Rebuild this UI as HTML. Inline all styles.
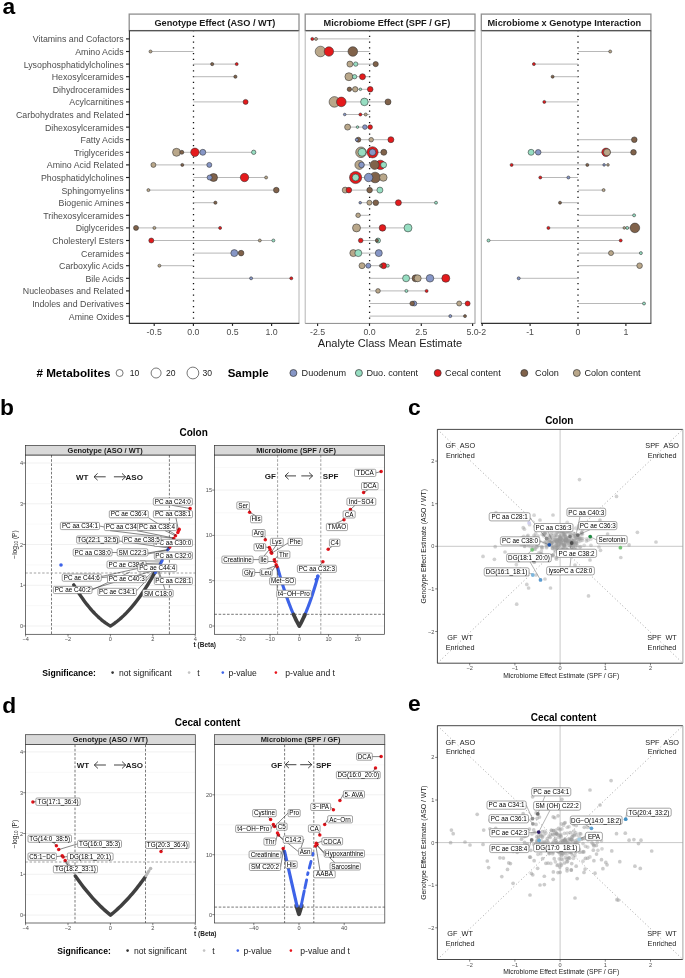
<!DOCTYPE html>
<html><head><meta charset="utf-8"><style>
html,body{margin:0;padding:0;background:#fff;width:685px;height:978px;overflow:hidden}
svg{display:block;filter:blur(0.3px)}
text{font-family:"Liberation Sans", sans-serif}
</style></head><body>
<svg width="685" height="978" viewBox="0 0 685 978" font-family="Liberation Sans, sans-serif">
<rect width="685" height="978" fill="#fff"/>
<text x="2.40" y="13.90" font-size="22.8" font-weight="bold" text-anchor="start" fill="#000">a</text>
<rect x="129.20" y="14.10" width="169.80" height="16.50" fill="#fff" stroke="#8f8f8f" stroke-width="1.3"/>
<line x1="129.20" y1="30.60" x2="299.00" y2="30.60" stroke="#555" stroke-width="1.1"/>
<text x="214.90" y="25.90" font-size="9.2" font-weight="bold" text-anchor="middle" fill="#1a1a1a">Genotype Effect (ASO / WT)</text>
<rect x="305.20" y="14.10" width="169.80" height="16.50" fill="#fff" stroke="#8f8f8f" stroke-width="1.3"/>
<line x1="305.20" y1="30.60" x2="475.00" y2="30.60" stroke="#555" stroke-width="1.1"/>
<text x="386.90" y="25.90" font-size="9.2" font-weight="bold" text-anchor="middle" fill="#1a1a1a">Microbiome Effect (SPF / GF)</text>
<rect x="481.30" y="14.10" width="169.60" height="16.50" fill="#fff" stroke="#8f8f8f" stroke-width="1.3"/>
<line x1="481.30" y1="30.60" x2="650.90" y2="30.60" stroke="#555" stroke-width="1.1"/>
<text x="564.30" y="25.90" font-size="9.2" font-weight="bold" text-anchor="middle" fill="#1a1a1a">Microbiome x Genotype Interaction</text>
<line x1="299.00" y1="30.60" x2="299.00" y2="323.40" stroke="#b4b4b4" stroke-width="1.0"/>
<line x1="305.20" y1="30.60" x2="305.20" y2="323.40" stroke="#b4b4b4" stroke-width="1.0"/>
<line x1="475.00" y1="30.60" x2="475.00" y2="323.40" stroke="#999" stroke-width="1.0"/>
<line x1="481.30" y1="30.60" x2="481.30" y2="323.40" stroke="#b0b0b0" stroke-width="1.0"/>
<line x1="650.90" y1="30.60" x2="650.90" y2="323.40" stroke="#555" stroke-width="1.1"/>
<line x1="129.40" y1="30.60" x2="129.40" y2="323.90" stroke="#333" stroke-width="1.1"/>
<line x1="129.40" y1="323.40" x2="299.30" y2="323.40" stroke="#333" stroke-width="1.1"/>
<line x1="305.20" y1="323.40" x2="475.30" y2="323.40" stroke="#8a8a8a" stroke-width="1.0"/>
<line x1="481.00" y1="323.40" x2="651.30" y2="323.40" stroke="#333" stroke-width="1.1"/>
<text x="123.60" y="42.40" font-size="8.8" text-anchor="end" fill="#4d4d4d">Vitamins and Cofactors</text>
<line x1="126.00" y1="38.90" x2="129.40" y2="38.90" stroke="#222" stroke-width="1.15"/>
<text x="123.60" y="55.00" font-size="8.8" text-anchor="end" fill="#4d4d4d">Amino Acids</text>
<line x1="126.00" y1="51.50" x2="129.40" y2="51.50" stroke="#222" stroke-width="1.15"/>
<text x="123.60" y="67.60" font-size="8.8" text-anchor="end" fill="#4d4d4d">Lysophosphatidylcholines</text>
<line x1="126.00" y1="64.10" x2="129.40" y2="64.10" stroke="#222" stroke-width="1.15"/>
<text x="123.60" y="80.20" font-size="8.8" text-anchor="end" fill="#4d4d4d">Hexosylceramides</text>
<line x1="126.00" y1="76.70" x2="129.40" y2="76.70" stroke="#222" stroke-width="1.15"/>
<text x="123.60" y="92.80" font-size="8.8" text-anchor="end" fill="#4d4d4d">Dihydroceramides</text>
<line x1="126.00" y1="89.30" x2="129.40" y2="89.30" stroke="#222" stroke-width="1.15"/>
<text x="123.60" y="105.40" font-size="8.8" text-anchor="end" fill="#4d4d4d">Acylcarnitines</text>
<line x1="126.00" y1="101.90" x2="129.40" y2="101.90" stroke="#222" stroke-width="1.15"/>
<text x="123.60" y="118.00" font-size="8.8" text-anchor="end" fill="#4d4d4d">Carbohydrates and Related</text>
<line x1="126.00" y1="114.50" x2="129.40" y2="114.50" stroke="#222" stroke-width="1.15"/>
<text x="123.60" y="130.60" font-size="8.8" text-anchor="end" fill="#4d4d4d">Dihexosylceramides</text>
<line x1="126.00" y1="127.10" x2="129.40" y2="127.10" stroke="#222" stroke-width="1.15"/>
<text x="123.60" y="143.20" font-size="8.8" text-anchor="end" fill="#4d4d4d">Fatty Acids</text>
<line x1="126.00" y1="139.70" x2="129.40" y2="139.70" stroke="#222" stroke-width="1.15"/>
<text x="123.60" y="155.80" font-size="8.8" text-anchor="end" fill="#4d4d4d">Triglycerides</text>
<line x1="126.00" y1="152.30" x2="129.40" y2="152.30" stroke="#222" stroke-width="1.15"/>
<text x="123.60" y="168.40" font-size="8.8" text-anchor="end" fill="#4d4d4d">Amino Acid Related</text>
<line x1="126.00" y1="164.90" x2="129.40" y2="164.90" stroke="#222" stroke-width="1.15"/>
<text x="123.60" y="181.00" font-size="8.8" text-anchor="end" fill="#4d4d4d">Phosphatidylcholines</text>
<line x1="126.00" y1="177.50" x2="129.40" y2="177.50" stroke="#222" stroke-width="1.15"/>
<text x="123.60" y="193.60" font-size="8.8" text-anchor="end" fill="#4d4d4d">Sphingomyelins</text>
<line x1="126.00" y1="190.10" x2="129.40" y2="190.10" stroke="#222" stroke-width="1.15"/>
<text x="123.60" y="206.20" font-size="8.8" text-anchor="end" fill="#4d4d4d">Biogenic Amines</text>
<line x1="126.00" y1="202.70" x2="129.40" y2="202.70" stroke="#222" stroke-width="1.15"/>
<text x="123.60" y="218.80" font-size="8.8" text-anchor="end" fill="#4d4d4d">Trihexosylceramides</text>
<line x1="126.00" y1="215.30" x2="129.40" y2="215.30" stroke="#222" stroke-width="1.15"/>
<text x="123.60" y="231.40" font-size="8.8" text-anchor="end" fill="#4d4d4d">Diglycerides</text>
<line x1="126.00" y1="227.90" x2="129.40" y2="227.90" stroke="#222" stroke-width="1.15"/>
<text x="123.60" y="244.00" font-size="8.8" text-anchor="end" fill="#4d4d4d">Cholesteryl Esters</text>
<line x1="126.00" y1="240.50" x2="129.40" y2="240.50" stroke="#222" stroke-width="1.15"/>
<text x="123.60" y="256.60" font-size="8.8" text-anchor="end" fill="#4d4d4d">Ceramides</text>
<line x1="126.00" y1="253.10" x2="129.40" y2="253.10" stroke="#222" stroke-width="1.15"/>
<text x="123.60" y="269.20" font-size="8.8" text-anchor="end" fill="#4d4d4d">Carboxylic Acids</text>
<line x1="126.00" y1="265.70" x2="129.40" y2="265.70" stroke="#222" stroke-width="1.15"/>
<text x="123.60" y="281.80" font-size="8.8" text-anchor="end" fill="#4d4d4d">Bile Acids</text>
<line x1="126.00" y1="278.30" x2="129.40" y2="278.30" stroke="#222" stroke-width="1.15"/>
<text x="123.60" y="294.40" font-size="8.8" text-anchor="end" fill="#4d4d4d">Nucleobases and Related</text>
<line x1="126.00" y1="290.90" x2="129.40" y2="290.90" stroke="#222" stroke-width="1.15"/>
<text x="123.60" y="307.00" font-size="8.8" text-anchor="end" fill="#4d4d4d">Indoles and Derivatives</text>
<line x1="126.00" y1="303.50" x2="129.40" y2="303.50" stroke="#222" stroke-width="1.15"/>
<text x="123.60" y="319.60" font-size="8.8" text-anchor="end" fill="#4d4d4d">Amine Oxides</text>
<line x1="126.00" y1="316.10" x2="129.40" y2="316.10" stroke="#222" stroke-width="1.15"/>
<line x1="193.50" y1="30.90" x2="193.50" y2="323.40" stroke="#111" stroke-width="1.3" stroke-dasharray="1.3 4.45" stroke-dashoffset="1.0"/>
<line x1="369.60" y1="30.90" x2="369.60" y2="323.40" stroke="#111" stroke-width="1.3" stroke-dasharray="1.3 4.45" stroke-dashoffset="1.0"/>
<line x1="578.00" y1="30.90" x2="578.00" y2="323.40" stroke="#111" stroke-width="1.3" stroke-dasharray="1.3 4.45" stroke-dashoffset="1.0"/>
<line x1="154.20" y1="323.40" x2="154.20" y2="325.90" stroke="#222" stroke-width="1.15"/>
<text x="154.20" y="335.40" font-size="8.8" text-anchor="middle" fill="#4d4d4d">-0.5</text>
<line x1="193.40" y1="323.40" x2="193.40" y2="325.90" stroke="#222" stroke-width="1.15"/>
<text x="193.40" y="335.40" font-size="8.8" text-anchor="middle" fill="#4d4d4d">0.0</text>
<line x1="232.50" y1="323.40" x2="232.50" y2="325.90" stroke="#222" stroke-width="1.15"/>
<text x="232.50" y="335.40" font-size="8.8" text-anchor="middle" fill="#4d4d4d">0.5</text>
<line x1="271.60" y1="323.40" x2="271.60" y2="325.90" stroke="#222" stroke-width="1.15"/>
<text x="271.60" y="335.40" font-size="8.8" text-anchor="middle" fill="#4d4d4d">1.0</text>
<line x1="317.60" y1="323.40" x2="317.60" y2="325.90" stroke="#222" stroke-width="1.15"/>
<text x="317.60" y="335.40" font-size="8.8" text-anchor="middle" fill="#4d4d4d">-2.5</text>
<line x1="369.50" y1="323.40" x2="369.50" y2="325.90" stroke="#222" stroke-width="1.15"/>
<text x="369.50" y="335.40" font-size="8.8" text-anchor="middle" fill="#4d4d4d">0.0</text>
<line x1="421.30" y1="323.40" x2="421.30" y2="325.90" stroke="#222" stroke-width="1.15"/>
<text x="421.30" y="335.40" font-size="8.8" text-anchor="middle" fill="#4d4d4d">2.5</text>
<line x1="472.60" y1="323.40" x2="472.60" y2="325.90" stroke="#222" stroke-width="1.15"/>
<text x="472.60" y="335.40" font-size="8.8" text-anchor="middle" fill="#4d4d4d">5.0</text>
<line x1="482.20" y1="323.40" x2="482.20" y2="325.90" stroke="#222" stroke-width="1.15"/>
<text x="482.20" y="335.40" font-size="8.8" text-anchor="middle" fill="#4d4d4d">-2</text>
<line x1="530.10" y1="323.40" x2="530.10" y2="325.90" stroke="#222" stroke-width="1.15"/>
<text x="530.10" y="335.40" font-size="8.8" text-anchor="middle" fill="#4d4d4d">-1</text>
<line x1="578.00" y1="323.40" x2="578.00" y2="325.90" stroke="#222" stroke-width="1.15"/>
<text x="578.00" y="335.40" font-size="8.8" text-anchor="middle" fill="#4d4d4d">0</text>
<line x1="625.90" y1="323.40" x2="625.90" y2="325.90" stroke="#222" stroke-width="1.15"/>
<text x="625.90" y="335.40" font-size="8.8" text-anchor="middle" fill="#4d4d4d">1</text>
<text x="390.00" y="346.90" font-size="11.05" text-anchor="middle" fill="#1a1a1a">Analyte Class Mean Estimate</text>
<line x1="150.50" y1="51.50" x2="193.50" y2="51.50" stroke="#ababab" stroke-width="0.85"/>
<line x1="193.50" y1="64.10" x2="236.70" y2="64.10" stroke="#ababab" stroke-width="0.85"/>
<line x1="193.50" y1="76.70" x2="235.40" y2="76.70" stroke="#ababab" stroke-width="0.85"/>
<line x1="193.50" y1="101.90" x2="245.60" y2="101.90" stroke="#ababab" stroke-width="0.85"/>
<line x1="176.50" y1="152.30" x2="253.70" y2="152.30" stroke="#ababab" stroke-width="0.85"/>
<line x1="153.40" y1="164.90" x2="209.30" y2="164.90" stroke="#ababab" stroke-width="0.85"/>
<line x1="193.50" y1="177.50" x2="266.10" y2="177.50" stroke="#ababab" stroke-width="0.85"/>
<line x1="148.40" y1="190.10" x2="276.30" y2="190.10" stroke="#ababab" stroke-width="0.85"/>
<line x1="193.50" y1="202.70" x2="215.40" y2="202.70" stroke="#ababab" stroke-width="0.85"/>
<line x1="136.00" y1="227.90" x2="220.10" y2="227.90" stroke="#ababab" stroke-width="0.85"/>
<line x1="151.30" y1="240.50" x2="273.40" y2="240.50" stroke="#ababab" stroke-width="0.85"/>
<line x1="193.50" y1="253.10" x2="241.10" y2="253.10" stroke="#ababab" stroke-width="0.85"/>
<line x1="159.40" y1="265.70" x2="193.50" y2="265.70" stroke="#ababab" stroke-width="0.85"/>
<line x1="193.50" y1="278.30" x2="291.30" y2="278.30" stroke="#ababab" stroke-width="0.85"/>
<circle cx="150.50" cy="51.50" r="1.50" fill="#b9a78a" stroke="#2e2e2e" stroke-width="0.55"/>
<circle cx="212.20" cy="64.10" r="1.60" fill="#80624a" stroke="#2e2e2e" stroke-width="0.55"/>
<circle cx="236.70" cy="64.10" r="1.50" fill="#e41a1c" stroke="#2e2e2e" stroke-width="0.55"/>
<circle cx="235.40" cy="76.70" r="1.60" fill="#80624a" stroke="#2e2e2e" stroke-width="0.55"/>
<circle cx="245.60" cy="101.90" r="2.50" fill="#e41a1c" stroke="#2e2e2e" stroke-width="0.55"/>
<circle cx="194.90" cy="152.30" r="4.20" fill="#e41a1c" stroke="#2e2e2e" stroke-width="0.55"/>
<circle cx="176.50" cy="152.30" r="4.00" fill="#b9a78a" stroke="#2e2e2e" stroke-width="0.55"/>
<circle cx="202.80" cy="152.30" r="3.00" fill="#8696c6" stroke="#2e2e2e" stroke-width="0.55"/>
<circle cx="253.70" cy="152.30" r="2.20" fill="#97dec2" stroke="#2e2e2e" stroke-width="0.55"/>
<circle cx="181.80" cy="152.30" r="2.00" fill="#80624a" stroke="#2e2e2e" stroke-width="0.55"/>
<circle cx="153.40" cy="164.90" r="2.50" fill="#b9a78a" stroke="#2e2e2e" stroke-width="0.55"/>
<circle cx="209.30" cy="164.90" r="2.50" fill="#8696c6" stroke="#2e2e2e" stroke-width="0.55"/>
<circle cx="182.30" cy="164.90" r="1.50" fill="#80624a" stroke="#2e2e2e" stroke-width="0.55"/>
<circle cx="244.50" cy="177.50" r="4.20" fill="#e41a1c" stroke="#2e2e2e" stroke-width="0.55"/>
<circle cx="213.50" cy="177.50" r="4.00" fill="#80624a" stroke="#2e2e2e" stroke-width="0.55"/>
<circle cx="209.60" cy="177.50" r="2.50" fill="#8696c6" stroke="#2e2e2e" stroke-width="0.55"/>
<circle cx="266.10" cy="177.50" r="1.50" fill="#b9a78a" stroke="#2e2e2e" stroke-width="0.55"/>
<circle cx="276.30" cy="190.10" r="2.80" fill="#80624a" stroke="#2e2e2e" stroke-width="0.55"/>
<circle cx="148.40" cy="190.10" r="1.50" fill="#b9a78a" stroke="#2e2e2e" stroke-width="0.55"/>
<circle cx="215.40" cy="202.70" r="1.60" fill="#80624a" stroke="#2e2e2e" stroke-width="0.55"/>
<circle cx="136.00" cy="227.90" r="2.50" fill="#80624a" stroke="#2e2e2e" stroke-width="0.55"/>
<circle cx="154.40" cy="227.90" r="1.50" fill="#b9a78a" stroke="#2e2e2e" stroke-width="0.55"/>
<circle cx="220.10" cy="227.90" r="1.50" fill="#e41a1c" stroke="#2e2e2e" stroke-width="0.55"/>
<circle cx="151.30" cy="240.50" r="2.50" fill="#e41a1c" stroke="#2e2e2e" stroke-width="0.55"/>
<circle cx="259.80" cy="240.50" r="1.50" fill="#b9a78a" stroke="#2e2e2e" stroke-width="0.55"/>
<circle cx="273.40" cy="240.50" r="1.50" fill="#97dec2" stroke="#2e2e2e" stroke-width="0.55"/>
<circle cx="234.30" cy="253.10" r="3.50" fill="#8696c6" stroke="#2e2e2e" stroke-width="0.55"/>
<circle cx="241.10" cy="253.10" r="2.80" fill="#80624a" stroke="#2e2e2e" stroke-width="0.55"/>
<circle cx="159.40" cy="265.70" r="1.50" fill="#b9a78a" stroke="#2e2e2e" stroke-width="0.55"/>
<circle cx="251.10" cy="278.30" r="1.50" fill="#8696c6" stroke="#2e2e2e" stroke-width="0.55"/>
<circle cx="291.30" cy="278.30" r="1.50" fill="#e41a1c" stroke="#2e2e2e" stroke-width="0.55"/>
<line x1="312.30" y1="38.90" x2="369.60" y2="38.90" stroke="#ababab" stroke-width="0.85"/>
<line x1="320.50" y1="51.50" x2="369.60" y2="51.50" stroke="#ababab" stroke-width="0.85"/>
<line x1="349.90" y1="64.10" x2="375.70" y2="64.10" stroke="#ababab" stroke-width="0.85"/>
<line x1="348.90" y1="76.70" x2="369.60" y2="76.70" stroke="#ababab" stroke-width="0.85"/>
<line x1="349.40" y1="89.30" x2="370.20" y2="89.30" stroke="#ababab" stroke-width="0.85"/>
<line x1="334.40" y1="101.90" x2="388.00" y2="101.90" stroke="#ababab" stroke-width="0.85"/>
<line x1="344.70" y1="114.50" x2="369.60" y2="114.50" stroke="#ababab" stroke-width="0.85"/>
<line x1="347.60" y1="127.10" x2="370.20" y2="127.10" stroke="#ababab" stroke-width="0.85"/>
<line x1="356.80" y1="139.70" x2="390.90" y2="139.70" stroke="#ababab" stroke-width="0.85"/>
<line x1="361.00" y1="152.30" x2="383.80" y2="152.30" stroke="#ababab" stroke-width="0.85"/>
<line x1="359.40" y1="164.90" x2="383.60" y2="164.90" stroke="#ababab" stroke-width="0.85"/>
<line x1="355.60" y1="177.50" x2="383.30" y2="177.50" stroke="#ababab" stroke-width="0.85"/>
<line x1="345.20" y1="190.10" x2="379.90" y2="190.10" stroke="#ababab" stroke-width="0.85"/>
<line x1="360.20" y1="202.70" x2="436.00" y2="202.70" stroke="#ababab" stroke-width="0.85"/>
<line x1="358.10" y1="215.30" x2="369.60" y2="215.30" stroke="#ababab" stroke-width="0.85"/>
<line x1="356.50" y1="227.90" x2="408.00" y2="227.90" stroke="#ababab" stroke-width="0.85"/>
<line x1="360.70" y1="240.50" x2="378.00" y2="240.50" stroke="#ababab" stroke-width="0.85"/>
<line x1="353.30" y1="253.10" x2="378.80" y2="253.10" stroke="#ababab" stroke-width="0.85"/>
<line x1="362.00" y1="265.70" x2="387.80" y2="265.70" stroke="#ababab" stroke-width="0.85"/>
<line x1="369.60" y1="278.30" x2="445.80" y2="278.30" stroke="#ababab" stroke-width="0.85"/>
<line x1="369.60" y1="290.90" x2="426.60" y2="290.90" stroke="#ababab" stroke-width="0.85"/>
<line x1="369.60" y1="303.50" x2="467.60" y2="303.50" stroke="#ababab" stroke-width="0.85"/>
<line x1="369.60" y1="316.10" x2="465.00" y2="316.10" stroke="#ababab" stroke-width="0.85"/>
<circle cx="312.30" cy="38.90" r="1.50" fill="#e41a1c" stroke="#2e2e2e" stroke-width="0.55"/>
<circle cx="316.00" cy="38.90" r="1.50" fill="#b9a78a" stroke="#2e2e2e" stroke-width="0.55"/>
<circle cx="320.50" cy="51.50" r="5.30" fill="#b9a78a" stroke="#2e2e2e" stroke-width="0.55"/>
<circle cx="352.80" cy="51.50" r="4.80" fill="#80624a" stroke="#2e2e2e" stroke-width="0.55"/>
<circle cx="328.90" cy="51.50" r="4.70" fill="#e41a1c" stroke="#2e2e2e" stroke-width="0.55"/>
<circle cx="349.90" cy="64.10" r="3.00" fill="#b9a78a" stroke="#2e2e2e" stroke-width="0.55"/>
<circle cx="375.70" cy="64.10" r="2.60" fill="#80624a" stroke="#2e2e2e" stroke-width="0.55"/>
<circle cx="355.70" cy="64.10" r="2.20" fill="#97dec2" stroke="#2e2e2e" stroke-width="0.55"/>
<circle cx="348.90" cy="76.70" r="4.00" fill="#b9a78a" stroke="#2e2e2e" stroke-width="0.55"/>
<circle cx="362.50" cy="76.70" r="3.00" fill="#e41a1c" stroke="#2e2e2e" stroke-width="0.55"/>
<circle cx="354.60" cy="76.70" r="2.20" fill="#97dec2" stroke="#2e2e2e" stroke-width="0.55"/>
<circle cx="370.20" cy="89.30" r="2.80" fill="#e41a1c" stroke="#2e2e2e" stroke-width="0.55"/>
<circle cx="355.20" cy="89.30" r="2.70" fill="#b9a78a" stroke="#2e2e2e" stroke-width="0.55"/>
<circle cx="349.40" cy="89.30" r="2.20" fill="#80624a" stroke="#2e2e2e" stroke-width="0.55"/>
<circle cx="360.40" cy="89.30" r="1.30" fill="#97dec2" stroke="#2e2e2e" stroke-width="0.55"/>
<circle cx="334.40" cy="101.90" r="5.30" fill="#b9a78a" stroke="#2e2e2e" stroke-width="0.55"/>
<circle cx="341.30" cy="101.90" r="4.80" fill="#e41a1c" stroke="#2e2e2e" stroke-width="0.55"/>
<circle cx="364.40" cy="101.90" r="3.80" fill="#97dec2" stroke="#2e2e2e" stroke-width="0.55"/>
<circle cx="388.00" cy="101.90" r="3.00" fill="#80624a" stroke="#2e2e2e" stroke-width="0.55"/>
<circle cx="360.40" cy="114.50" r="1.50" fill="#e41a1c" stroke="#2e2e2e" stroke-width="0.55"/>
<circle cx="365.70" cy="114.50" r="1.50" fill="#b9a78a" stroke="#2e2e2e" stroke-width="0.55"/>
<circle cx="344.70" cy="114.50" r="1.30" fill="#8696c6" stroke="#2e2e2e" stroke-width="0.55"/>
<circle cx="347.60" cy="127.10" r="3.00" fill="#b9a78a" stroke="#2e2e2e" stroke-width="0.55"/>
<circle cx="364.90" cy="127.10" r="2.30" fill="#8696c6" stroke="#2e2e2e" stroke-width="0.55"/>
<circle cx="370.20" cy="127.10" r="2.30" fill="#e41a1c" stroke="#2e2e2e" stroke-width="0.55"/>
<circle cx="357.50" cy="127.10" r="1.30" fill="#97dec2" stroke="#2e2e2e" stroke-width="0.55"/>
<circle cx="390.90" cy="139.70" r="3.00" fill="#e41a1c" stroke="#2e2e2e" stroke-width="0.55"/>
<circle cx="358.30" cy="139.70" r="2.50" fill="#80624a" stroke="#2e2e2e" stroke-width="0.55"/>
<circle cx="371.20" cy="139.70" r="2.30" fill="#b9a78a" stroke="#2e2e2e" stroke-width="0.55"/>
<circle cx="356.80" cy="139.70" r="1.50" fill="#8696c6" stroke="#2e2e2e" stroke-width="0.55"/>
<circle cx="372.50" cy="152.30" r="5.60" fill="#e41a1c" stroke="#2e2e2e" stroke-width="0.55"/>
<circle cx="361.00" cy="152.30" r="5.30" fill="#b9a78a" stroke="#2e2e2e" stroke-width="0.55"/>
<circle cx="362.00" cy="152.30" r="4.00" fill="#97dec2" stroke="#2e2e2e" stroke-width="0.55"/>
<circle cx="372.50" cy="152.30" r="3.30" fill="#8696c6" stroke="#2e2e2e" stroke-width="0.55"/>
<circle cx="383.80" cy="152.30" r="3.00" fill="#80624a" stroke="#2e2e2e" stroke-width="0.55"/>
<circle cx="380.40" cy="164.90" r="4.70" fill="#e41a1c" stroke="#2e2e2e" stroke-width="0.55"/>
<circle cx="359.40" cy="164.90" r="4.50" fill="#b9a78a" stroke="#2e2e2e" stroke-width="0.55"/>
<circle cx="374.60" cy="164.90" r="4.50" fill="#80624a" stroke="#2e2e2e" stroke-width="0.55"/>
<circle cx="383.60" cy="164.90" r="3.00" fill="#97dec2" stroke="#2e2e2e" stroke-width="0.55"/>
<circle cx="361.50" cy="164.90" r="2.80" fill="#8696c6" stroke="#2e2e2e" stroke-width="0.55"/>
<circle cx="355.60" cy="177.50" r="6.10" fill="#e41a1c" stroke="#2e2e2e" stroke-width="0.55"/>
<circle cx="375.10" cy="177.50" r="5.30" fill="#80624a" stroke="#2e2e2e" stroke-width="0.55"/>
<circle cx="368.60" cy="177.50" r="4.20" fill="#8696c6" stroke="#2e2e2e" stroke-width="0.55"/>
<circle cx="383.30" cy="177.50" r="3.80" fill="#b9a78a" stroke="#2e2e2e" stroke-width="0.55"/>
<circle cx="355.60" cy="177.50" r="3.40" fill="#97dec2" stroke="#2e2e2e" stroke-width="0.55"/>
<circle cx="345.20" cy="190.10" r="3.00" fill="#b9a78a" stroke="#2e2e2e" stroke-width="0.55"/>
<circle cx="379.90" cy="190.10" r="3.00" fill="#97dec2" stroke="#2e2e2e" stroke-width="0.55"/>
<circle cx="348.90" cy="190.10" r="2.80" fill="#e41a1c" stroke="#2e2e2e" stroke-width="0.55"/>
<circle cx="369.60" cy="190.10" r="2.80" fill="#80624a" stroke="#2e2e2e" stroke-width="0.55"/>
<circle cx="398.40" cy="202.70" r="3.00" fill="#e41a1c" stroke="#2e2e2e" stroke-width="0.55"/>
<circle cx="375.80" cy="202.70" r="2.80" fill="#80624a" stroke="#2e2e2e" stroke-width="0.55"/>
<circle cx="369.40" cy="202.70" r="2.50" fill="#b9a78a" stroke="#2e2e2e" stroke-width="0.55"/>
<circle cx="436.00" cy="202.70" r="1.50" fill="#97dec2" stroke="#2e2e2e" stroke-width="0.55"/>
<circle cx="360.20" cy="202.70" r="1.30" fill="#8696c6" stroke="#2e2e2e" stroke-width="0.55"/>
<circle cx="358.10" cy="215.30" r="2.30" fill="#b9a78a" stroke="#2e2e2e" stroke-width="0.55"/>
<circle cx="356.50" cy="227.90" r="4.00" fill="#b9a78a" stroke="#2e2e2e" stroke-width="0.55"/>
<circle cx="408.00" cy="227.90" r="4.00" fill="#97dec2" stroke="#2e2e2e" stroke-width="0.55"/>
<circle cx="382.50" cy="227.90" r="3.30" fill="#e41a1c" stroke="#2e2e2e" stroke-width="0.55"/>
<circle cx="378.00" cy="240.50" r="2.50" fill="#97dec2" stroke="#2e2e2e" stroke-width="0.55"/>
<circle cx="360.70" cy="240.50" r="2.30" fill="#e41a1c" stroke="#2e2e2e" stroke-width="0.55"/>
<circle cx="377.00" cy="240.50" r="1.50" fill="#80624a" stroke="#2e2e2e" stroke-width="0.55"/>
<circle cx="353.30" cy="253.10" r="3.50" fill="#b9a78a" stroke="#2e2e2e" stroke-width="0.55"/>
<circle cx="358.30" cy="253.10" r="3.50" fill="#97dec2" stroke="#2e2e2e" stroke-width="0.55"/>
<circle cx="378.80" cy="253.10" r="3.50" fill="#8696c6" stroke="#2e2e2e" stroke-width="0.55"/>
<circle cx="362.00" cy="265.70" r="3.00" fill="#b9a78a" stroke="#2e2e2e" stroke-width="0.55"/>
<circle cx="383.60" cy="265.70" r="3.00" fill="#e41a1c" stroke="#2e2e2e" stroke-width="0.55"/>
<circle cx="368.30" cy="265.70" r="2.50" fill="#8696c6" stroke="#2e2e2e" stroke-width="0.55"/>
<circle cx="380.90" cy="265.70" r="1.50" fill="#80624a" stroke="#2e2e2e" stroke-width="0.55"/>
<circle cx="387.80" cy="265.70" r="1.50" fill="#97dec2" stroke="#2e2e2e" stroke-width="0.55"/>
<circle cx="445.80" cy="278.30" r="4.00" fill="#e41a1c" stroke="#2e2e2e" stroke-width="0.55"/>
<circle cx="430.00" cy="278.30" r="3.80" fill="#8696c6" stroke="#2e2e2e" stroke-width="0.55"/>
<circle cx="406.10" cy="278.30" r="3.50" fill="#97dec2" stroke="#2e2e2e" stroke-width="0.55"/>
<circle cx="415.60" cy="278.30" r="3.50" fill="#80624a" stroke="#2e2e2e" stroke-width="0.55"/>
<circle cx="417.70" cy="278.30" r="3.50" fill="#b9a78a" stroke="#2e2e2e" stroke-width="0.55"/>
<circle cx="378.00" cy="290.90" r="2.30" fill="#b9a78a" stroke="#2e2e2e" stroke-width="0.55"/>
<circle cx="406.40" cy="290.90" r="1.50" fill="#97dec2" stroke="#2e2e2e" stroke-width="0.55"/>
<circle cx="426.60" cy="290.90" r="1.50" fill="#e41a1c" stroke="#2e2e2e" stroke-width="0.55"/>
<circle cx="414.30" cy="303.50" r="2.50" fill="#8696c6" stroke="#2e2e2e" stroke-width="0.55"/>
<circle cx="459.20" cy="303.50" r="2.50" fill="#b9a78a" stroke="#2e2e2e" stroke-width="0.55"/>
<circle cx="467.60" cy="303.50" r="2.50" fill="#e41a1c" stroke="#2e2e2e" stroke-width="0.55"/>
<circle cx="412.20" cy="303.50" r="2.30" fill="#80624a" stroke="#2e2e2e" stroke-width="0.55"/>
<circle cx="450.30" cy="316.10" r="1.50" fill="#8696c6" stroke="#2e2e2e" stroke-width="0.55"/>
<circle cx="465.00" cy="316.10" r="1.50" fill="#80624a" stroke="#2e2e2e" stroke-width="0.55"/>
<line x1="578.00" y1="51.50" x2="610.20" y2="51.50" stroke="#ababab" stroke-width="0.85"/>
<line x1="533.90" y1="64.10" x2="578.00" y2="64.10" stroke="#ababab" stroke-width="0.85"/>
<line x1="552.60" y1="76.70" x2="578.00" y2="76.70" stroke="#ababab" stroke-width="0.85"/>
<line x1="544.30" y1="101.90" x2="578.00" y2="101.90" stroke="#ababab" stroke-width="0.85"/>
<line x1="578.00" y1="139.70" x2="634.30" y2="139.70" stroke="#ababab" stroke-width="0.85"/>
<line x1="531.10" y1="152.30" x2="633.50" y2="152.30" stroke="#ababab" stroke-width="0.85"/>
<line x1="511.60" y1="164.90" x2="608.00" y2="164.90" stroke="#ababab" stroke-width="0.85"/>
<line x1="540.30" y1="177.50" x2="578.00" y2="177.50" stroke="#ababab" stroke-width="0.85"/>
<line x1="578.00" y1="190.10" x2="603.60" y2="190.10" stroke="#ababab" stroke-width="0.85"/>
<line x1="560.00" y1="202.70" x2="578.00" y2="202.70" stroke="#ababab" stroke-width="0.85"/>
<line x1="578.00" y1="215.30" x2="634.10" y2="215.30" stroke="#ababab" stroke-width="0.85"/>
<line x1="548.40" y1="227.90" x2="634.90" y2="227.90" stroke="#ababab" stroke-width="0.85"/>
<line x1="488.50" y1="240.50" x2="620.70" y2="240.50" stroke="#ababab" stroke-width="0.85"/>
<line x1="578.00" y1="253.10" x2="640.90" y2="253.10" stroke="#ababab" stroke-width="0.85"/>
<line x1="578.00" y1="265.70" x2="639.60" y2="265.70" stroke="#ababab" stroke-width="0.85"/>
<line x1="518.70" y1="278.30" x2="578.00" y2="278.30" stroke="#ababab" stroke-width="0.85"/>
<line x1="578.00" y1="303.50" x2="644.00" y2="303.50" stroke="#ababab" stroke-width="0.85"/>
<circle cx="610.20" cy="51.50" r="1.50" fill="#b9a78a" stroke="#2e2e2e" stroke-width="0.55"/>
<circle cx="533.90" cy="64.10" r="1.50" fill="#e41a1c" stroke="#2e2e2e" stroke-width="0.55"/>
<circle cx="552.60" cy="76.70" r="1.50" fill="#80624a" stroke="#2e2e2e" stroke-width="0.55"/>
<circle cx="544.30" cy="101.90" r="1.50" fill="#e41a1c" stroke="#2e2e2e" stroke-width="0.55"/>
<circle cx="634.30" cy="139.70" r="2.80" fill="#80624a" stroke="#2e2e2e" stroke-width="0.55"/>
<circle cx="606.00" cy="152.30" r="4.20" fill="#e41a1c" stroke="#2e2e2e" stroke-width="0.55"/>
<circle cx="607.00" cy="152.30" r="3.50" fill="#b9a78a" stroke="#2e2e2e" stroke-width="0.55"/>
<circle cx="531.10" cy="152.30" r="3.00" fill="#97dec2" stroke="#2e2e2e" stroke-width="0.55"/>
<circle cx="538.20" cy="152.30" r="2.80" fill="#8696c6" stroke="#2e2e2e" stroke-width="0.55"/>
<circle cx="633.50" cy="152.30" r="2.80" fill="#80624a" stroke="#2e2e2e" stroke-width="0.55"/>
<circle cx="511.60" cy="164.90" r="1.50" fill="#e41a1c" stroke="#2e2e2e" stroke-width="0.55"/>
<circle cx="587.30" cy="164.90" r="1.50" fill="#80624a" stroke="#2e2e2e" stroke-width="0.55"/>
<circle cx="604.10" cy="164.90" r="1.30" fill="#8696c6" stroke="#2e2e2e" stroke-width="0.55"/>
<circle cx="608.00" cy="164.90" r="1.30" fill="#b9a78a" stroke="#2e2e2e" stroke-width="0.55"/>
<circle cx="540.30" cy="177.50" r="1.50" fill="#e41a1c" stroke="#2e2e2e" stroke-width="0.55"/>
<circle cx="568.40" cy="177.50" r="1.50" fill="#8696c6" stroke="#2e2e2e" stroke-width="0.55"/>
<circle cx="603.60" cy="190.10" r="1.50" fill="#b9a78a" stroke="#2e2e2e" stroke-width="0.55"/>
<circle cx="560.00" cy="202.70" r="1.50" fill="#80624a" stroke="#2e2e2e" stroke-width="0.55"/>
<circle cx="634.10" cy="215.30" r="1.50" fill="#97dec2" stroke="#2e2e2e" stroke-width="0.55"/>
<circle cx="634.90" cy="227.90" r="4.80" fill="#80624a" stroke="#2e2e2e" stroke-width="0.55"/>
<circle cx="548.40" cy="227.90" r="1.50" fill="#e41a1c" stroke="#2e2e2e" stroke-width="0.55"/>
<circle cx="627.20" cy="227.90" r="1.50" fill="#97dec2" stroke="#2e2e2e" stroke-width="0.55"/>
<circle cx="624.30" cy="227.90" r="1.30" fill="#b9a78a" stroke="#2e2e2e" stroke-width="0.55"/>
<circle cx="488.50" cy="240.50" r="1.50" fill="#97dec2" stroke="#2e2e2e" stroke-width="0.55"/>
<circle cx="620.70" cy="240.50" r="1.50" fill="#e41a1c" stroke="#2e2e2e" stroke-width="0.55"/>
<circle cx="611.00" cy="253.10" r="2.50" fill="#b9a78a" stroke="#2e2e2e" stroke-width="0.55"/>
<circle cx="640.90" cy="253.10" r="1.50" fill="#97dec2" stroke="#2e2e2e" stroke-width="0.55"/>
<circle cx="639.60" cy="265.70" r="2.80" fill="#b9a78a" stroke="#2e2e2e" stroke-width="0.55"/>
<circle cx="518.70" cy="278.30" r="1.50" fill="#8696c6" stroke="#2e2e2e" stroke-width="0.55"/>
<circle cx="644.00" cy="303.50" r="1.50" fill="#97dec2" stroke="#2e2e2e" stroke-width="0.55"/>
<text x="36.40" y="377.10" font-size="11.7" font-weight="bold" text-anchor="start" fill="#000"># Metabolites</text>
<circle cx="119.60" cy="373.00" r="3.50" fill="#fff" stroke="#555" stroke-width="0.8"/>
<text x="129.80" y="376.10" font-size="8.6" text-anchor="start" fill="#1a1a1a">10</text>
<circle cx="156.10" cy="373.00" r="5.00" fill="#fff" stroke="#555" stroke-width="0.8"/>
<text x="166.10" y="376.10" font-size="8.6" text-anchor="start" fill="#1a1a1a">20</text>
<circle cx="192.90" cy="373.00" r="5.90" fill="#fff" stroke="#555" stroke-width="0.8"/>
<text x="202.50" y="376.10" font-size="8.6" text-anchor="start" fill="#1a1a1a">30</text>
<text x="227.70" y="377.10" font-size="11.5" font-weight="bold" text-anchor="start" fill="#000">Sample</text>
<circle cx="293.40" cy="373.00" r="3.50" fill="#8696c6" stroke="#333" stroke-width="0.7"/>
<text x="301.60" y="376.20" font-size="9.1" text-anchor="start" fill="#1a1a1a">Duodenum</text>
<circle cx="358.90" cy="373.00" r="3.50" fill="#97dec2" stroke="#333" stroke-width="0.7"/>
<text x="366.50" y="376.20" font-size="9.1" text-anchor="start" fill="#1a1a1a">Duo. content</text>
<circle cx="437.70" cy="373.00" r="3.50" fill="#e41a1c" stroke="#333" stroke-width="0.7"/>
<text x="445.10" y="376.20" font-size="9.1" text-anchor="start" fill="#1a1a1a">Cecal content</text>
<circle cx="524.30" cy="373.00" r="3.50" fill="#80624a" stroke="#333" stroke-width="0.7"/>
<text x="535.10" y="376.20" font-size="9.1" text-anchor="start" fill="#1a1a1a">Colon</text>
<circle cx="576.80" cy="373.00" r="3.50" fill="#b9a78a" stroke="#333" stroke-width="0.7"/>
<text x="584.40" y="376.20" font-size="9.1" text-anchor="start" fill="#1a1a1a">Colon content</text>
<text x="-0.10" y="415.30" font-size="22.8" font-weight="bold" text-anchor="start" fill="#000">b</text>
<text x="193.60" y="436.40" font-size="10" font-weight="bold" text-anchor="middle" fill="#000">Colon</text>
<rect x="25.40" y="455.00" width="169.90" height="179.30" fill="#fff" stroke="none" stroke-width="1"/>
<line x1="25.40" y1="626.00" x2="195.30" y2="626.00" stroke="#ebebeb" stroke-width="0.7"/>
<line x1="25.40" y1="585.25" x2="195.30" y2="585.25" stroke="#ebebeb" stroke-width="0.7"/>
<line x1="25.40" y1="544.50" x2="195.30" y2="544.50" stroke="#ebebeb" stroke-width="0.7"/>
<line x1="25.40" y1="503.75" x2="195.30" y2="503.75" stroke="#ebebeb" stroke-width="0.7"/>
<line x1="25.40" y1="463.00" x2="195.30" y2="463.00" stroke="#ebebeb" stroke-width="0.7"/>
<line x1="25.40" y1="605.62" x2="195.30" y2="605.62" stroke="#f3f3f3" stroke-width="0.5"/>
<line x1="25.40" y1="564.88" x2="195.30" y2="564.88" stroke="#f3f3f3" stroke-width="0.5"/>
<line x1="25.40" y1="524.12" x2="195.30" y2="524.12" stroke="#f3f3f3" stroke-width="0.5"/>
<line x1="25.40" y1="483.38" x2="195.30" y2="483.38" stroke="#f3f3f3" stroke-width="0.5"/>
<line x1="51.50" y1="455.00" x2="51.50" y2="634.30" stroke="#444" stroke-width="0.7" stroke-dasharray="2.6 1.6"/>
<line x1="169.40" y1="455.00" x2="169.40" y2="634.30" stroke="#444" stroke-width="0.7" stroke-dasharray="2.6 1.6"/>
<line x1="25.40" y1="573.00" x2="195.30" y2="573.00" stroke="#8a8a8a" stroke-width="0.8" stroke-dasharray="2.4 1.8"/>
<text x="76.00" y="479.70" font-size="8.0" font-weight="bold" text-anchor="start" fill="#1a1a1a">WT</text>
<path d="M105.70,476.80 H94.00 M97.60,473.40 L94.00,476.80 L97.60,480.20" fill="none" stroke="#222" stroke-width="0.85"/>
<path d="M113.90,476.80 H125.60 M122.00,473.40 L125.60,476.80 L122.00,480.20" fill="none" stroke="#222" stroke-width="0.85"/>
<text x="125.60" y="479.70" font-size="8.0" font-weight="bold" text-anchor="start" fill="#1a1a1a">ASO</text>
<path d="M73.70,584.90 L75.23,587.43 L76.76,589.89 L78.29,592.29 L79.82,594.60 L81.35,596.85 L82.88,599.03 L84.40,601.13 L85.93,603.17 L87.46,605.13 L88.99,607.02 L90.52,608.84 L92.05,610.59 L93.58,612.26 L95.11,613.87 L96.64,615.40 L98.17,616.87 L99.70,618.26 L101.23,619.58 L102.75,620.83 L104.28,622.00 L105.81,623.11 L107.34,624.14 L108.87,625.11 L110.40,626.00 L112.26,624.83 L114.12,623.58 L115.98,622.22 L117.83,620.78 L119.69,619.24 L121.55,617.61 L123.41,615.88 L125.27,614.07 L127.12,612.16 L128.98,610.15 L130.84,608.05 L132.70,605.86 L134.56,603.58 L136.42,601.20 L138.28,598.73 L140.13,596.17 L141.99,593.51 L143.85,590.76 L145.71,587.92 L147.57,584.98 L149.43,581.95 L151.28,578.83 L153.14,575.61 L155.00,572.30" fill="none" stroke="#404040" stroke-width="3.4" stroke-linecap="round" stroke-linejoin="round"/>
<path d="M155.30,572.60 L157.00,569.60" fill="none" stroke="#3d63e8" stroke-width="3.0" stroke-linecap="round" stroke-linejoin="round"/>
<path d="M160.00,564.50 L162.30,560.20" fill="none" stroke="#3d63e8" stroke-width="3.0" stroke-linecap="round" stroke-linejoin="round"/>
<path d="M167.60,550.00 L169.30,547.60" fill="none" stroke="#3d63e8" stroke-width="3.0" stroke-linecap="round" stroke-linejoin="round"/>
<circle cx="61.00" cy="565.00" r="1.80" fill="#3d63e8" stroke="none" stroke-width="0.5"/>
<circle cx="169.80" cy="547.00" r="1.75" fill="#e8131b" stroke="none" stroke-width="0.5"/>
<circle cx="173.70" cy="538.40" r="1.75" fill="#e8131b" stroke="none" stroke-width="0.5"/>
<circle cx="175.50" cy="535.80" r="1.75" fill="#e8131b" stroke="none" stroke-width="0.5"/>
<circle cx="177.80" cy="532.60" r="1.75" fill="#e8131b" stroke="none" stroke-width="0.5"/>
<circle cx="178.60" cy="530.40" r="1.75" fill="#e8131b" stroke="none" stroke-width="0.5"/>
<circle cx="179.20" cy="529.20" r="1.75" fill="#e8131b" stroke="none" stroke-width="0.5"/>
<circle cx="190.10" cy="508.50" r="1.75" fill="#e8131b" stroke="none" stroke-width="0.5"/>
<line x1="172.00" y1="505.30" x2="190.10" y2="508.50" stroke="#222" stroke-width="0.55"/>
<line x1="148.30" y1="517.60" x2="176.00" y2="535.00" stroke="#222" stroke-width="0.55"/>
<line x1="176.00" y1="518.00" x2="178.40" y2="530.00" stroke="#222" stroke-width="0.55"/>
<line x1="99.50" y1="526.00" x2="104.40" y2="527.00" stroke="#222" stroke-width="0.55"/>
<line x1="137.00" y1="530.70" x2="173.50" y2="538.00" stroke="#222" stroke-width="0.55"/>
<line x1="119.10" y1="541.00" x2="169.00" y2="548.00" stroke="#222" stroke-width="0.55"/>
<line x1="161.00" y1="543.00" x2="169.20" y2="548.00" stroke="#222" stroke-width="0.55"/>
<line x1="112.10" y1="552.50" x2="117.20" y2="552.50" stroke="#222" stroke-width="0.55"/>
<line x1="147.80" y1="553.00" x2="168.00" y2="549.50" stroke="#222" stroke-width="0.55"/>
<line x1="140.00" y1="561.00" x2="161.00" y2="561.00" stroke="#222" stroke-width="0.55"/>
<line x1="101.30" y1="577.60" x2="107.50" y2="577.00" stroke="#222" stroke-width="0.55"/>
<line x1="92.00" y1="590.00" x2="130.00" y2="572.00" stroke="#222" stroke-width="0.55"/>
<line x1="136.40" y1="591.00" x2="157.00" y2="569.00" stroke="#222" stroke-width="0.55"/>
<line x1="165.00" y1="589.70" x2="158.00" y2="568.00" stroke="#222" stroke-width="0.55"/>
<line x1="160.00" y1="577.30" x2="157.50" y2="570.00" stroke="#222" stroke-width="0.55"/>
<line x1="146.00" y1="578.00" x2="157.00" y2="568.00" stroke="#222" stroke-width="0.55"/>
<line x1="141.00" y1="568.00" x2="158.00" y2="566.00" stroke="#222" stroke-width="0.55"/>
<line x1="110.00" y1="530.60" x2="173.50" y2="538.40" stroke="#222" stroke-width="0.55"/>
<line x1="165.00" y1="530.60" x2="175.50" y2="535.80" stroke="#222" stroke-width="0.55"/>
<line x1="147.80" y1="554.00" x2="168.50" y2="549.80" stroke="#222" stroke-width="0.55"/>
<line x1="146.00" y1="563.50" x2="160.50" y2="563.00" stroke="#222" stroke-width="0.55"/>
<line x1="101.30" y1="576.50" x2="137.70" y2="568.50" stroke="#222" stroke-width="0.55"/>
<line x1="92.00" y1="589.00" x2="157.00" y2="569.50" stroke="#222" stroke-width="0.55"/>
<rect x="153.30" y="498.00" width="39.10" height="7.20" fill="#fff" stroke="#666" stroke-width="0.6" rx="1.2"/>
<text x="172.85" y="503.87" font-size="6.3" text-anchor="middle" fill="#000">PC aa C24:0</text>
<rect x="109.30" y="510.60" width="39.00" height="7.20" fill="#fff" stroke="#666" stroke-width="0.6" rx="1.2"/>
<text x="128.80" y="516.47" font-size="6.3" text-anchor="middle" fill="#000">PC ae C36:4</text>
<rect x="153.40" y="510.60" width="39.10" height="7.20" fill="#fff" stroke="#666" stroke-width="0.6" rx="1.2"/>
<text x="172.95" y="516.47" font-size="6.3" text-anchor="middle" fill="#000">PC aa C38:1</text>
<rect x="60.40" y="522.40" width="39.10" height="7.20" fill="#fff" stroke="#666" stroke-width="0.6" rx="1.2"/>
<text x="79.95" y="528.27" font-size="6.3" text-anchor="middle" fill="#000">PC aa C34:1</text>
<rect x="104.40" y="523.40" width="39.00" height="7.20" fill="#fff" stroke="#666" stroke-width="0.6" rx="1.2"/>
<text x="123.90" y="529.27" font-size="6.3" text-anchor="middle" fill="#000">PC aa C34:2</text>
<rect x="137.30" y="523.40" width="39.40" height="7.20" fill="#fff" stroke="#666" stroke-width="0.6" rx="1.2"/>
<text x="157.00" y="529.27" font-size="6.3" text-anchor="middle" fill="#000">PC aa C38:4</text>
<rect x="154.00" y="539.30" width="38.50" height="7.20" fill="#fff" stroke="#666" stroke-width="0.6" rx="1.2"/>
<text x="173.25" y="545.17" font-size="6.3" text-anchor="middle" fill="#000">PC aa C30:0</text>
<rect x="76.60" y="536.00" width="42.50" height="7.20" fill="#fff" stroke="#666" stroke-width="0.6" rx="1.2"/>
<text x="97.85" y="541.87" font-size="6.3" text-anchor="middle" fill="#000">TG(22:1_32:5)</text>
<rect x="122.40" y="536.00" width="38.60" height="7.20" fill="#fff" stroke="#666" stroke-width="0.6" rx="1.2"/>
<text x="141.70" y="541.87" font-size="6.3" text-anchor="middle" fill="#000">PC ae C38:5</text>
<rect x="73.20" y="548.80" width="38.90" height="7.20" fill="#fff" stroke="#666" stroke-width="0.6" rx="1.2"/>
<text x="92.65" y="554.67" font-size="6.3" text-anchor="middle" fill="#000">PC aa C38:0</text>
<rect x="117.20" y="548.80" width="30.60" height="7.20" fill="#fff" stroke="#666" stroke-width="0.6" rx="1.2"/>
<text x="132.50" y="554.67" font-size="6.3" text-anchor="middle" fill="#000">SM C22:3</text>
<rect x="154.30" y="552.00" width="38.20" height="7.20" fill="#fff" stroke="#666" stroke-width="0.6" rx="1.2"/>
<text x="173.40" y="557.87" font-size="6.3" text-anchor="middle" fill="#000">PC aa C32:0</text>
<rect x="107.00" y="561.00" width="39.00" height="7.20" fill="#fff" stroke="#666" stroke-width="0.6" rx="1.2"/>
<text x="126.50" y="566.87" font-size="6.3" text-anchor="middle" fill="#000">PC ae C38:6</text>
<rect x="137.70" y="564.40" width="39.00" height="7.20" fill="#fff" stroke="#666" stroke-width="0.6" rx="1.2"/>
<text x="157.20" y="570.27" font-size="6.3" text-anchor="middle" fill="#000">PC ae C44:4</text>
<rect x="62.20" y="574.00" width="39.10" height="7.20" fill="#fff" stroke="#666" stroke-width="0.6" rx="1.2"/>
<text x="81.75" y="579.87" font-size="6.3" text-anchor="middle" fill="#000">PC ae C44:6</text>
<rect x="107.50" y="575.50" width="38.50" height="7.20" fill="#fff" stroke="#666" stroke-width="0.6" rx="1.2"/>
<text x="126.75" y="581.37" font-size="6.3" text-anchor="middle" fill="#000">PC ae C40:3</text>
<rect x="154.30" y="577.30" width="38.20" height="7.20" fill="#fff" stroke="#666" stroke-width="0.6" rx="1.2"/>
<text x="173.40" y="583.17" font-size="6.3" text-anchor="middle" fill="#000">PC aa C28:1</text>
<rect x="53.40" y="586.40" width="38.60" height="7.20" fill="#fff" stroke="#666" stroke-width="0.6" rx="1.2"/>
<text x="72.70" y="592.27" font-size="6.3" text-anchor="middle" fill="#000">PC ae C40:2</text>
<rect x="97.90" y="588.30" width="38.50" height="7.20" fill="#fff" stroke="#666" stroke-width="0.6" rx="1.2"/>
<text x="117.15" y="594.17" font-size="6.3" text-anchor="middle" fill="#000">PC ae C34:1</text>
<rect x="142.60" y="589.70" width="30.60" height="7.20" fill="#fff" stroke="#666" stroke-width="0.6" rx="1.2"/>
<text x="157.90" y="595.57" font-size="6.3" text-anchor="middle" fill="#000">SM C18:0</text>
<rect x="25.40" y="455.00" width="169.90" height="179.30" fill="none" stroke="#333" stroke-width="0.7"/>
<rect x="25.40" y="445.40" width="169.90" height="9.60" fill="#d9d9d9" stroke="#333" stroke-width="0.7"/>
<text x="105.20" y="452.88" font-size="7.45" font-weight="bold" text-anchor="middle" fill="#1a1a1a">Genotype (ASO / WT)</text>
<line x1="23.20" y1="626.00" x2="25.40" y2="626.00" stroke="#333" stroke-width="0.6"/>
<text x="23.10" y="628.02" font-size="5.6" text-anchor="end" fill="#4d4d4d">0</text>
<line x1="23.20" y1="585.25" x2="25.40" y2="585.25" stroke="#333" stroke-width="0.6"/>
<text x="23.10" y="587.27" font-size="5.6" text-anchor="end" fill="#4d4d4d">1</text>
<line x1="23.20" y1="544.50" x2="25.40" y2="544.50" stroke="#333" stroke-width="0.6"/>
<text x="23.10" y="546.52" font-size="5.6" text-anchor="end" fill="#4d4d4d">2</text>
<line x1="23.20" y1="503.75" x2="25.40" y2="503.75" stroke="#333" stroke-width="0.6"/>
<text x="23.10" y="505.77" font-size="5.6" text-anchor="end" fill="#4d4d4d">3</text>
<line x1="23.20" y1="463.00" x2="25.40" y2="463.00" stroke="#333" stroke-width="0.6"/>
<text x="23.10" y="465.02" font-size="5.6" text-anchor="end" fill="#4d4d4d">4</text>
<line x1="25.60" y1="634.30" x2="25.60" y2="636.50" stroke="#333" stroke-width="0.6"/>
<text x="25.60" y="641.33" font-size="5.6" text-anchor="middle" fill="#4d4d4d">−4</text>
<line x1="68.00" y1="634.30" x2="68.00" y2="636.50" stroke="#333" stroke-width="0.6"/>
<text x="68.00" y="641.33" font-size="5.6" text-anchor="middle" fill="#4d4d4d">−2</text>
<line x1="110.40" y1="634.30" x2="110.40" y2="636.50" stroke="#333" stroke-width="0.6"/>
<text x="110.40" y="641.33" font-size="5.6" text-anchor="middle" fill="#4d4d4d">0</text>
<line x1="152.80" y1="634.30" x2="152.80" y2="636.50" stroke="#333" stroke-width="0.6"/>
<text x="152.80" y="641.33" font-size="5.6" text-anchor="middle" fill="#4d4d4d">2</text>
<line x1="195.20" y1="634.30" x2="195.20" y2="636.50" stroke="#333" stroke-width="0.6"/>
<text x="195.20" y="641.33" font-size="5.6" text-anchor="middle" fill="#4d4d4d">4</text>
<text transform="translate(16.60,544.50) rotate(-90)" font-size="6.6" text-anchor="middle" fill="#1a1a1a">−log<tspan font-size="4.6" dy="1.6">10</tspan><tspan dy="-1.6"> (P)</tspan></text>
<rect x="214.40" y="455.00" width="170.20" height="179.30" fill="#fff" stroke="none" stroke-width="1"/>
<line x1="214.40" y1="626.00" x2="384.60" y2="626.00" stroke="#ebebeb" stroke-width="0.7"/>
<line x1="214.40" y1="580.70" x2="384.60" y2="580.70" stroke="#ebebeb" stroke-width="0.7"/>
<line x1="214.40" y1="535.40" x2="384.60" y2="535.40" stroke="#ebebeb" stroke-width="0.7"/>
<line x1="214.40" y1="490.10" x2="384.60" y2="490.10" stroke="#ebebeb" stroke-width="0.7"/>
<line x1="214.40" y1="603.35" x2="384.60" y2="603.35" stroke="#f3f3f3" stroke-width="0.5"/>
<line x1="214.40" y1="558.05" x2="384.60" y2="558.05" stroke="#f3f3f3" stroke-width="0.5"/>
<line x1="214.40" y1="512.75" x2="384.60" y2="512.75" stroke="#f3f3f3" stroke-width="0.5"/>
<line x1="214.40" y1="467.45" x2="384.60" y2="467.45" stroke="#f3f3f3" stroke-width="0.5"/>
<line x1="277.60" y1="455.00" x2="277.60" y2="634.30" stroke="#8a8a8a" stroke-width="0.8" stroke-dasharray="2.6 1.6"/>
<line x1="320.80" y1="455.00" x2="320.80" y2="634.30" stroke="#8a8a8a" stroke-width="0.8" stroke-dasharray="2.6 1.6"/>
<line x1="214.40" y1="614.30" x2="384.60" y2="614.30" stroke="#555" stroke-width="0.8" stroke-dasharray="2.6 1.6"/>
<text x="264.80" y="478.90" font-size="8.0" font-weight="bold" text-anchor="start" fill="#1a1a1a">GF</text>
<path d="M296.00,475.90 H285.00 M288.60,472.50 L285.00,475.90 L288.60,479.30" fill="none" stroke="#222" stroke-width="0.85"/>
<path d="M301.30,475.90 H312.60 M309.00,472.50 L312.60,475.90 L309.00,479.30" fill="none" stroke="#222" stroke-width="0.85"/>
<text x="322.80" y="479.20" font-size="8.0" font-weight="bold" text-anchor="start" fill="#1a1a1a">SPF</text>
<path d="M293.51,614.40 L292.79,612.75 L292.07,611.05 L291.34,609.30 L290.62,607.51 L289.90,605.68 L289.17,603.80 L288.45,601.87 L287.73,599.90 L287.00,597.88 L286.28,595.81 L285.56,593.70 L284.83,591.55 L284.11,589.35 L283.39,587.10 L282.66,584.81 L281.94,582.48 L281.22,580.09 L280.49,577.67 L279.77,575.19 L279.05,572.67 L278.32,570.11 L277.60,567.50" fill="none" stroke="#3d63e8" stroke-width="3.1" stroke-linecap="round" stroke-linejoin="round"/>
<path d="M304.91,614.67 L305.53,613.22 L306.16,611.73 L306.78,610.20 L307.40,608.63 L308.03,607.02 L308.65,605.38 L309.27,603.69 L309.90,601.96 L310.52,600.20 L311.14,598.40 L311.77,596.56 L312.39,594.67 L313.01,592.76 L313.64,590.80 L314.26,588.80 L314.88,586.76 L315.51,584.69 L316.13,582.58 L316.75,580.42 L317.38,578.23 L318.00,576.00" fill="none" stroke="#3d63e8" stroke-width="3.1" stroke-linecap="round" stroke-linejoin="round"/>
<path d="M293.51,614.40 L294.24,616.01 L294.96,617.58 L295.68,619.09 L296.41,620.57 L297.13,621.99 L297.85,623.37 L298.58,624.71 L299.30,626.00 L299.92,624.90 L300.55,623.76 L301.17,622.58 L301.79,621.36 L302.42,620.10 L303.04,618.80 L303.66,617.46 L304.29,616.09 L304.91,614.67" fill="none" stroke="#404040" stroke-width="3.8" stroke-linecap="round" stroke-linejoin="round"/>
<circle cx="316.30" cy="579.50" r="1.80" fill="#3d63e8" stroke="none" stroke-width="0.5"/>
<circle cx="317.70" cy="576.40" r="1.80" fill="#3d63e8" stroke="none" stroke-width="0.5"/>
<circle cx="277.00" cy="566.80" r="1.75" fill="#e8131b" stroke="none" stroke-width="0.5"/>
<circle cx="276.20" cy="564.80" r="1.75" fill="#e8131b" stroke="none" stroke-width="0.5"/>
<circle cx="275.00" cy="561.50" r="1.75" fill="#e8131b" stroke="none" stroke-width="0.5"/>
<circle cx="274.30" cy="559.80" r="1.75" fill="#e8131b" stroke="none" stroke-width="0.5"/>
<circle cx="271.60" cy="553.20" r="1.75" fill="#e8131b" stroke="none" stroke-width="0.5"/>
<circle cx="271.20" cy="552.30" r="1.75" fill="#e8131b" stroke="none" stroke-width="0.5"/>
<circle cx="270.20" cy="549.50" r="1.75" fill="#e8131b" stroke="none" stroke-width="0.5"/>
<circle cx="269.30" cy="547.60" r="1.75" fill="#e8131b" stroke="none" stroke-width="0.5"/>
<circle cx="265.30" cy="539.80" r="1.75" fill="#e8131b" stroke="none" stroke-width="0.5"/>
<circle cx="249.60" cy="512.20" r="1.75" fill="#e8131b" stroke="none" stroke-width="0.5"/>
<circle cx="322.90" cy="561.70" r="1.75" fill="#e8131b" stroke="none" stroke-width="0.5"/>
<circle cx="328.20" cy="549.30" r="1.75" fill="#e8131b" stroke="none" stroke-width="0.5"/>
<circle cx="344.00" cy="519.70" r="1.75" fill="#e8131b" stroke="none" stroke-width="0.5"/>
<circle cx="350.40" cy="509.60" r="1.75" fill="#e8131b" stroke="none" stroke-width="0.5"/>
<circle cx="363.60" cy="492.60" r="1.75" fill="#e8131b" stroke="none" stroke-width="0.5"/>
<circle cx="381.10" cy="471.50" r="1.75" fill="#e8131b" stroke="none" stroke-width="0.5"/>
<line x1="249.40" y1="509.00" x2="249.60" y2="512.00" stroke="#222" stroke-width="0.55"/>
<line x1="256.00" y1="515.90" x2="250.00" y2="512.50" stroke="#222" stroke-width="0.55"/>
<line x1="265.10" y1="536.70" x2="265.30" y2="539.50" stroke="#222" stroke-width="0.55"/>
<line x1="276.00" y1="545.50" x2="271.20" y2="552.30" stroke="#222" stroke-width="0.55"/>
<line x1="288.10" y1="543.00" x2="271.60" y2="553.20" stroke="#222" stroke-width="0.55"/>
<line x1="265.70" y1="547.00" x2="269.30" y2="547.60" stroke="#222" stroke-width="0.55"/>
<line x1="277.60" y1="556.00" x2="274.30" y2="559.80" stroke="#222" stroke-width="0.55"/>
<line x1="253.10" y1="559.60" x2="259.20" y2="559.60" stroke="#222" stroke-width="0.55"/>
<line x1="267.80" y1="561.50" x2="275.00" y2="561.50" stroke="#222" stroke-width="0.55"/>
<line x1="254.70" y1="572.50" x2="260.10" y2="572.50" stroke="#222" stroke-width="0.55"/>
<line x1="272.20" y1="571.00" x2="276.20" y2="564.80" stroke="#222" stroke-width="0.55"/>
<line x1="267.00" y1="568.90" x2="276.50" y2="565.50" stroke="#222" stroke-width="0.55"/>
<line x1="277.40" y1="577.60" x2="277.10" y2="567.00" stroke="#222" stroke-width="0.55"/>
<line x1="277.20" y1="590.30" x2="277.20" y2="578.00" stroke="#222" stroke-width="0.55"/>
<line x1="264.00" y1="556.10" x2="269.00" y2="550.00" stroke="#222" stroke-width="0.55"/>
<line x1="322.90" y1="561.70" x2="320.00" y2="565.20" stroke="#222" stroke-width="0.55"/>
<line x1="328.20" y1="549.30" x2="332.00" y2="546.40" stroke="#222" stroke-width="0.55"/>
<line x1="344.00" y1="519.70" x2="336.00" y2="523.40" stroke="#222" stroke-width="0.55"/>
<line x1="350.40" y1="509.60" x2="355.00" y2="505.30" stroke="#222" stroke-width="0.55"/>
<line x1="363.60" y1="492.60" x2="368.00" y2="489.70" stroke="#222" stroke-width="0.55"/>
<line x1="375.80" y1="472.90" x2="381.10" y2="471.50" stroke="#222" stroke-width="0.55"/>
<rect x="236.80" y="501.90" width="12.60" height="7.20" fill="#fff" stroke="#666" stroke-width="0.6" rx="1.2"/>
<text x="243.10" y="507.77" font-size="6.3" text-anchor="middle" fill="#000">Ser</text>
<rect x="250.50" y="515.60" width="11.20" height="7.20" fill="#fff" stroke="#666" stroke-width="0.6" rx="1.2"/>
<text x="256.10" y="521.47" font-size="6.3" text-anchor="middle" fill="#000">His</text>
<rect x="252.40" y="529.50" width="12.70" height="7.20" fill="#fff" stroke="#666" stroke-width="0.6" rx="1.2"/>
<text x="258.75" y="535.37" font-size="6.3" text-anchor="middle" fill="#000">Arg</text>
<rect x="270.40" y="538.30" width="12.80" height="7.20" fill="#fff" stroke="#666" stroke-width="0.6" rx="1.2"/>
<text x="276.80" y="544.17" font-size="6.3" text-anchor="middle" fill="#000">Lys</text>
<rect x="288.10" y="538.30" width="14.00" height="7.20" fill="#fff" stroke="#666" stroke-width="0.6" rx="1.2"/>
<text x="295.10" y="544.17" font-size="6.3" text-anchor="middle" fill="#000">Phe</text>
<rect x="254.00" y="543.60" width="11.70" height="7.20" fill="#fff" stroke="#666" stroke-width="0.6" rx="1.2"/>
<text x="259.85" y="549.47" font-size="6.3" text-anchor="middle" fill="#000">Val</text>
<rect x="277.60" y="551.00" width="12.30" height="7.20" fill="#fff" stroke="#666" stroke-width="0.6" rx="1.2"/>
<text x="283.75" y="556.87" font-size="6.3" text-anchor="middle" fill="#000">Thr</text>
<rect x="221.90" y="556.10" width="31.20" height="7.20" fill="#fff" stroke="#666" stroke-width="0.6" rx="1.2"/>
<text x="237.50" y="561.97" font-size="6.3" text-anchor="middle" fill="#000">Creatinine</text>
<rect x="259.20" y="556.10" width="8.60" height="7.20" fill="#fff" stroke="#666" stroke-width="0.6" rx="1.2"/>
<text x="263.50" y="561.97" font-size="6.3" text-anchor="middle" fill="#000">Ile</text>
<rect x="242.60" y="568.90" width="12.10" height="7.20" fill="#fff" stroke="#666" stroke-width="0.6" rx="1.2"/>
<text x="248.65" y="574.77" font-size="6.3" text-anchor="middle" fill="#000">Gly</text>
<rect x="260.10" y="568.90" width="12.10" height="7.20" fill="#fff" stroke="#666" stroke-width="0.6" rx="1.2"/>
<text x="266.15" y="574.77" font-size="6.3" text-anchor="middle" fill="#000">Leu</text>
<rect x="269.60" y="577.60" width="25.90" height="7.20" fill="#fff" stroke="#666" stroke-width="0.6" rx="1.2"/>
<text x="282.55" y="583.47" font-size="6.3" text-anchor="middle" fill="#000">Met−SO</text>
<rect x="276.70" y="590.30" width="34.50" height="7.20" fill="#fff" stroke="#666" stroke-width="0.6" rx="1.2"/>
<text x="293.95" y="596.17" font-size="6.3" text-anchor="middle" fill="#000">t4−OH−Pro</text>
<rect x="297.40" y="565.20" width="39.00" height="7.20" fill="#fff" stroke="#666" stroke-width="0.6" rx="1.2"/>
<text x="316.90" y="571.07" font-size="6.3" text-anchor="middle" fill="#000">PC aa C32:3</text>
<rect x="329.40" y="539.20" width="10.50" height="7.20" fill="#fff" stroke="#666" stroke-width="0.6" rx="1.2"/>
<text x="334.65" y="545.07" font-size="6.3" text-anchor="middle" fill="#000">C4</text>
<rect x="326.40" y="523.40" width="21.10" height="7.20" fill="#fff" stroke="#666" stroke-width="0.6" rx="1.2"/>
<text x="336.95" y="529.27" font-size="6.3" text-anchor="middle" fill="#000">TMAO</text>
<rect x="343.10" y="510.80" width="12.10" height="7.20" fill="#fff" stroke="#666" stroke-width="0.6" rx="1.2"/>
<text x="349.15" y="516.67" font-size="6.3" text-anchor="middle" fill="#000">CA</text>
<rect x="346.90" y="498.10" width="28.90" height="7.20" fill="#fff" stroke="#666" stroke-width="0.6" rx="1.2"/>
<text x="361.35" y="503.97" font-size="6.3" text-anchor="middle" fill="#000">Ind−SO4</text>
<rect x="361.50" y="482.50" width="16.60" height="7.20" fill="#fff" stroke="#666" stroke-width="0.6" rx="1.2"/>
<text x="369.80" y="488.37" font-size="6.3" text-anchor="middle" fill="#000">DCA</text>
<rect x="354.50" y="469.30" width="21.30" height="7.20" fill="#fff" stroke="#666" stroke-width="0.6" rx="1.2"/>
<text x="365.15" y="475.17" font-size="6.3" text-anchor="middle" fill="#000">TDCA</text>
<rect x="214.40" y="455.00" width="170.20" height="179.30" fill="none" stroke="#333" stroke-width="0.7"/>
<rect x="214.40" y="445.40" width="170.20" height="9.60" fill="#d9d9d9" stroke="#333" stroke-width="0.7"/>
<text x="296.00" y="452.88" font-size="7.45" font-weight="bold" text-anchor="middle" fill="#1a1a1a">Microbiome (SPF / GF)</text>
<line x1="212.20" y1="626.00" x2="214.40" y2="626.00" stroke="#333" stroke-width="0.6"/>
<text x="212.10" y="628.02" font-size="5.6" text-anchor="end" fill="#4d4d4d">0</text>
<line x1="212.20" y1="580.70" x2="214.40" y2="580.70" stroke="#333" stroke-width="0.6"/>
<text x="212.10" y="582.72" font-size="5.6" text-anchor="end" fill="#4d4d4d">5</text>
<line x1="212.20" y1="535.40" x2="214.40" y2="535.40" stroke="#333" stroke-width="0.6"/>
<text x="212.10" y="537.42" font-size="5.6" text-anchor="end" fill="#4d4d4d">10</text>
<line x1="212.20" y1="490.10" x2="214.40" y2="490.10" stroke="#333" stroke-width="0.6"/>
<text x="212.10" y="492.12" font-size="5.6" text-anchor="end" fill="#4d4d4d">15</text>
<line x1="240.80" y1="634.30" x2="240.80" y2="636.50" stroke="#333" stroke-width="0.6"/>
<text x="240.80" y="641.33" font-size="5.6" text-anchor="middle" fill="#4d4d4d">−20</text>
<line x1="270.05" y1="634.30" x2="270.05" y2="636.50" stroke="#333" stroke-width="0.6"/>
<text x="270.05" y="641.33" font-size="5.6" text-anchor="middle" fill="#4d4d4d">−10</text>
<line x1="299.30" y1="634.30" x2="299.30" y2="636.50" stroke="#333" stroke-width="0.6"/>
<text x="299.30" y="641.33" font-size="5.6" text-anchor="middle" fill="#4d4d4d">0</text>
<line x1="328.55" y1="634.30" x2="328.55" y2="636.50" stroke="#333" stroke-width="0.6"/>
<text x="328.55" y="641.33" font-size="5.6" text-anchor="middle" fill="#4d4d4d">10</text>
<line x1="357.80" y1="634.30" x2="357.80" y2="636.50" stroke="#333" stroke-width="0.6"/>
<text x="357.80" y="641.33" font-size="5.6" text-anchor="middle" fill="#4d4d4d">20</text>
<text x="204.80" y="646.90" font-size="6.5" font-weight="bold" text-anchor="middle" fill="#1a1a1a">t (Beta)</text>
<text x="42.30" y="675.70" font-size="8.6" font-weight="bold" text-anchor="start" fill="#000">Significance:</text>
<circle cx="112.60" cy="672.60" r="1.30" fill="#333" stroke="none" stroke-width="0.5"/>
<text x="119.00" y="675.70" font-size="8.6" text-anchor="start" fill="#1a1a1a">not significant</text>
<circle cx="189.10" cy="672.60" r="1.30" fill="#c4c4c4" stroke="none" stroke-width="0.5"/>
<text x="197.30" y="675.70" font-size="8.6" text-anchor="start" fill="#1a1a1a">t</text>
<circle cx="222.80" cy="672.60" r="1.30" fill="#3d63e8" stroke="none" stroke-width="0.5"/>
<text x="228.60" y="675.70" font-size="8.6" text-anchor="start" fill="#1a1a1a">p-value</text>
<circle cx="275.90" cy="672.60" r="1.30" fill="#e8131b" stroke="none" stroke-width="0.5"/>
<text x="285.30" y="675.70" font-size="8.6" text-anchor="start" fill="#1a1a1a">p-value and t</text>
<text x="2.30" y="712.90" font-size="22.8" font-weight="bold" text-anchor="start" fill="#000">d</text>
<text x="207.50" y="726.30" font-size="10" font-weight="bold" text-anchor="middle" fill="#000">Cecal content</text>
<rect x="25.40" y="744.60" width="169.90" height="178.40" fill="#fff" stroke="none" stroke-width="1"/>
<line x1="25.40" y1="915.10" x2="195.30" y2="915.10" stroke="#ebebeb" stroke-width="0.7"/>
<line x1="25.40" y1="874.30" x2="195.30" y2="874.30" stroke="#ebebeb" stroke-width="0.7"/>
<line x1="25.40" y1="833.50" x2="195.30" y2="833.50" stroke="#ebebeb" stroke-width="0.7"/>
<line x1="25.40" y1="792.70" x2="195.30" y2="792.70" stroke="#ebebeb" stroke-width="0.7"/>
<line x1="25.40" y1="751.90" x2="195.30" y2="751.90" stroke="#ebebeb" stroke-width="0.7"/>
<line x1="25.40" y1="894.70" x2="195.30" y2="894.70" stroke="#f3f3f3" stroke-width="0.5"/>
<line x1="25.40" y1="853.90" x2="195.30" y2="853.90" stroke="#f3f3f3" stroke-width="0.5"/>
<line x1="25.40" y1="813.10" x2="195.30" y2="813.10" stroke="#f3f3f3" stroke-width="0.5"/>
<line x1="25.40" y1="772.30" x2="195.30" y2="772.30" stroke="#f3f3f3" stroke-width="0.5"/>
<line x1="75.00" y1="744.60" x2="75.00" y2="923.00" stroke="#444" stroke-width="0.7" stroke-dasharray="2.6 1.6"/>
<line x1="145.50" y1="744.60" x2="145.50" y2="923.00" stroke="#444" stroke-width="0.7" stroke-dasharray="2.6 1.6"/>
<line x1="25.40" y1="862.00" x2="195.30" y2="862.00" stroke="#8a8a8a" stroke-width="0.8" stroke-dasharray="2.4 1.8"/>
<text x="76.70" y="767.90" font-size="8.0" font-weight="bold" text-anchor="start" fill="#1a1a1a">WT</text>
<path d="M105.90,765.00 H94.30 M97.90,761.60 L94.30,765.00 L97.90,768.40" fill="none" stroke="#222" stroke-width="0.85"/>
<path d="M114.00,765.00 H125.70 M122.10,761.60 L125.70,765.00 L122.10,768.40" fill="none" stroke="#222" stroke-width="0.85"/>
<text x="125.70" y="767.90" font-size="8.0" font-weight="bold" text-anchor="start" fill="#1a1a1a">ASO</text>
<path d="M75.30,876.00 L76.77,878.07 L78.23,880.09 L79.70,882.08 L81.17,884.04 L82.63,885.95 L84.10,887.83 L85.57,889.67 L87.03,891.47 L88.50,893.23 L89.97,894.95 L91.43,896.64 L92.90,898.29 L94.37,899.90 L95.83,901.47 L97.30,903.00 L98.77,904.50 L100.23,905.96 L101.70,907.38 L103.17,908.76 L104.63,910.10 L106.10,911.41 L107.57,912.68 L109.03,913.91 L110.50,915.10 L111.95,913.94 L113.39,912.74 L114.84,911.50 L116.28,910.23 L117.73,908.92 L119.17,907.58 L120.62,906.19 L122.07,904.77 L123.51,903.31 L124.96,901.82 L126.40,900.29 L127.85,898.72 L129.30,897.11 L130.74,895.47 L132.19,893.79 L133.63,892.07 L135.08,890.32 L136.52,888.53 L137.97,886.70 L139.42,884.83 L140.86,882.93 L142.31,880.99 L143.75,879.01 L145.20,877.00" fill="none" stroke="#404040" stroke-width="3.5" stroke-linecap="round" stroke-linejoin="round"/>
<path d="M65.80,861.50 L74.50,872.50" fill="none" stroke="#b9b9b9" stroke-width="3.0" stroke-linecap="round" stroke-linejoin="round"/>
<path d="M146.00,875.80 L149.00,870.80" fill="none" stroke="#b9b9b9" stroke-width="3.0" stroke-linecap="round" stroke-linejoin="round"/>
<circle cx="150.60" cy="868.50" r="1.80" fill="#b9b9b9" stroke="none" stroke-width="0.5"/>
<circle cx="32.90" cy="801.90" r="1.75" fill="#e8131b" stroke="none" stroke-width="0.5"/>
<circle cx="56.40" cy="845.70" r="1.75" fill="#e8131b" stroke="none" stroke-width="0.5"/>
<circle cx="58.70" cy="849.60" r="1.75" fill="#e8131b" stroke="none" stroke-width="0.5"/>
<circle cx="62.20" cy="855.70" r="1.75" fill="#e8131b" stroke="none" stroke-width="0.5"/>
<circle cx="63.10" cy="857.10" r="1.75" fill="#e8131b" stroke="none" stroke-width="0.5"/>
<circle cx="65.20" cy="860.60" r="1.75" fill="#e8131b" stroke="none" stroke-width="0.5"/>
<circle cx="161.00" cy="851.50" r="1.75" fill="#e8131b" stroke="none" stroke-width="0.5"/>
<line x1="35.90" y1="801.70" x2="33.00" y2="801.90" stroke="#222" stroke-width="0.55"/>
<line x1="53.00" y1="842.30" x2="56.40" y2="845.70" stroke="#222" stroke-width="0.55"/>
<line x1="77.60" y1="843.90" x2="58.70" y2="849.60" stroke="#222" stroke-width="0.55"/>
<line x1="56.40" y1="856.60" x2="62.20" y2="856.00" stroke="#222" stroke-width="0.55"/>
<line x1="67.40" y1="856.60" x2="63.10" y2="857.10" stroke="#222" stroke-width="0.55"/>
<line x1="65.20" y1="860.60" x2="68.00" y2="865.60" stroke="#222" stroke-width="0.55"/>
<line x1="161.00" y1="851.50" x2="163.00" y2="848.50" stroke="#222" stroke-width="0.55"/>
<rect x="35.90" y="798.00" width="44.30" height="7.40" fill="#fff" stroke="#666" stroke-width="0.6" rx="1.2"/>
<text x="58.05" y="803.97" font-size="6.3" text-anchor="middle" fill="#000">TG(17:1_36:4)</text>
<rect x="28.00" y="835.10" width="43.50" height="7.20" fill="#fff" stroke="#666" stroke-width="0.6" rx="1.2"/>
<text x="49.75" y="840.97" font-size="6.3" text-anchor="middle" fill="#000">TG(14:0_38:5)</text>
<rect x="77.60" y="840.30" width="43.90" height="7.20" fill="#fff" stroke="#666" stroke-width="0.6" rx="1.2"/>
<text x="99.55" y="846.17" font-size="6.3" text-anchor="middle" fill="#000">TG(16:0_35:3)</text>
<rect x="28.00" y="853.00" width="28.40" height="7.20" fill="#fff" stroke="#666" stroke-width="0.6" rx="1.2"/>
<text x="42.20" y="858.87" font-size="6.3" text-anchor="middle" fill="#000">C5:1−DC</text>
<rect x="67.40" y="853.00" width="45.70" height="7.20" fill="#fff" stroke="#666" stroke-width="0.6" rx="1.2"/>
<text x="90.25" y="858.87" font-size="6.3" text-anchor="middle" fill="#000">DG(18:1_20:1)</text>
<rect x="53.40" y="865.60" width="44.10" height="7.20" fill="#fff" stroke="#666" stroke-width="0.6" rx="1.2"/>
<text x="75.45" y="871.47" font-size="6.3" text-anchor="middle" fill="#000">TG(18:2_33:1)</text>
<rect x="145.70" y="841.30" width="43.30" height="7.20" fill="#fff" stroke="#666" stroke-width="0.6" rx="1.2"/>
<text x="167.35" y="847.17" font-size="6.3" text-anchor="middle" fill="#000">TG(20:3_36:4)</text>
<rect x="25.40" y="744.60" width="169.90" height="178.40" fill="none" stroke="#333" stroke-width="0.7"/>
<rect x="25.40" y="734.70" width="169.90" height="9.90" fill="#d9d9d9" stroke="#333" stroke-width="0.7"/>
<text x="110.30" y="742.33" font-size="7.45" font-weight="bold" text-anchor="middle" fill="#1a1a1a">Genotype (ASO / WT)</text>
<line x1="23.20" y1="915.10" x2="25.40" y2="915.10" stroke="#333" stroke-width="0.6"/>
<text x="23.10" y="917.12" font-size="5.6" text-anchor="end" fill="#4d4d4d">0</text>
<line x1="23.20" y1="874.30" x2="25.40" y2="874.30" stroke="#333" stroke-width="0.6"/>
<text x="23.10" y="876.32" font-size="5.6" text-anchor="end" fill="#4d4d4d">1</text>
<line x1="23.20" y1="833.50" x2="25.40" y2="833.50" stroke="#333" stroke-width="0.6"/>
<text x="23.10" y="835.52" font-size="5.6" text-anchor="end" fill="#4d4d4d">2</text>
<line x1="23.20" y1="792.70" x2="25.40" y2="792.70" stroke="#333" stroke-width="0.6"/>
<text x="23.10" y="794.72" font-size="5.6" text-anchor="end" fill="#4d4d4d">3</text>
<line x1="23.20" y1="751.90" x2="25.40" y2="751.90" stroke="#333" stroke-width="0.6"/>
<text x="23.10" y="753.92" font-size="5.6" text-anchor="end" fill="#4d4d4d">4</text>
<line x1="25.60" y1="923.00" x2="25.60" y2="925.20" stroke="#333" stroke-width="0.6"/>
<text x="25.60" y="930.03" font-size="5.6" text-anchor="middle" fill="#4d4d4d">−4</text>
<line x1="68.00" y1="923.00" x2="68.00" y2="925.20" stroke="#333" stroke-width="0.6"/>
<text x="68.00" y="930.03" font-size="5.6" text-anchor="middle" fill="#4d4d4d">−2</text>
<line x1="110.40" y1="923.00" x2="110.40" y2="925.20" stroke="#333" stroke-width="0.6"/>
<text x="110.40" y="930.03" font-size="5.6" text-anchor="middle" fill="#4d4d4d">0</text>
<line x1="152.80" y1="923.00" x2="152.80" y2="925.20" stroke="#333" stroke-width="0.6"/>
<text x="152.80" y="930.03" font-size="5.6" text-anchor="middle" fill="#4d4d4d">2</text>
<line x1="195.20" y1="923.00" x2="195.20" y2="925.20" stroke="#333" stroke-width="0.6"/>
<text x="195.20" y="930.03" font-size="5.6" text-anchor="middle" fill="#4d4d4d">4</text>
<text transform="translate(16.60,834.00) rotate(-90)" font-size="6.6" text-anchor="middle" fill="#1a1a1a">−log<tspan font-size="4.6" dy="1.6">10</tspan><tspan dy="-1.6"> (P)</tspan></text>
<rect x="214.50" y="744.60" width="170.30" height="178.40" fill="#fff" stroke="none" stroke-width="1"/>
<line x1="214.50" y1="914.60" x2="384.80" y2="914.60" stroke="#ebebeb" stroke-width="0.7"/>
<line x1="214.50" y1="854.70" x2="384.80" y2="854.70" stroke="#ebebeb" stroke-width="0.7"/>
<line x1="214.50" y1="794.80" x2="384.80" y2="794.80" stroke="#ebebeb" stroke-width="0.7"/>
<line x1="214.50" y1="884.65" x2="384.80" y2="884.65" stroke="#f3f3f3" stroke-width="0.5"/>
<line x1="214.50" y1="824.75" x2="384.80" y2="824.75" stroke="#f3f3f3" stroke-width="0.5"/>
<line x1="214.50" y1="764.85" x2="384.80" y2="764.85" stroke="#f3f3f3" stroke-width="0.5"/>
<line x1="284.60" y1="744.60" x2="284.60" y2="923.00" stroke="#444" stroke-width="0.7" stroke-dasharray="2.6 1.6"/>
<line x1="313.80" y1="744.60" x2="313.80" y2="923.00" stroke="#444" stroke-width="0.7" stroke-dasharray="2.6 1.6"/>
<line x1="214.50" y1="907.10" x2="384.80" y2="907.10" stroke="#555" stroke-width="0.8" stroke-dasharray="2.6 1.6"/>
<text x="271.00" y="767.60" font-size="8.0" font-weight="bold" text-anchor="start" fill="#1a1a1a">GF</text>
<path d="M296.40,764.70 H285.30 M288.90,761.30 L285.30,764.70 L288.90,768.10" fill="none" stroke="#222" stroke-width="0.85"/>
<path d="M300.20,764.70 H311.80 M308.20,761.30 L311.80,764.70 L308.20,768.10" fill="none" stroke="#222" stroke-width="0.85"/>
<text x="315.90" y="767.60" font-size="8.0" font-weight="bold" text-anchor="start" fill="#1a1a1a">SPF</text>
<path d="M296.40,905.50 L299.00,914.00 L301.60,905.50" fill="none" stroke="#404040" stroke-width="4.2" stroke-linecap="round" stroke-linejoin="round"/>
<path d="M297.00,906.00 L284.60,851.50" fill="none" stroke="#3d63e8" stroke-width="3.2" stroke-linecap="round" stroke-linejoin="round"/>
<path d="M301.00,906.50 L304.20,891.00" fill="none" stroke="#3d63e8" stroke-width="2.9" stroke-linecap="round" stroke-linejoin="round"/>
<path d="M304.90,888.00 L306.60,880.00" fill="none" stroke="#3d63e8" stroke-width="2.9" stroke-linecap="round" stroke-linejoin="round"/>
<path d="M307.60,874.50 L308.00,872.80" fill="none" stroke="#3d63e8" stroke-width="2.9" stroke-linecap="round" stroke-linejoin="round"/>
<path d="M309.30,868.00 L311.00,861.50" fill="none" stroke="#3d63e8" stroke-width="2.9" stroke-linecap="round" stroke-linejoin="round"/>
<path d="M312.60,855.00 L313.10,853.40" fill="none" stroke="#3d63e8" stroke-width="2.9" stroke-linecap="round" stroke-linejoin="round"/>
<circle cx="270.60" cy="819.50" r="1.75" fill="#e8131b" stroke="none" stroke-width="0.5"/>
<circle cx="273.40" cy="824.50" r="1.75" fill="#e8131b" stroke="none" stroke-width="0.5"/>
<circle cx="274.50" cy="826.50" r="1.75" fill="#e8131b" stroke="none" stroke-width="0.5"/>
<circle cx="277.50" cy="833.00" r="1.75" fill="#e8131b" stroke="none" stroke-width="0.5"/>
<circle cx="278.50" cy="835.00" r="1.75" fill="#e8131b" stroke="none" stroke-width="0.5"/>
<circle cx="283.20" cy="848.60" r="1.75" fill="#e8131b" stroke="none" stroke-width="0.5"/>
<circle cx="315.50" cy="846.00" r="1.75" fill="#e8131b" stroke="none" stroke-width="0.5"/>
<circle cx="316.30" cy="843.20" r="1.75" fill="#e8131b" stroke="none" stroke-width="0.5"/>
<circle cx="317.00" cy="844.50" r="1.75" fill="#e8131b" stroke="none" stroke-width="0.5"/>
<circle cx="319.80" cy="835.10" r="1.75" fill="#e8131b" stroke="none" stroke-width="0.5"/>
<circle cx="324.70" cy="824.60" r="1.75" fill="#e8131b" stroke="none" stroke-width="0.5"/>
<circle cx="333.40" cy="809.70" r="1.75" fill="#e8131b" stroke="none" stroke-width="0.5"/>
<circle cx="339.90" cy="800.60" r="1.75" fill="#e8131b" stroke="none" stroke-width="0.5"/>
<circle cx="375.50" cy="768.00" r="1.75" fill="#e8131b" stroke="none" stroke-width="0.5"/>
<circle cx="381.10" cy="756.60" r="1.75" fill="#e8131b" stroke="none" stroke-width="0.5"/>
<line x1="268.00" y1="816.70" x2="270.60" y2="819.50" stroke="#222" stroke-width="0.55"/>
<line x1="271.00" y1="828.80" x2="273.40" y2="824.50" stroke="#222" stroke-width="0.55"/>
<line x1="288.10" y1="813.00" x2="274.50" y2="826.50" stroke="#222" stroke-width="0.55"/>
<line x1="276.60" y1="826.70" x2="274.50" y2="826.50" stroke="#222" stroke-width="0.55"/>
<line x1="275.70" y1="841.60" x2="277.50" y2="834.00" stroke="#222" stroke-width="0.55"/>
<line x1="283.20" y1="840.00" x2="278.50" y2="835.00" stroke="#222" stroke-width="0.55"/>
<line x1="298.60" y1="851.80" x2="279.00" y2="836.00" stroke="#222" stroke-width="0.55"/>
<line x1="280.90" y1="854.60" x2="283.20" y2="848.60" stroke="#222" stroke-width="0.55"/>
<line x1="280.60" y1="866.90" x2="283.50" y2="850.00" stroke="#222" stroke-width="0.55"/>
<line x1="285.30" y1="864.60" x2="284.00" y2="850.00" stroke="#222" stroke-width="0.55"/>
<line x1="356.60" y1="756.60" x2="381.10" y2="756.60" stroke="#222" stroke-width="0.55"/>
<line x1="375.50" y1="768.00" x2="373.00" y2="771.40" stroke="#222" stroke-width="0.55"/>
<line x1="343.40" y1="794.40" x2="339.90" y2="800.60" stroke="#222" stroke-width="0.55"/>
<line x1="330.60" y1="807.00" x2="333.40" y2="809.70" stroke="#222" stroke-width="0.55"/>
<line x1="327.70" y1="819.30" x2="324.70" y2="824.60" stroke="#222" stroke-width="0.55"/>
<line x1="319.00" y1="832.20" x2="319.80" y2="835.10" stroke="#222" stroke-width="0.55"/>
<line x1="321.90" y1="841.30" x2="316.30" y2="843.20" stroke="#222" stroke-width="0.55"/>
<line x1="324.20" y1="853.60" x2="317.00" y2="845.00" stroke="#222" stroke-width="0.55"/>
<line x1="335.00" y1="862.80" x2="317.00" y2="845.50" stroke="#222" stroke-width="0.55"/>
<line x1="320.00" y1="870.60" x2="316.00" y2="846.50" stroke="#222" stroke-width="0.55"/>
<line x1="304.00" y1="839.00" x2="301.00" y2="847.90" stroke="#222" stroke-width="0.55"/>
<rect x="252.60" y="809.50" width="23.60" height="7.20" fill="#fff" stroke="#666" stroke-width="0.6" rx="1.2"/>
<text x="264.40" y="815.37" font-size="6.3" text-anchor="middle" fill="#000">Cystine</text>
<rect x="288.10" y="809.50" width="12.10" height="7.20" fill="#fff" stroke="#666" stroke-width="0.6" rx="1.2"/>
<text x="294.15" y="815.37" font-size="6.3" text-anchor="middle" fill="#000">Pro</text>
<rect x="235.60" y="825.20" width="35.40" height="7.20" fill="#fff" stroke="#666" stroke-width="0.6" rx="1.2"/>
<text x="253.30" y="831.07" font-size="6.3" text-anchor="middle" fill="#000">t4−OH−Pro</text>
<rect x="276.60" y="823.10" width="10.50" height="7.20" fill="#fff" stroke="#666" stroke-width="0.6" rx="1.2"/>
<text x="281.85" y="828.97" font-size="6.3" text-anchor="middle" fill="#000">C5</text>
<rect x="263.90" y="838.00" width="11.80" height="7.20" fill="#fff" stroke="#666" stroke-width="0.6" rx="1.2"/>
<text x="269.80" y="843.87" font-size="6.3" text-anchor="middle" fill="#000">Thr</text>
<rect x="283.20" y="836.00" width="19.80" height="7.20" fill="#fff" stroke="#666" stroke-width="0.6" rx="1.2"/>
<text x="293.10" y="841.87" font-size="6.3" text-anchor="middle" fill="#000">C14:2</text>
<rect x="298.60" y="848.20" width="13.00" height="7.20" fill="#fff" stroke="#666" stroke-width="0.6" rx="1.2"/>
<text x="305.10" y="854.07" font-size="6.3" text-anchor="middle" fill="#000">Asn</text>
<rect x="249.10" y="851.00" width="31.80" height="7.20" fill="#fff" stroke="#666" stroke-width="0.6" rx="1.2"/>
<text x="265.00" y="856.87" font-size="6.3" text-anchor="middle" fill="#000">Creatinine</text>
<rect x="249.40" y="863.30" width="31.20" height="7.20" fill="#fff" stroke="#666" stroke-width="0.6" rx="1.2"/>
<text x="265.00" y="869.17" font-size="6.3" text-anchor="middle" fill="#000">SM C20:2</text>
<rect x="285.30" y="861.00" width="11.90" height="7.20" fill="#fff" stroke="#666" stroke-width="0.6" rx="1.2"/>
<text x="291.25" y="866.87" font-size="6.3" text-anchor="middle" fill="#000">His</text>
<rect x="356.60" y="753.00" width="15.70" height="7.20" fill="#fff" stroke="#666" stroke-width="0.6" rx="1.2"/>
<text x="364.45" y="758.87" font-size="6.3" text-anchor="middle" fill="#000">DCA</text>
<rect x="336.40" y="771.40" width="43.80" height="7.20" fill="#fff" stroke="#666" stroke-width="0.6" rx="1.2"/>
<text x="358.30" y="777.27" font-size="6.3" text-anchor="middle" fill="#000">DG(16:0_20:0)</text>
<rect x="343.40" y="790.80" width="21.10" height="7.20" fill="#fff" stroke="#666" stroke-width="0.6" rx="1.2"/>
<text x="353.95" y="796.67" font-size="6.3" text-anchor="middle" fill="#000">5- AVA</text>
<rect x="310.70" y="803.30" width="19.90" height="7.20" fill="#fff" stroke="#666" stroke-width="0.6" rx="1.2"/>
<text x="320.65" y="809.17" font-size="6.3" text-anchor="middle" fill="#000">3−IPA</text>
<rect x="327.70" y="815.70" width="24.80" height="7.20" fill="#fff" stroke="#666" stroke-width="0.6" rx="1.2"/>
<text x="340.10" y="821.57" font-size="6.3" text-anchor="middle" fill="#000">Ac−Orn</text>
<rect x="308.40" y="825.00" width="11.70" height="7.20" fill="#fff" stroke="#666" stroke-width="0.6" rx="1.2"/>
<text x="314.25" y="830.87" font-size="6.3" text-anchor="middle" fill="#000">CA</text>
<rect x="321.90" y="837.70" width="20.70" height="7.20" fill="#fff" stroke="#666" stroke-width="0.6" rx="1.2"/>
<text x="332.25" y="843.57" font-size="6.3" text-anchor="middle" fill="#000">CDCA</text>
<rect x="324.20" y="850.00" width="40.30" height="7.20" fill="#fff" stroke="#666" stroke-width="0.6" rx="1.2"/>
<text x="344.35" y="855.87" font-size="6.3" text-anchor="middle" fill="#000">Hypoxanthine</text>
<rect x="330.00" y="862.80" width="30.40" height="7.20" fill="#fff" stroke="#666" stroke-width="0.6" rx="1.2"/>
<text x="345.20" y="868.67" font-size="6.3" text-anchor="middle" fill="#000">Sarcosine</text>
<rect x="313.70" y="870.60" width="21.50" height="7.20" fill="#fff" stroke="#666" stroke-width="0.6" rx="1.2"/>
<text x="324.45" y="876.47" font-size="6.3" text-anchor="middle" fill="#000">AABA</text>
<rect x="214.50" y="744.60" width="170.30" height="178.40" fill="none" stroke="#333" stroke-width="0.7"/>
<rect x="214.50" y="734.70" width="170.30" height="9.90" fill="#d9d9d9" stroke="#333" stroke-width="0.7"/>
<text x="300.50" y="742.33" font-size="7.45" font-weight="bold" text-anchor="middle" fill="#1a1a1a">Microbiome (SPF / GF)</text>
<line x1="212.30" y1="914.60" x2="214.50" y2="914.60" stroke="#333" stroke-width="0.6"/>
<text x="212.20" y="916.62" font-size="5.6" text-anchor="end" fill="#4d4d4d">0</text>
<line x1="212.30" y1="854.70" x2="214.50" y2="854.70" stroke="#333" stroke-width="0.6"/>
<text x="212.20" y="856.72" font-size="5.6" text-anchor="end" fill="#4d4d4d">10</text>
<line x1="212.30" y1="794.80" x2="214.50" y2="794.80" stroke="#333" stroke-width="0.6"/>
<text x="212.20" y="796.82" font-size="5.6" text-anchor="end" fill="#4d4d4d">20</text>
<line x1="253.80" y1="923.00" x2="253.80" y2="925.20" stroke="#333" stroke-width="0.6"/>
<text x="253.80" y="930.03" font-size="5.6" text-anchor="middle" fill="#4d4d4d">−40</text>
<line x1="299.00" y1="923.00" x2="299.00" y2="925.20" stroke="#333" stroke-width="0.6"/>
<text x="299.00" y="930.03" font-size="5.6" text-anchor="middle" fill="#4d4d4d">0</text>
<line x1="344.20" y1="923.00" x2="344.20" y2="925.20" stroke="#333" stroke-width="0.6"/>
<text x="344.20" y="930.03" font-size="5.6" text-anchor="middle" fill="#4d4d4d">40</text>
<text x="205.30" y="936.00" font-size="6.5" font-weight="bold" text-anchor="middle" fill="#1a1a1a">t (Beta)</text>
<text x="57.30" y="953.70" font-size="8.6" font-weight="bold" text-anchor="start" fill="#000">Significance:</text>
<circle cx="127.60" cy="950.60" r="1.30" fill="#333" stroke="none" stroke-width="0.5"/>
<text x="134.00" y="953.70" font-size="8.6" text-anchor="start" fill="#1a1a1a">not significant</text>
<circle cx="204.10" cy="950.60" r="1.30" fill="#c4c4c4" stroke="none" stroke-width="0.5"/>
<text x="212.30" y="953.70" font-size="8.6" text-anchor="start" fill="#1a1a1a">t</text>
<circle cx="237.80" cy="950.60" r="1.30" fill="#3d63e8" stroke="none" stroke-width="0.5"/>
<text x="243.60" y="953.70" font-size="8.6" text-anchor="start" fill="#1a1a1a">p-value</text>
<circle cx="290.90" cy="950.60" r="1.30" fill="#e8131b" stroke="none" stroke-width="0.5"/>
<text x="300.30" y="953.70" font-size="8.6" text-anchor="start" fill="#1a1a1a">p-value and t</text>
<text x="408.00" y="415.30" font-size="22.8" font-weight="bold" text-anchor="start" fill="#000">c</text>
<text x="559.30" y="424.20" font-size="10" font-weight="bold" text-anchor="middle" fill="#000">Colon</text>
<rect x="437.40" y="429.40" width="245.50" height="233.80" fill="#fff" stroke="none" stroke-width="1"/>
<path d="M437.4,429.4 L682.9,663.2 M437.4,663.2 L682.9,429.4" stroke="#9a9a9a" stroke-width="0.9" stroke-dasharray="1 2.5" fill="none"/>
<line x1="560.10" y1="429.40" x2="560.10" y2="663.20" stroke="#c9c9c9" stroke-width="1.0"/>
<line x1="437.40" y1="546.30" x2="682.90" y2="546.30" stroke="#c9c9c9" stroke-width="1.0"/>
<text x="460.30" y="448.23" font-size="7.3" text-anchor="middle" fill="#1a1a1a">GF  ASO</text>
<text x="460.30" y="458.13" font-size="7.3" text-anchor="middle" fill="#1a1a1a">Enriched</text>
<text x="662.20" y="448.23" font-size="7.3" text-anchor="middle" fill="#1a1a1a">SPF  ASO</text>
<text x="662.20" y="458.13" font-size="7.3" text-anchor="middle" fill="#1a1a1a">Enriched</text>
<text x="460.10" y="640.13" font-size="7.3" text-anchor="middle" fill="#1a1a1a">GF  WT</text>
<text x="460.10" y="650.03" font-size="7.3" text-anchor="middle" fill="#1a1a1a">Enriched</text>
<text x="662.00" y="640.13" font-size="7.3" text-anchor="middle" fill="#1a1a1a">SPF  WT</text>
<text x="662.00" y="650.03" font-size="7.3" text-anchor="middle" fill="#1a1a1a">Enriched</text>
<circle cx="566.01" cy="540.43" r="1.85" fill="#999" stroke="none" stroke-width="0.5" fill-opacity="0.36"/>
<circle cx="569.29" cy="545.20" r="1.85" fill="#999" stroke="none" stroke-width="0.5" fill-opacity="0.36"/>
<circle cx="562.98" cy="531.29" r="1.85" fill="#999" stroke="none" stroke-width="0.5" fill-opacity="0.36"/>
<circle cx="556.20" cy="528.68" r="1.85" fill="#999" stroke="none" stroke-width="0.5" fill-opacity="0.36"/>
<circle cx="561.00" cy="541.95" r="1.85" fill="#999" stroke="none" stroke-width="0.5" fill-opacity="0.36"/>
<circle cx="555.09" cy="540.75" r="1.85" fill="#999" stroke="none" stroke-width="0.5" fill-opacity="0.36"/>
<circle cx="566.66" cy="539.12" r="1.85" fill="#999" stroke="none" stroke-width="0.5" fill-opacity="0.36"/>
<circle cx="580.74" cy="540.72" r="1.85" fill="#999" stroke="none" stroke-width="0.5" fill-opacity="0.36"/>
<circle cx="560.59" cy="535.68" r="1.85" fill="#999" stroke="none" stroke-width="0.5" fill-opacity="0.36"/>
<circle cx="559.17" cy="532.02" r="1.85" fill="#999" stroke="none" stroke-width="0.5" fill-opacity="0.36"/>
<circle cx="571.39" cy="539.57" r="1.85" fill="#999" stroke="none" stroke-width="0.5" fill-opacity="0.36"/>
<circle cx="569.93" cy="535.06" r="1.85" fill="#999" stroke="none" stroke-width="0.5" fill-opacity="0.36"/>
<circle cx="567.16" cy="531.30" r="1.85" fill="#999" stroke="none" stroke-width="0.5" fill-opacity="0.36"/>
<circle cx="555.76" cy="543.33" r="1.85" fill="#999" stroke="none" stroke-width="0.5" fill-opacity="0.36"/>
<circle cx="565.68" cy="540.16" r="1.85" fill="#999" stroke="none" stroke-width="0.5" fill-opacity="0.36"/>
<circle cx="573.65" cy="542.78" r="1.85" fill="#999" stroke="none" stroke-width="0.5" fill-opacity="0.36"/>
<circle cx="551.21" cy="534.96" r="1.85" fill="#999" stroke="none" stroke-width="0.5" fill-opacity="0.36"/>
<circle cx="560.97" cy="536.81" r="1.85" fill="#999" stroke="none" stroke-width="0.5" fill-opacity="0.36"/>
<circle cx="545.09" cy="534.91" r="1.85" fill="#999" stroke="none" stroke-width="0.5" fill-opacity="0.36"/>
<circle cx="551.82" cy="535.53" r="1.85" fill="#999" stroke="none" stroke-width="0.5" fill-opacity="0.36"/>
<circle cx="545.74" cy="541.59" r="1.85" fill="#999" stroke="none" stroke-width="0.5" fill-opacity="0.36"/>
<circle cx="563.41" cy="536.12" r="1.85" fill="#999" stroke="none" stroke-width="0.5" fill-opacity="0.36"/>
<circle cx="552.06" cy="542.49" r="1.85" fill="#999" stroke="none" stroke-width="0.5" fill-opacity="0.36"/>
<circle cx="568.98" cy="542.40" r="1.85" fill="#999" stroke="none" stroke-width="0.5" fill-opacity="0.36"/>
<circle cx="567.72" cy="551.84" r="1.85" fill="#999" stroke="none" stroke-width="0.5" fill-opacity="0.36"/>
<circle cx="563.94" cy="532.70" r="1.85" fill="#999" stroke="none" stroke-width="0.5" fill-opacity="0.36"/>
<circle cx="538.32" cy="545.47" r="1.85" fill="#999" stroke="none" stroke-width="0.5" fill-opacity="0.36"/>
<circle cx="560.07" cy="540.00" r="1.85" fill="#999" stroke="none" stroke-width="0.5" fill-opacity="0.36"/>
<circle cx="565.47" cy="540.42" r="1.85" fill="#999" stroke="none" stroke-width="0.5" fill-opacity="0.36"/>
<circle cx="567.25" cy="532.38" r="1.85" fill="#999" stroke="none" stroke-width="0.5" fill-opacity="0.36"/>
<circle cx="549.17" cy="537.92" r="1.85" fill="#999" stroke="none" stroke-width="0.5" fill-opacity="0.36"/>
<circle cx="560.74" cy="544.66" r="1.85" fill="#999" stroke="none" stroke-width="0.5" fill-opacity="0.36"/>
<circle cx="555.24" cy="540.04" r="1.85" fill="#999" stroke="none" stroke-width="0.5" fill-opacity="0.36"/>
<circle cx="557.10" cy="540.95" r="1.85" fill="#999" stroke="none" stroke-width="0.5" fill-opacity="0.36"/>
<circle cx="577.67" cy="538.87" r="1.85" fill="#999" stroke="none" stroke-width="0.5" fill-opacity="0.36"/>
<circle cx="557.12" cy="546.97" r="1.85" fill="#999" stroke="none" stroke-width="0.5" fill-opacity="0.36"/>
<circle cx="565.64" cy="540.38" r="1.85" fill="#999" stroke="none" stroke-width="0.5" fill-opacity="0.36"/>
<circle cx="575.73" cy="528.18" r="1.85" fill="#999" stroke="none" stroke-width="0.5" fill-opacity="0.36"/>
<circle cx="559.58" cy="536.62" r="1.85" fill="#999" stroke="none" stroke-width="0.5" fill-opacity="0.36"/>
<circle cx="564.77" cy="529.47" r="1.85" fill="#999" stroke="none" stroke-width="0.5" fill-opacity="0.36"/>
<circle cx="567.22" cy="522.29" r="1.85" fill="#999" stroke="none" stroke-width="0.5" fill-opacity="0.36"/>
<circle cx="566.70" cy="537.53" r="1.85" fill="#999" stroke="none" stroke-width="0.5" fill-opacity="0.36"/>
<circle cx="552.52" cy="547.97" r="1.85" fill="#999" stroke="none" stroke-width="0.5" fill-opacity="0.36"/>
<circle cx="566.84" cy="540.76" r="1.85" fill="#999" stroke="none" stroke-width="0.5" fill-opacity="0.36"/>
<circle cx="580.95" cy="533.93" r="1.85" fill="#999" stroke="none" stroke-width="0.5" fill-opacity="0.36"/>
<circle cx="548.98" cy="535.23" r="1.85" fill="#999" stroke="none" stroke-width="0.5" fill-opacity="0.36"/>
<circle cx="575.45" cy="546.83" r="1.85" fill="#999" stroke="none" stroke-width="0.5" fill-opacity="0.36"/>
<circle cx="567.31" cy="541.38" r="1.85" fill="#999" stroke="none" stroke-width="0.5" fill-opacity="0.36"/>
<circle cx="558.94" cy="540.77" r="1.85" fill="#999" stroke="none" stroke-width="0.5" fill-opacity="0.36"/>
<circle cx="588.00" cy="540.20" r="1.85" fill="#999" stroke="none" stroke-width="0.5" fill-opacity="0.36"/>
<circle cx="574.38" cy="540.72" r="1.85" fill="#999" stroke="none" stroke-width="0.5" fill-opacity="0.36"/>
<circle cx="552.81" cy="545.01" r="1.85" fill="#999" stroke="none" stroke-width="0.5" fill-opacity="0.36"/>
<circle cx="566.82" cy="543.59" r="1.85" fill="#999" stroke="none" stroke-width="0.5" fill-opacity="0.36"/>
<circle cx="572.34" cy="541.71" r="1.85" fill="#999" stroke="none" stroke-width="0.5" fill-opacity="0.36"/>
<circle cx="563.92" cy="534.66" r="1.85" fill="#999" stroke="none" stroke-width="0.5" fill-opacity="0.36"/>
<circle cx="573.51" cy="543.36" r="1.85" fill="#999" stroke="none" stroke-width="0.5" fill-opacity="0.36"/>
<circle cx="565.27" cy="536.67" r="1.85" fill="#999" stroke="none" stroke-width="0.5" fill-opacity="0.36"/>
<circle cx="573.34" cy="546.63" r="1.85" fill="#999" stroke="none" stroke-width="0.5" fill-opacity="0.36"/>
<circle cx="581.82" cy="533.38" r="1.85" fill="#999" stroke="none" stroke-width="0.5" fill-opacity="0.36"/>
<circle cx="558.57" cy="539.73" r="1.85" fill="#999" stroke="none" stroke-width="0.5" fill-opacity="0.36"/>
<circle cx="568.23" cy="540.46" r="1.85" fill="#999" stroke="none" stroke-width="0.5" fill-opacity="0.36"/>
<circle cx="560.90" cy="533.08" r="1.85" fill="#999" stroke="none" stroke-width="0.5" fill-opacity="0.36"/>
<circle cx="567.40" cy="550.14" r="1.85" fill="#999" stroke="none" stroke-width="0.5" fill-opacity="0.36"/>
<circle cx="552.94" cy="548.68" r="1.85" fill="#999" stroke="none" stroke-width="0.5" fill-opacity="0.36"/>
<circle cx="559.63" cy="537.90" r="1.85" fill="#999" stroke="none" stroke-width="0.5" fill-opacity="0.36"/>
<circle cx="563.84" cy="544.82" r="1.85" fill="#999" stroke="none" stroke-width="0.5" fill-opacity="0.36"/>
<circle cx="575.89" cy="542.62" r="1.85" fill="#999" stroke="none" stroke-width="0.5" fill-opacity="0.36"/>
<circle cx="578.60" cy="525.86" r="1.85" fill="#999" stroke="none" stroke-width="0.5" fill-opacity="0.36"/>
<circle cx="551.44" cy="541.90" r="1.85" fill="#999" stroke="none" stroke-width="0.5" fill-opacity="0.36"/>
<circle cx="557.26" cy="540.16" r="1.85" fill="#999" stroke="none" stroke-width="0.5" fill-opacity="0.36"/>
<circle cx="573.12" cy="540.97" r="1.85" fill="#999" stroke="none" stroke-width="0.5" fill-opacity="0.36"/>
<circle cx="544.08" cy="534.47" r="1.85" fill="#999" stroke="none" stroke-width="0.5" fill-opacity="0.36"/>
<circle cx="560.91" cy="538.99" r="1.85" fill="#999" stroke="none" stroke-width="0.5" fill-opacity="0.36"/>
<circle cx="564.93" cy="539.50" r="1.85" fill="#999" stroke="none" stroke-width="0.5" fill-opacity="0.36"/>
<circle cx="579.83" cy="547.15" r="1.85" fill="#999" stroke="none" stroke-width="0.5" fill-opacity="0.36"/>
<circle cx="573.58" cy="542.37" r="1.85" fill="#999" stroke="none" stroke-width="0.5" fill-opacity="0.36"/>
<circle cx="562.40" cy="540.47" r="1.85" fill="#999" stroke="none" stroke-width="0.5" fill-opacity="0.36"/>
<circle cx="561.95" cy="549.06" r="1.85" fill="#999" stroke="none" stroke-width="0.5" fill-opacity="0.36"/>
<circle cx="563.25" cy="537.39" r="1.85" fill="#999" stroke="none" stroke-width="0.5" fill-opacity="0.36"/>
<circle cx="582.76" cy="538.32" r="1.85" fill="#999" stroke="none" stroke-width="0.5" fill-opacity="0.36"/>
<circle cx="561.29" cy="530.33" r="1.85" fill="#999" stroke="none" stroke-width="0.5" fill-opacity="0.36"/>
<circle cx="562.66" cy="549.29" r="1.85" fill="#999" stroke="none" stroke-width="0.5" fill-opacity="0.36"/>
<circle cx="569.88" cy="545.90" r="1.85" fill="#999" stroke="none" stroke-width="0.5" fill-opacity="0.36"/>
<circle cx="564.67" cy="545.63" r="1.85" fill="#999" stroke="none" stroke-width="0.5" fill-opacity="0.36"/>
<circle cx="563.83" cy="544.25" r="1.85" fill="#999" stroke="none" stroke-width="0.5" fill-opacity="0.36"/>
<circle cx="553.75" cy="541.12" r="1.85" fill="#999" stroke="none" stroke-width="0.5" fill-opacity="0.36"/>
<circle cx="565.87" cy="541.71" r="1.85" fill="#999" stroke="none" stroke-width="0.5" fill-opacity="0.36"/>
<circle cx="561.12" cy="539.09" r="1.85" fill="#999" stroke="none" stroke-width="0.5" fill-opacity="0.36"/>
<circle cx="578.83" cy="539.36" r="1.85" fill="#999" stroke="none" stroke-width="0.5" fill-opacity="0.36"/>
<circle cx="573.18" cy="540.80" r="1.85" fill="#999" stroke="none" stroke-width="0.5" fill-opacity="0.36"/>
<circle cx="565.73" cy="548.97" r="1.85" fill="#999" stroke="none" stroke-width="0.5" fill-opacity="0.36"/>
<circle cx="573.35" cy="543.61" r="1.85" fill="#999" stroke="none" stroke-width="0.5" fill-opacity="0.36"/>
<circle cx="562.26" cy="540.17" r="1.85" fill="#999" stroke="none" stroke-width="0.5" fill-opacity="0.36"/>
<circle cx="577.57" cy="537.26" r="1.85" fill="#999" stroke="none" stroke-width="0.5" fill-opacity="0.36"/>
<circle cx="565.94" cy="536.94" r="1.85" fill="#999" stroke="none" stroke-width="0.5" fill-opacity="0.36"/>
<circle cx="572.42" cy="549.48" r="1.85" fill="#999" stroke="none" stroke-width="0.5" fill-opacity="0.36"/>
<circle cx="551.80" cy="543.34" r="1.85" fill="#999" stroke="none" stroke-width="0.5" fill-opacity="0.36"/>
<circle cx="569.81" cy="540.88" r="1.85" fill="#999" stroke="none" stroke-width="0.5" fill-opacity="0.36"/>
<circle cx="547.43" cy="538.56" r="1.85" fill="#999" stroke="none" stroke-width="0.5" fill-opacity="0.36"/>
<circle cx="543.61" cy="534.29" r="1.85" fill="#999" stroke="none" stroke-width="0.5" fill-opacity="0.36"/>
<circle cx="562.65" cy="540.13" r="1.85" fill="#999" stroke="none" stroke-width="0.5" fill-opacity="0.36"/>
<circle cx="556.10" cy="545.39" r="1.85" fill="#999" stroke="none" stroke-width="0.5" fill-opacity="0.36"/>
<circle cx="567.80" cy="538.30" r="1.85" fill="#999" stroke="none" stroke-width="0.5" fill-opacity="0.36"/>
<circle cx="590.69" cy="539.23" r="1.85" fill="#999" stroke="none" stroke-width="0.5" fill-opacity="0.36"/>
<circle cx="556.85" cy="539.26" r="1.85" fill="#999" stroke="none" stroke-width="0.5" fill-opacity="0.36"/>
<circle cx="559.14" cy="541.11" r="1.85" fill="#999" stroke="none" stroke-width="0.5" fill-opacity="0.36"/>
<circle cx="568.26" cy="531.58" r="1.85" fill="#999" stroke="none" stroke-width="0.5" fill-opacity="0.36"/>
<circle cx="571.42" cy="539.18" r="1.85" fill="#999" stroke="none" stroke-width="0.5" fill-opacity="0.36"/>
<circle cx="564.06" cy="535.72" r="1.85" fill="#999" stroke="none" stroke-width="0.5" fill-opacity="0.36"/>
<circle cx="563.73" cy="545.45" r="1.85" fill="#999" stroke="none" stroke-width="0.5" fill-opacity="0.36"/>
<circle cx="573.73" cy="536.18" r="1.85" fill="#999" stroke="none" stroke-width="0.5" fill-opacity="0.36"/>
<circle cx="571.72" cy="543.73" r="1.85" fill="#999" stroke="none" stroke-width="0.5" fill-opacity="0.36"/>
<circle cx="554.63" cy="549.04" r="1.85" fill="#999" stroke="none" stroke-width="0.5" fill-opacity="0.36"/>
<circle cx="565.13" cy="538.74" r="1.85" fill="#999" stroke="none" stroke-width="0.5" fill-opacity="0.36"/>
<circle cx="566.39" cy="537.13" r="1.85" fill="#999" stroke="none" stroke-width="0.5" fill-opacity="0.36"/>
<circle cx="554.40" cy="541.57" r="1.85" fill="#999" stroke="none" stroke-width="0.5" fill-opacity="0.36"/>
<circle cx="568.86" cy="540.49" r="1.85" fill="#999" stroke="none" stroke-width="0.5" fill-opacity="0.36"/>
<circle cx="556.56" cy="534.94" r="1.85" fill="#999" stroke="none" stroke-width="0.5" fill-opacity="0.36"/>
<circle cx="576.69" cy="543.08" r="1.85" fill="#999" stroke="none" stroke-width="0.5" fill-opacity="0.36"/>
<circle cx="568.12" cy="551.79" r="1.85" fill="#999" stroke="none" stroke-width="0.5" fill-opacity="0.36"/>
<circle cx="566.98" cy="539.05" r="1.85" fill="#999" stroke="none" stroke-width="0.5" fill-opacity="0.36"/>
<circle cx="559.50" cy="539.36" r="1.85" fill="#999" stroke="none" stroke-width="0.5" fill-opacity="0.36"/>
<circle cx="564.70" cy="534.65" r="1.85" fill="#999" stroke="none" stroke-width="0.5" fill-opacity="0.36"/>
<circle cx="544.02" cy="542.29" r="1.85" fill="#999" stroke="none" stroke-width="0.5" fill-opacity="0.36"/>
<circle cx="553.55" cy="533.52" r="1.85" fill="#999" stroke="none" stroke-width="0.5" fill-opacity="0.36"/>
<circle cx="569.99" cy="534.30" r="1.85" fill="#999" stroke="none" stroke-width="0.5" fill-opacity="0.36"/>
<circle cx="542.59" cy="547.67" r="1.85" fill="#999" stroke="none" stroke-width="0.5" fill-opacity="0.36"/>
<circle cx="575.31" cy="535.43" r="1.85" fill="#999" stroke="none" stroke-width="0.5" fill-opacity="0.36"/>
<circle cx="546.79" cy="546.56" r="1.85" fill="#999" stroke="none" stroke-width="0.5" fill-opacity="0.36"/>
<circle cx="574.32" cy="549.04" r="1.85" fill="#999" stroke="none" stroke-width="0.5" fill-opacity="0.36"/>
<circle cx="556.70" cy="541.95" r="1.85" fill="#999" stroke="none" stroke-width="0.5" fill-opacity="0.36"/>
<circle cx="574.57" cy="543.60" r="1.85" fill="#999" stroke="none" stroke-width="0.5" fill-opacity="0.36"/>
<circle cx="567.44" cy="551.43" r="1.85" fill="#999" stroke="none" stroke-width="0.5" fill-opacity="0.36"/>
<circle cx="549.09" cy="539.40" r="1.85" fill="#999" stroke="none" stroke-width="0.5" fill-opacity="0.36"/>
<circle cx="579.74" cy="537.18" r="1.85" fill="#999" stroke="none" stroke-width="0.5" fill-opacity="0.36"/>
<circle cx="581.86" cy="532.92" r="1.85" fill="#999" stroke="none" stroke-width="0.5" fill-opacity="0.36"/>
<circle cx="565.28" cy="540.73" r="1.85" fill="#999" stroke="none" stroke-width="0.5" fill-opacity="0.36"/>
<circle cx="562.99" cy="548.78" r="1.85" fill="#999" stroke="none" stroke-width="0.5" fill-opacity="0.36"/>
<circle cx="564.24" cy="545.87" r="1.85" fill="#999" stroke="none" stroke-width="0.5" fill-opacity="0.36"/>
<circle cx="555.27" cy="535.22" r="1.85" fill="#999" stroke="none" stroke-width="0.5" fill-opacity="0.36"/>
<circle cx="578.08" cy="535.71" r="1.85" fill="#999" stroke="none" stroke-width="0.5" fill-opacity="0.36"/>
<circle cx="560.03" cy="537.68" r="1.85" fill="#999" stroke="none" stroke-width="0.5" fill-opacity="0.36"/>
<circle cx="565.44" cy="542.14" r="1.85" fill="#999" stroke="none" stroke-width="0.5" fill-opacity="0.36"/>
<circle cx="557.27" cy="539.35" r="1.85" fill="#999" stroke="none" stroke-width="0.5" fill-opacity="0.36"/>
<circle cx="559.11" cy="541.70" r="1.85" fill="#999" stroke="none" stroke-width="0.5" fill-opacity="0.36"/>
<circle cx="551.95" cy="542.16" r="1.85" fill="#999" stroke="none" stroke-width="0.5" fill-opacity="0.36"/>
<circle cx="579.83" cy="538.83" r="1.85" fill="#999" stroke="none" stroke-width="0.5" fill-opacity="0.36"/>
<circle cx="564.31" cy="540.28" r="1.85" fill="#999" stroke="none" stroke-width="0.5" fill-opacity="0.36"/>
<circle cx="576.63" cy="541.66" r="1.85" fill="#999" stroke="none" stroke-width="0.5" fill-opacity="0.36"/>
<circle cx="566.15" cy="540.03" r="1.85" fill="#999" stroke="none" stroke-width="0.5" fill-opacity="0.36"/>
<circle cx="558.36" cy="543.32" r="1.85" fill="#999" stroke="none" stroke-width="0.5" fill-opacity="0.36"/>
<circle cx="562.41" cy="550.98" r="1.85" fill="#999" stroke="none" stroke-width="0.5" fill-opacity="0.36"/>
<circle cx="559.84" cy="543.82" r="1.85" fill="#999" stroke="none" stroke-width="0.5" fill-opacity="0.36"/>
<circle cx="566.09" cy="540.81" r="1.85" fill="#999" stroke="none" stroke-width="0.5" fill-opacity="0.36"/>
<circle cx="561.87" cy="531.06" r="1.85" fill="#999" stroke="none" stroke-width="0.5" fill-opacity="0.36"/>
<circle cx="562.70" cy="542.67" r="1.85" fill="#999" stroke="none" stroke-width="0.5" fill-opacity="0.36"/>
<circle cx="550.84" cy="529.60" r="1.85" fill="#999" stroke="none" stroke-width="0.5" fill-opacity="0.36"/>
<circle cx="557.12" cy="532.61" r="1.85" fill="#999" stroke="none" stroke-width="0.5" fill-opacity="0.36"/>
<circle cx="584.19" cy="545.29" r="1.85" fill="#999" stroke="none" stroke-width="0.5" fill-opacity="0.36"/>
<circle cx="558.62" cy="544.45" r="1.85" fill="#999" stroke="none" stroke-width="0.5" fill-opacity="0.36"/>
<circle cx="554.40" cy="539.66" r="1.85" fill="#999" stroke="none" stroke-width="0.5" fill-opacity="0.36"/>
<circle cx="569.71" cy="530.92" r="1.85" fill="#999" stroke="none" stroke-width="0.5" fill-opacity="0.36"/>
<circle cx="581.48" cy="538.42" r="1.85" fill="#999" stroke="none" stroke-width="0.5" fill-opacity="0.36"/>
<circle cx="550.01" cy="536.70" r="1.85" fill="#999" stroke="none" stroke-width="0.5" fill-opacity="0.36"/>
<circle cx="563.71" cy="544.07" r="1.85" fill="#999" stroke="none" stroke-width="0.5" fill-opacity="0.36"/>
<circle cx="559.05" cy="553.14" r="1.85" fill="#999" stroke="none" stroke-width="0.5" fill-opacity="0.36"/>
<circle cx="546.63" cy="541.71" r="1.85" fill="#999" stroke="none" stroke-width="0.5" fill-opacity="0.36"/>
<circle cx="574.08" cy="536.14" r="1.85" fill="#999" stroke="none" stroke-width="0.5" fill-opacity="0.36"/>
<circle cx="565.74" cy="533.94" r="1.85" fill="#999" stroke="none" stroke-width="0.5" fill-opacity="0.36"/>
<circle cx="566.79" cy="540.19" r="1.85" fill="#999" stroke="none" stroke-width="0.5" fill-opacity="0.36"/>
<circle cx="557.72" cy="539.51" r="1.85" fill="#999" stroke="none" stroke-width="0.5" fill-opacity="0.36"/>
<circle cx="571.00" cy="534.05" r="1.85" fill="#999" stroke="none" stroke-width="0.5" fill-opacity="0.36"/>
<circle cx="560.07" cy="541.15" r="1.85" fill="#999" stroke="none" stroke-width="0.5" fill-opacity="0.36"/>
<circle cx="564.43" cy="534.05" r="1.85" fill="#999" stroke="none" stroke-width="0.5" fill-opacity="0.36"/>
<circle cx="553.81" cy="546.73" r="1.85" fill="#999" stroke="none" stroke-width="0.5" fill-opacity="0.36"/>
<circle cx="552.62" cy="546.45" r="1.85" fill="#999" stroke="none" stroke-width="0.5" fill-opacity="0.36"/>
<circle cx="580.69" cy="546.57" r="1.85" fill="#999" stroke="none" stroke-width="0.5" fill-opacity="0.36"/>
<circle cx="560.42" cy="537.85" r="1.85" fill="#999" stroke="none" stroke-width="0.5" fill-opacity="0.36"/>
<circle cx="569.21" cy="543.38" r="1.85" fill="#999" stroke="none" stroke-width="0.5" fill-opacity="0.36"/>
<circle cx="565.63" cy="539.76" r="1.85" fill="#999" stroke="none" stroke-width="0.5" fill-opacity="0.36"/>
<circle cx="561.15" cy="538.32" r="1.85" fill="#999" stroke="none" stroke-width="0.5" fill-opacity="0.36"/>
<circle cx="560.41" cy="538.60" r="1.85" fill="#999" stroke="none" stroke-width="0.5" fill-opacity="0.36"/>
<circle cx="572.93" cy="533.22" r="1.85" fill="#999" stroke="none" stroke-width="0.5" fill-opacity="0.36"/>
<circle cx="562.68" cy="532.41" r="1.85" fill="#999" stroke="none" stroke-width="0.5" fill-opacity="0.36"/>
<circle cx="564.33" cy="544.95" r="1.85" fill="#999" stroke="none" stroke-width="0.5" fill-opacity="0.36"/>
<circle cx="566.24" cy="539.43" r="1.85" fill="#999" stroke="none" stroke-width="0.5" fill-opacity="0.36"/>
<circle cx="578.94" cy="541.71" r="1.85" fill="#999" stroke="none" stroke-width="0.5" fill-opacity="0.36"/>
<circle cx="573.49" cy="546.11" r="1.85" fill="#999" stroke="none" stroke-width="0.5" fill-opacity="0.36"/>
<circle cx="570.21" cy="530.79" r="1.85" fill="#999" stroke="none" stroke-width="0.5" fill-opacity="0.36"/>
<circle cx="559.80" cy="536.11" r="1.85" fill="#999" stroke="none" stroke-width="0.5" fill-opacity="0.36"/>
<circle cx="550.80" cy="541.48" r="1.85" fill="#999" stroke="none" stroke-width="0.5" fill-opacity="0.36"/>
<circle cx="576.44" cy="542.70" r="1.85" fill="#999" stroke="none" stroke-width="0.5" fill-opacity="0.36"/>
<circle cx="576.63" cy="538.39" r="1.85" fill="#999" stroke="none" stroke-width="0.5" fill-opacity="0.36"/>
<circle cx="564.45" cy="546.26" r="1.85" fill="#999" stroke="none" stroke-width="0.5" fill-opacity="0.36"/>
<circle cx="571.96" cy="541.68" r="1.85" fill="#999" stroke="none" stroke-width="0.5" fill-opacity="0.36"/>
<circle cx="574.60" cy="533.71" r="1.85" fill="#999" stroke="none" stroke-width="0.5" fill-opacity="0.36"/>
<circle cx="575.14" cy="535.29" r="1.85" fill="#999" stroke="none" stroke-width="0.5" fill-opacity="0.36"/>
<circle cx="576.14" cy="545.01" r="1.85" fill="#999" stroke="none" stroke-width="0.5" fill-opacity="0.36"/>
<circle cx="560.99" cy="543.10" r="1.85" fill="#999" stroke="none" stroke-width="0.5" fill-opacity="0.36"/>
<circle cx="582.66" cy="529.87" r="1.85" fill="#999" stroke="none" stroke-width="0.5" fill-opacity="0.36"/>
<circle cx="552.29" cy="548.05" r="1.85" fill="#999" stroke="none" stroke-width="0.5" fill-opacity="0.36"/>
<circle cx="575.48" cy="543.85" r="1.85" fill="#999" stroke="none" stroke-width="0.5" fill-opacity="0.36"/>
<circle cx="571.43" cy="548.02" r="1.85" fill="#999" stroke="none" stroke-width="0.5" fill-opacity="0.36"/>
<circle cx="575.61" cy="538.35" r="1.85" fill="#999" stroke="none" stroke-width="0.5" fill-opacity="0.36"/>
<circle cx="586.67" cy="538.84" r="1.85" fill="#999" stroke="none" stroke-width="0.5" fill-opacity="0.36"/>
<circle cx="582.33" cy="534.19" r="1.85" fill="#999" stroke="none" stroke-width="0.5" fill-opacity="0.36"/>
<circle cx="553.40" cy="554.71" r="1.85" fill="#999" stroke="none" stroke-width="0.5" fill-opacity="0.36"/>
<circle cx="547.42" cy="539.52" r="1.85" fill="#999" stroke="none" stroke-width="0.5" fill-opacity="0.36"/>
<circle cx="574.99" cy="549.39" r="1.85" fill="#999" stroke="none" stroke-width="0.5" fill-opacity="0.36"/>
<circle cx="554.83" cy="536.88" r="1.85" fill="#999" stroke="none" stroke-width="0.5" fill-opacity="0.36"/>
<circle cx="561.60" cy="544.01" r="1.85" fill="#999" stroke="none" stroke-width="0.5" fill-opacity="0.4"/>
<circle cx="521.23" cy="544.66" r="1.85" fill="#999" stroke="none" stroke-width="0.5" fill-opacity="0.4"/>
<circle cx="549.58" cy="541.26" r="1.85" fill="#999" stroke="none" stroke-width="0.5" fill-opacity="0.4"/>
<circle cx="579.64" cy="538.33" r="1.85" fill="#999" stroke="none" stroke-width="0.5" fill-opacity="0.4"/>
<circle cx="530.46" cy="538.89" r="1.85" fill="#999" stroke="none" stroke-width="0.5" fill-opacity="0.4"/>
<circle cx="581.59" cy="532.26" r="1.85" fill="#999" stroke="none" stroke-width="0.5" fill-opacity="0.4"/>
<circle cx="565.42" cy="540.03" r="1.85" fill="#999" stroke="none" stroke-width="0.5" fill-opacity="0.4"/>
<circle cx="535.03" cy="536.92" r="1.85" fill="#999" stroke="none" stroke-width="0.5" fill-opacity="0.4"/>
<circle cx="546.96" cy="544.01" r="1.85" fill="#999" stroke="none" stroke-width="0.5" fill-opacity="0.4"/>
<circle cx="547.90" cy="529.75" r="1.85" fill="#999" stroke="none" stroke-width="0.5" fill-opacity="0.4"/>
<circle cx="556.91" cy="545.59" r="1.85" fill="#999" stroke="none" stroke-width="0.5" fill-opacity="0.4"/>
<circle cx="546.20" cy="544.58" r="1.85" fill="#999" stroke="none" stroke-width="0.5" fill-opacity="0.4"/>
<circle cx="539.80" cy="541.44" r="1.85" fill="#999" stroke="none" stroke-width="0.5" fill-opacity="0.4"/>
<circle cx="551.30" cy="538.17" r="1.85" fill="#999" stroke="none" stroke-width="0.5" fill-opacity="0.4"/>
<circle cx="535.41" cy="549.08" r="1.85" fill="#999" stroke="none" stroke-width="0.5" fill-opacity="0.4"/>
<circle cx="529.63" cy="524.69" r="1.85" fill="#999" stroke="none" stroke-width="0.5" fill-opacity="0.4"/>
<circle cx="556.94" cy="548.06" r="1.85" fill="#999" stroke="none" stroke-width="0.5" fill-opacity="0.4"/>
<circle cx="577.42" cy="545.67" r="1.85" fill="#999" stroke="none" stroke-width="0.5" fill-opacity="0.4"/>
<circle cx="524.35" cy="546.12" r="1.85" fill="#999" stroke="none" stroke-width="0.5" fill-opacity="0.4"/>
<circle cx="558.08" cy="547.22" r="1.85" fill="#999" stroke="none" stroke-width="0.5" fill-opacity="0.4"/>
<circle cx="543.70" cy="535.81" r="1.85" fill="#999" stroke="none" stroke-width="0.5" fill-opacity="0.4"/>
<circle cx="536.50" cy="540.15" r="1.85" fill="#999" stroke="none" stroke-width="0.5" fill-opacity="0.4"/>
<circle cx="576.78" cy="550.01" r="1.85" fill="#999" stroke="none" stroke-width="0.5" fill-opacity="0.4"/>
<circle cx="546.60" cy="547.74" r="1.85" fill="#999" stroke="none" stroke-width="0.5" fill-opacity="0.4"/>
<circle cx="590.96" cy="545.27" r="1.85" fill="#999" stroke="none" stroke-width="0.5" fill-opacity="0.4"/>
<circle cx="540.84" cy="526.34" r="1.85" fill="#999" stroke="none" stroke-width="0.5" fill-opacity="0.4"/>
<circle cx="566.50" cy="548.92" r="1.85" fill="#999" stroke="none" stroke-width="0.5" fill-opacity="0.4"/>
<circle cx="553.00" cy="555.86" r="1.85" fill="#999" stroke="none" stroke-width="0.5" fill-opacity="0.4"/>
<circle cx="541.41" cy="554.11" r="1.85" fill="#999" stroke="none" stroke-width="0.5" fill-opacity="0.4"/>
<circle cx="570.93" cy="545.57" r="1.85" fill="#999" stroke="none" stroke-width="0.5" fill-opacity="0.4"/>
<circle cx="554.59" cy="525.87" r="1.85" fill="#999" stroke="none" stroke-width="0.5" fill-opacity="0.4"/>
<circle cx="571.27" cy="553.37" r="1.85" fill="#999" stroke="none" stroke-width="0.5" fill-opacity="0.4"/>
<circle cx="556.96" cy="541.38" r="1.85" fill="#999" stroke="none" stroke-width="0.5" fill-opacity="0.4"/>
<circle cx="534.11" cy="515.14" r="1.85" fill="#999" stroke="none" stroke-width="0.5" fill-opacity="0.4"/>
<circle cx="555.75" cy="547.15" r="1.85" fill="#999" stroke="none" stroke-width="0.5" fill-opacity="0.4"/>
<circle cx="559.14" cy="526.59" r="1.85" fill="#999" stroke="none" stroke-width="0.5" fill-opacity="0.4"/>
<circle cx="579.09" cy="528.74" r="1.85" fill="#999" stroke="none" stroke-width="0.5" fill-opacity="0.4"/>
<circle cx="538.06" cy="536.02" r="1.85" fill="#999" stroke="none" stroke-width="0.5" fill-opacity="0.4"/>
<circle cx="557.13" cy="557.00" r="1.85" fill="#999" stroke="none" stroke-width="0.5" fill-opacity="0.4"/>
<circle cx="520.12" cy="538.92" r="1.85" fill="#999" stroke="none" stroke-width="0.5" fill-opacity="0.4"/>
<circle cx="572.33" cy="545.98" r="1.85" fill="#999" stroke="none" stroke-width="0.5" fill-opacity="0.4"/>
<circle cx="534.21" cy="562.23" r="1.85" fill="#999" stroke="none" stroke-width="0.5" fill-opacity="0.4"/>
<circle cx="518.26" cy="560.53" r="1.85" fill="#999" stroke="none" stroke-width="0.5" fill-opacity="0.4"/>
<circle cx="556.70" cy="541.86" r="1.85" fill="#999" stroke="none" stroke-width="0.5" fill-opacity="0.4"/>
<circle cx="582.33" cy="540.34" r="1.85" fill="#999" stroke="none" stroke-width="0.5" fill-opacity="0.4"/>
<circle cx="524.46" cy="529.13" r="1.85" fill="#999" stroke="none" stroke-width="0.5" fill-opacity="0.4"/>
<circle cx="534.06" cy="535.36" r="1.85" fill="#999" stroke="none" stroke-width="0.5" fill-opacity="0.4"/>
<circle cx="541.65" cy="547.68" r="1.85" fill="#999" stroke="none" stroke-width="0.5" fill-opacity="0.4"/>
<circle cx="533.15" cy="547.35" r="1.85" fill="#999" stroke="none" stroke-width="0.5" fill-opacity="0.4"/>
<circle cx="566.35" cy="544.21" r="1.85" fill="#999" stroke="none" stroke-width="0.5" fill-opacity="0.4"/>
<circle cx="540.24" cy="553.94" r="1.85" fill="#999" stroke="none" stroke-width="0.5" fill-opacity="0.4"/>
<circle cx="542.13" cy="534.50" r="1.85" fill="#999" stroke="none" stroke-width="0.5" fill-opacity="0.4"/>
<circle cx="570.83" cy="542.38" r="1.85" fill="#999" stroke="none" stroke-width="0.5" fill-opacity="0.4"/>
<circle cx="541.38" cy="551.04" r="1.85" fill="#999" stroke="none" stroke-width="0.5" fill-opacity="0.4"/>
<circle cx="567.52" cy="549.43" r="1.85" fill="#999" stroke="none" stroke-width="0.5" fill-opacity="0.4"/>
<circle cx="536.63" cy="554.78" r="1.85" fill="#999" stroke="none" stroke-width="0.5" fill-opacity="0.4"/>
<circle cx="531.33" cy="547.37" r="1.85" fill="#999" stroke="none" stroke-width="0.5" fill-opacity="0.4"/>
<circle cx="517.62" cy="539.60" r="1.85" fill="#999" stroke="none" stroke-width="0.5" fill-opacity="0.4"/>
<circle cx="598.95" cy="546.98" r="1.85" fill="#999" stroke="none" stroke-width="0.5" fill-opacity="0.4"/>
<circle cx="550.95" cy="531.97" r="1.85" fill="#999" stroke="none" stroke-width="0.5" fill-opacity="0.4"/>
<circle cx="563.37" cy="524.97" r="1.85" fill="#999" stroke="none" stroke-width="0.5" fill-opacity="0.4"/>
<circle cx="557.32" cy="549.39" r="1.85" fill="#999" stroke="none" stroke-width="0.5" fill-opacity="0.4"/>
<circle cx="561.52" cy="542.39" r="1.85" fill="#999" stroke="none" stroke-width="0.5" fill-opacity="0.4"/>
<circle cx="559.09" cy="546.39" r="1.85" fill="#999" stroke="none" stroke-width="0.5" fill-opacity="0.4"/>
<circle cx="599.98" cy="524.33" r="1.85" fill="#999" stroke="none" stroke-width="0.5" fill-opacity="0.4"/>
<circle cx="535.14" cy="538.98" r="1.85" fill="#999" stroke="none" stroke-width="0.5" fill-opacity="0.4"/>
<circle cx="523.74" cy="536.40" r="1.85" fill="#999" stroke="none" stroke-width="0.5" fill-opacity="0.4"/>
<circle cx="535.74" cy="533.49" r="1.85" fill="#999" stroke="none" stroke-width="0.5" fill-opacity="0.4"/>
<circle cx="528.64" cy="518.19" r="1.85" fill="#999" stroke="none" stroke-width="0.5" fill-opacity="0.4"/>
<circle cx="574.43" cy="539.32" r="1.85" fill="#999" stroke="none" stroke-width="0.5" fill-opacity="0.4"/>
<circle cx="576.05" cy="552.87" r="1.85" fill="#999" stroke="none" stroke-width="0.5" fill-opacity="0.4"/>
<circle cx="536.85" cy="547.19" r="1.85" fill="#999" stroke="none" stroke-width="0.5" fill-opacity="0.4"/>
<circle cx="527.41" cy="536.39" r="1.85" fill="#999" stroke="none" stroke-width="0.5" fill-opacity="0.4"/>
<circle cx="550.19" cy="542.84" r="1.85" fill="#999" stroke="none" stroke-width="0.5" fill-opacity="0.4"/>
<circle cx="588.60" cy="551.32" r="1.85" fill="#999" stroke="none" stroke-width="0.5" fill-opacity="0.4"/>
<circle cx="495.97" cy="512.64" r="1.85" fill="#999" stroke="none" stroke-width="0.5" fill-opacity="0.4"/>
<circle cx="569.59" cy="541.63" r="1.85" fill="#999" stroke="none" stroke-width="0.5" fill-opacity="0.4"/>
<circle cx="534.33" cy="548.98" r="1.85" fill="#999" stroke="none" stroke-width="0.5" fill-opacity="0.4"/>
<circle cx="580.89" cy="550.50" r="1.85" fill="#999" stroke="none" stroke-width="0.5" fill-opacity="0.4"/>
<circle cx="534.29" cy="561.71" r="1.85" fill="#999" stroke="none" stroke-width="0.5" fill-opacity="0.4"/>
<circle cx="551.72" cy="555.49" r="1.85" fill="#999" stroke="none" stroke-width="0.5" fill-opacity="0.4"/>
<circle cx="524.86" cy="546.44" r="1.85" fill="#999" stroke="none" stroke-width="0.5" fill-opacity="0.4"/>
<circle cx="536.50" cy="546.32" r="1.85" fill="#999" stroke="none" stroke-width="0.5" fill-opacity="0.4"/>
<circle cx="588.49" cy="551.66" r="1.85" fill="#999" stroke="none" stroke-width="0.5" fill-opacity="0.4"/>
<circle cx="576.05" cy="537.07" r="1.85" fill="#999" stroke="none" stroke-width="0.5" fill-opacity="0.4"/>
<circle cx="549.16" cy="542.56" r="1.85" fill="#999" stroke="none" stroke-width="0.5" fill-opacity="0.4"/>
<circle cx="538.86" cy="552.97" r="1.85" fill="#999" stroke="none" stroke-width="0.5" fill-opacity="0.4"/>
<circle cx="516.34" cy="564.53" r="1.85" fill="#999" stroke="none" stroke-width="0.5" fill-opacity="0.4"/>
<circle cx="549.34" cy="541.25" r="1.85" fill="#999" stroke="none" stroke-width="0.5" fill-opacity="0.4"/>
<circle cx="557.32" cy="542.47" r="1.85" fill="#999" stroke="none" stroke-width="0.5" fill-opacity="0.4"/>
<circle cx="556.15" cy="545.18" r="1.85" fill="#999" stroke="none" stroke-width="0.5" fill-opacity="0.4"/>
<circle cx="555.94" cy="557.78" r="1.85" fill="#999" stroke="none" stroke-width="0.5" fill-opacity="0.4"/>
<circle cx="533.32" cy="542.67" r="1.85" fill="#999" stroke="none" stroke-width="0.5" fill-opacity="0.4"/>
<circle cx="556.54" cy="559.16" r="1.85" fill="#999" stroke="none" stroke-width="0.5" fill-opacity="0.4"/>
<circle cx="557.15" cy="532.37" r="1.85" fill="#999" stroke="none" stroke-width="0.5" fill-opacity="0.4"/>
<circle cx="586.39" cy="540.95" r="1.85" fill="#999" stroke="none" stroke-width="0.5" fill-opacity="0.4"/>
<circle cx="599.07" cy="540.82" r="1.85" fill="#999" stroke="none" stroke-width="0.5" fill-opacity="0.4"/>
<circle cx="554.99" cy="551.65" r="1.85" fill="#999" stroke="none" stroke-width="0.5" fill-opacity="0.4"/>
<circle cx="541.14" cy="554.50" r="1.85" fill="#999" stroke="none" stroke-width="0.5" fill-opacity="0.4"/>
<circle cx="556.57" cy="526.40" r="1.85" fill="#999" stroke="none" stroke-width="0.5" fill-opacity="0.4"/>
<circle cx="544.63" cy="532.93" r="1.85" fill="#999" stroke="none" stroke-width="0.5" fill-opacity="0.4"/>
<circle cx="541.67" cy="546.71" r="1.85" fill="#999" stroke="none" stroke-width="0.5" fill-opacity="0.4"/>
<circle cx="556.71" cy="535.75" r="1.85" fill="#999" stroke="none" stroke-width="0.5" fill-opacity="0.4"/>
<circle cx="535.05" cy="526.25" r="1.85" fill="#999" stroke="none" stroke-width="0.5" fill-opacity="0.4"/>
<circle cx="571.33" cy="554.42" r="1.85" fill="#999" stroke="none" stroke-width="0.5" fill-opacity="0.4"/>
<circle cx="555.71" cy="548.43" r="1.85" fill="#999" stroke="none" stroke-width="0.5" fill-opacity="0.4"/>
<circle cx="563.50" cy="548.42" r="1.85" fill="#999" stroke="none" stroke-width="0.5" fill-opacity="0.4"/>
<circle cx="553.98" cy="537.77" r="1.85" fill="#999" stroke="none" stroke-width="0.5" fill-opacity="0.4"/>
<circle cx="542.00" cy="554.32" r="1.85" fill="#999" stroke="none" stroke-width="0.5" fill-opacity="0.4"/>
<circle cx="537.14" cy="540.36" r="1.85" fill="#999" stroke="none" stroke-width="0.5" fill-opacity="0.4"/>
<circle cx="552.78" cy="555.06" r="1.85" fill="#999" stroke="none" stroke-width="0.5" fill-opacity="0.4"/>
<circle cx="545.93" cy="532.97" r="1.85" fill="#999" stroke="none" stroke-width="0.5" fill-opacity="0.4"/>
<circle cx="563.15" cy="533.60" r="1.85" fill="#999" stroke="none" stroke-width="0.5" fill-opacity="0.4"/>
<circle cx="557.90" cy="545.25" r="1.85" fill="#999" stroke="none" stroke-width="0.5" fill-opacity="0.4"/>
<circle cx="528.03" cy="535.27" r="1.85" fill="#999" stroke="none" stroke-width="0.5" fill-opacity="0.4"/>
<circle cx="559.48" cy="550.43" r="1.85" fill="#999" stroke="none" stroke-width="0.5" fill-opacity="0.4"/>
<circle cx="528.46" cy="545.86" r="1.85" fill="#999" stroke="none" stroke-width="0.5" fill-opacity="0.4"/>
<circle cx="544.44" cy="532.85" r="1.85" fill="#999" stroke="none" stroke-width="0.5" fill-opacity="0.4"/>
<circle cx="551.52" cy="543.80" r="1.85" fill="#999" stroke="none" stroke-width="0.5" fill-opacity="0.4"/>
<circle cx="512.34" cy="539.14" r="1.85" fill="#999" stroke="none" stroke-width="0.5" fill-opacity="0.4"/>
<circle cx="579.50" cy="479.60" r="1.85" fill="#999" stroke="none" stroke-width="0.5" fill-opacity="0.45"/>
<circle cx="616.50" cy="496.40" r="1.85" fill="#999" stroke="none" stroke-width="0.5" fill-opacity="0.45"/>
<circle cx="637.40" cy="532.30" r="1.85" fill="#999" stroke="none" stroke-width="0.5" fill-opacity="0.45"/>
<circle cx="656.00" cy="542.00" r="1.85" fill="#999" stroke="none" stroke-width="0.5" fill-opacity="0.45"/>
<circle cx="620.80" cy="557.50" r="1.85" fill="#999" stroke="none" stroke-width="0.5" fill-opacity="0.45"/>
<circle cx="588.50" cy="595.90" r="1.85" fill="#999" stroke="none" stroke-width="0.5" fill-opacity="0.45"/>
<circle cx="516.70" cy="604.20" r="1.85" fill="#999" stroke="none" stroke-width="0.5" fill-opacity="0.45"/>
<circle cx="550.50" cy="588.00" r="1.85" fill="#999" stroke="none" stroke-width="0.5" fill-opacity="0.45"/>
<circle cx="526.80" cy="584.40" r="1.85" fill="#999" stroke="none" stroke-width="0.5" fill-opacity="0.45"/>
<circle cx="528.60" cy="588.00" r="1.85" fill="#999" stroke="none" stroke-width="0.5" fill-opacity="0.45"/>
<circle cx="483.00" cy="556.40" r="1.85" fill="#999" stroke="none" stroke-width="0.5" fill-opacity="0.45"/>
<circle cx="494.40" cy="559.30" r="1.85" fill="#999" stroke="none" stroke-width="0.5" fill-opacity="0.45"/>
<circle cx="523.20" cy="527.70" r="1.85" fill="#999" stroke="none" stroke-width="0.5" fill-opacity="0.45"/>
<circle cx="495.20" cy="546.70" r="1.85" fill="#999" stroke="none" stroke-width="0.5" fill-opacity="0.45"/>
<circle cx="522.10" cy="537.70" r="1.85" fill="#999" stroke="none" stroke-width="0.5" fill-opacity="0.45"/>
<circle cx="607.60" cy="534.10" r="1.85" fill="#999" stroke="none" stroke-width="0.5" fill-opacity="0.45"/>
<circle cx="629.10" cy="544.90" r="1.85" fill="#999" stroke="none" stroke-width="0.5" fill-opacity="0.45"/>
<circle cx="600.50" cy="550.30" r="1.85" fill="#999" stroke="none" stroke-width="0.5" fill-opacity="0.45"/>
<circle cx="512.00" cy="540.00" r="1.85" fill="#999" stroke="none" stroke-width="0.5" fill-opacity="0.45"/>
<circle cx="505.00" cy="552.00" r="1.85" fill="#999" stroke="none" stroke-width="0.5" fill-opacity="0.45"/>
<circle cx="536.00" cy="575.00" r="1.85" fill="#999" stroke="none" stroke-width="0.5" fill-opacity="0.45"/>
<circle cx="545.00" cy="579.00" r="1.85" fill="#999" stroke="none" stroke-width="0.5" fill-opacity="0.45"/>
<circle cx="540.00" cy="520.00" r="1.85" fill="#999" stroke="none" stroke-width="0.5" fill-opacity="0.45"/>
<circle cx="553.00" cy="515.00" r="1.85" fill="#999" stroke="none" stroke-width="0.5" fill-opacity="0.45"/>
<circle cx="600.00" cy="520.00" r="1.85" fill="#999" stroke="none" stroke-width="0.5" fill-opacity="0.45"/>
<circle cx="590.00" cy="560.00" r="1.85" fill="#999" stroke="none" stroke-width="0.5" fill-opacity="0.45"/>
<circle cx="575.00" cy="565.00" r="1.85" fill="#999" stroke="none" stroke-width="0.5" fill-opacity="0.45"/>
<circle cx="604.00" cy="540.00" r="1.85" fill="#999" stroke="none" stroke-width="0.5" fill-opacity="0.45"/>
<line x1="530.10" y1="518.00" x2="546.00" y2="538.00" stroke="#555" stroke-width="0.45"/>
<line x1="548.00" y1="531.70" x2="552.00" y2="540.00" stroke="#555" stroke-width="0.45"/>
<line x1="580.00" y1="516.40" x2="576.00" y2="535.00" stroke="#555" stroke-width="0.45"/>
<line x1="590.00" y1="529.70" x2="578.00" y2="535.00" stroke="#555" stroke-width="0.45"/>
<line x1="539.70" y1="541.00" x2="549.00" y2="544.80" stroke="#555" stroke-width="0.45"/>
<line x1="596.70" y1="540.00" x2="590.20" y2="536.60" stroke="#555" stroke-width="0.45"/>
<line x1="570.00" y1="549.20" x2="571.70" y2="543.00" stroke="#555" stroke-width="0.45"/>
<line x1="520.00" y1="561.90" x2="532.00" y2="549.80" stroke="#555" stroke-width="0.45"/>
<line x1="520.00" y1="567.80" x2="532.80" y2="575.00" stroke="#555" stroke-width="0.45"/>
<line x1="530.00" y1="561.90" x2="540.50" y2="579.90" stroke="#555" stroke-width="0.45"/>
<line x1="570.00" y1="566.70" x2="572.00" y2="548.00" stroke="#555" stroke-width="0.45"/>
<circle cx="571.70" cy="543.00" r="1.90" fill="#4d4d4d" stroke="none" stroke-width="0.5"/>
<circle cx="570.00" cy="536.60" r="1.90" fill="#7a7a7a" stroke="none" stroke-width="0.5"/>
<circle cx="577.80" cy="535.10" r="1.90" fill="#6e6e6e" stroke="none" stroke-width="0.5"/>
<circle cx="546.60" cy="538.40" r="1.90" fill="#8c8c8c" stroke="none" stroke-width="0.5"/>
<circle cx="549.30" cy="544.80" r="1.90" fill="#2255aa" stroke="none" stroke-width="0.5"/>
<circle cx="532.20" cy="549.80" r="1.90" fill="#74c476" stroke="none" stroke-width="0.5"/>
<circle cx="590.20" cy="536.60" r="1.90" fill="#238b45" stroke="none" stroke-width="0.5"/>
<circle cx="529.10" cy="522.90" r="1.90" fill="#cfcfee" stroke="none" stroke-width="0.5"/>
<circle cx="620.40" cy="547.70" r="1.90" fill="#74c476" stroke="none" stroke-width="0.5"/>
<circle cx="532.80" cy="575.00" r="1.90" fill="#7db6dd" stroke="none" stroke-width="0.5"/>
<circle cx="540.50" cy="579.90" r="1.90" fill="#5a9bd0" stroke="none" stroke-width="0.5"/>
<rect x="489.20" y="512.70" width="40.90" height="8.20" fill="#fff" stroke="#6a6a6a" stroke-width="0.6" rx="1.8"/>
<text x="509.65" y="519.07" font-size="6.3" text-anchor="middle" fill="#000">PC aa C28:1</text>
<rect x="566.90" y="508.20" width="38.80" height="8.20" fill="#fff" stroke="#6a6a6a" stroke-width="0.6" rx="1.8"/>
<text x="586.30" y="514.57" font-size="6.3" text-anchor="middle" fill="#000">PC aa C40:3</text>
<rect x="534.20" y="523.50" width="38.80" height="8.20" fill="#fff" stroke="#6a6a6a" stroke-width="0.6" rx="1.8"/>
<text x="553.60" y="529.87" font-size="6.3" text-anchor="middle" fill="#000">PC aa C36:3</text>
<rect x="578.70" y="521.50" width="38.20" height="8.20" fill="#fff" stroke="#6a6a6a" stroke-width="0.6" rx="1.8"/>
<text x="597.80" y="527.87" font-size="6.3" text-anchor="middle" fill="#000">PC ae C36:3</text>
<rect x="500.40" y="536.80" width="39.30" height="8.20" fill="#fff" stroke="#6a6a6a" stroke-width="0.6" rx="1.8"/>
<text x="520.05" y="543.17" font-size="6.3" text-anchor="middle" fill="#000">PC ae C38:0</text>
<rect x="596.70" y="535.60" width="30.50" height="8.20" fill="#fff" stroke="#6a6a6a" stroke-width="0.6" rx="1.8"/>
<text x="611.95" y="541.97" font-size="6.3" text-anchor="middle" fill="#000">Serotonin</text>
<rect x="556.50" y="549.20" width="40.10" height="8.20" fill="#fff" stroke="#6a6a6a" stroke-width="0.6" rx="1.8"/>
<text x="576.55" y="555.57" font-size="6.3" text-anchor="middle" fill="#000">PC ae C38:2</text>
<rect x="506.60" y="553.70" width="44.70" height="8.20" fill="#fff" stroke="#6a6a6a" stroke-width="0.6" rx="1.8"/>
<text x="528.95" y="560.07" font-size="6.3" text-anchor="middle" fill="#000">DG(18:1_20:0)</text>
<rect x="484.20" y="567.80" width="44.90" height="8.20" fill="#fff" stroke="#6a6a6a" stroke-width="0.6" rx="1.8"/>
<text x="506.65" y="574.17" font-size="6.3" text-anchor="middle" fill="#000">DG(16:1_18:1)</text>
<rect x="546.60" y="566.70" width="47.80" height="8.20" fill="#fff" stroke="#6a6a6a" stroke-width="0.6" rx="1.8"/>
<text x="570.50" y="573.07" font-size="6.3" text-anchor="middle" fill="#000">lysoPC a C28:0</text>
<line x1="437.40" y1="429.40" x2="682.90" y2="429.40" stroke="#333" stroke-width="0.9"/>
<line x1="437.40" y1="429.40" x2="437.40" y2="663.20" stroke="#333" stroke-width="0.9"/>
<line x1="437.40" y1="663.20" x2="682.90" y2="663.20" stroke="#333" stroke-width="0.9"/>
<line x1="682.90" y1="429.40" x2="682.90" y2="663.20" stroke="#9a9a9a" stroke-width="0.9"/>
<line x1="435.20" y1="461.10" x2="437.40" y2="461.10" stroke="#333" stroke-width="0.6"/>
<text x="434.40" y="463.12" font-size="5.6" text-anchor="end" fill="#4d4d4d">2</text>
<line x1="435.20" y1="503.70" x2="437.40" y2="503.70" stroke="#333" stroke-width="0.6"/>
<text x="434.40" y="505.72" font-size="5.6" text-anchor="end" fill="#4d4d4d">1</text>
<line x1="435.20" y1="546.30" x2="437.40" y2="546.30" stroke="#333" stroke-width="0.6"/>
<text x="434.40" y="548.32" font-size="5.6" text-anchor="end" fill="#4d4d4d">0</text>
<line x1="435.20" y1="588.90" x2="437.40" y2="588.90" stroke="#333" stroke-width="0.6"/>
<text x="434.40" y="590.92" font-size="5.6" text-anchor="end" fill="#4d4d4d">−1</text>
<line x1="435.20" y1="631.50" x2="437.40" y2="631.50" stroke="#333" stroke-width="0.6"/>
<text x="434.40" y="633.52" font-size="5.6" text-anchor="end" fill="#4d4d4d">−2</text>
<line x1="469.70" y1="663.20" x2="469.70" y2="665.40" stroke="#333" stroke-width="0.6"/>
<text x="469.70" y="670.23" font-size="5.6" text-anchor="middle" fill="#4d4d4d">−2</text>
<line x1="514.90" y1="663.20" x2="514.90" y2="665.40" stroke="#333" stroke-width="0.6"/>
<text x="514.90" y="670.23" font-size="5.6" text-anchor="middle" fill="#4d4d4d">−1</text>
<line x1="560.10" y1="663.20" x2="560.10" y2="665.40" stroke="#333" stroke-width="0.6"/>
<text x="560.10" y="670.23" font-size="5.6" text-anchor="middle" fill="#4d4d4d">0</text>
<line x1="605.30" y1="663.20" x2="605.30" y2="665.40" stroke="#333" stroke-width="0.6"/>
<text x="605.30" y="670.23" font-size="5.6" text-anchor="middle" fill="#4d4d4d">1</text>
<line x1="650.50" y1="663.20" x2="650.50" y2="665.40" stroke="#333" stroke-width="0.6"/>
<text x="650.50" y="670.23" font-size="5.6" text-anchor="middle" fill="#4d4d4d">2</text>
<text x="561.20" y="677.90" font-size="6.72" text-anchor="middle" fill="#1a1a1a">Microbiome Effect Estimate (SPF / GF)</text>
<text transform="translate(426.30,546.30) rotate(-90)" font-size="6.83" text-anchor="middle" fill="#1a1a1a">Genotype Effect Estimate (ASO / WT)</text>
<text x="408.00" y="711.30" font-size="22.8" font-weight="bold" text-anchor="start" fill="#000">e</text>
<text x="563.50" y="720.50" font-size="10" font-weight="bold" text-anchor="middle" fill="#000">Cecal content</text>
<rect x="437.40" y="725.70" width="245.50" height="233.80" fill="#fff" stroke="none" stroke-width="1"/>
<path d="M437.4,725.7 L682.9,959.5 M437.4,959.5 L682.9,725.7" stroke="#9a9a9a" stroke-width="0.9" stroke-dasharray="1 2.5" fill="none"/>
<line x1="560.10" y1="725.70" x2="560.10" y2="959.50" stroke="#c9c9c9" stroke-width="1.0"/>
<line x1="437.40" y1="842.60" x2="682.90" y2="842.60" stroke="#c9c9c9" stroke-width="1.0"/>
<text x="460.30" y="744.53" font-size="7.3" text-anchor="middle" fill="#1a1a1a">GF  ASO</text>
<text x="460.30" y="754.43" font-size="7.3" text-anchor="middle" fill="#1a1a1a">Enriched</text>
<text x="662.20" y="744.53" font-size="7.3" text-anchor="middle" fill="#1a1a1a">SPF  ASO</text>
<text x="662.20" y="754.43" font-size="7.3" text-anchor="middle" fill="#1a1a1a">Enriched</text>
<text x="460.10" y="936.43" font-size="7.3" text-anchor="middle" fill="#1a1a1a">GF  WT</text>
<text x="460.10" y="946.33" font-size="7.3" text-anchor="middle" fill="#1a1a1a">Enriched</text>
<text x="662.00" y="936.43" font-size="7.3" text-anchor="middle" fill="#1a1a1a">SPF  WT</text>
<text x="662.00" y="946.33" font-size="7.3" text-anchor="middle" fill="#1a1a1a">Enriched</text>
<circle cx="578.82" cy="841.58" r="1.85" fill="#999" stroke="none" stroke-width="0.5" fill-opacity="0.42"/>
<circle cx="557.14" cy="865.38" r="1.85" fill="#999" stroke="none" stroke-width="0.5" fill-opacity="0.42"/>
<circle cx="559.85" cy="849.90" r="1.85" fill="#999" stroke="none" stroke-width="0.5" fill-opacity="0.42"/>
<circle cx="582.96" cy="838.49" r="1.85" fill="#999" stroke="none" stroke-width="0.5" fill-opacity="0.42"/>
<circle cx="597.34" cy="842.24" r="1.85" fill="#999" stroke="none" stroke-width="0.5" fill-opacity="0.42"/>
<circle cx="593.99" cy="845.94" r="1.85" fill="#999" stroke="none" stroke-width="0.5" fill-opacity="0.42"/>
<circle cx="566.89" cy="853.89" r="1.85" fill="#999" stroke="none" stroke-width="0.5" fill-opacity="0.42"/>
<circle cx="569.06" cy="838.60" r="1.85" fill="#999" stroke="none" stroke-width="0.5" fill-opacity="0.42"/>
<circle cx="587.47" cy="827.33" r="1.85" fill="#999" stroke="none" stroke-width="0.5" fill-opacity="0.42"/>
<circle cx="564.26" cy="840.48" r="1.85" fill="#999" stroke="none" stroke-width="0.5" fill-opacity="0.42"/>
<circle cx="552.33" cy="843.14" r="1.85" fill="#999" stroke="none" stroke-width="0.5" fill-opacity="0.42"/>
<circle cx="567.64" cy="843.99" r="1.85" fill="#999" stroke="none" stroke-width="0.5" fill-opacity="0.42"/>
<circle cx="572.32" cy="854.85" r="1.85" fill="#999" stroke="none" stroke-width="0.5" fill-opacity="0.42"/>
<circle cx="554.39" cy="845.85" r="1.85" fill="#999" stroke="none" stroke-width="0.5" fill-opacity="0.42"/>
<circle cx="542.95" cy="850.32" r="1.85" fill="#999" stroke="none" stroke-width="0.5" fill-opacity="0.42"/>
<circle cx="545.89" cy="833.09" r="1.85" fill="#999" stroke="none" stroke-width="0.5" fill-opacity="0.42"/>
<circle cx="575.32" cy="850.81" r="1.85" fill="#999" stroke="none" stroke-width="0.5" fill-opacity="0.42"/>
<circle cx="555.38" cy="861.87" r="1.85" fill="#999" stroke="none" stroke-width="0.5" fill-opacity="0.42"/>
<circle cx="564.02" cy="849.96" r="1.85" fill="#999" stroke="none" stroke-width="0.5" fill-opacity="0.42"/>
<circle cx="568.98" cy="845.28" r="1.85" fill="#999" stroke="none" stroke-width="0.5" fill-opacity="0.42"/>
<circle cx="574.67" cy="844.39" r="1.85" fill="#999" stroke="none" stroke-width="0.5" fill-opacity="0.42"/>
<circle cx="561.31" cy="859.08" r="1.85" fill="#999" stroke="none" stroke-width="0.5" fill-opacity="0.42"/>
<circle cx="572.98" cy="834.66" r="1.85" fill="#999" stroke="none" stroke-width="0.5" fill-opacity="0.42"/>
<circle cx="553.54" cy="842.00" r="1.85" fill="#999" stroke="none" stroke-width="0.5" fill-opacity="0.42"/>
<circle cx="560.94" cy="847.14" r="1.85" fill="#999" stroke="none" stroke-width="0.5" fill-opacity="0.42"/>
<circle cx="551.66" cy="849.70" r="1.85" fill="#999" stroke="none" stroke-width="0.5" fill-opacity="0.42"/>
<circle cx="581.84" cy="839.06" r="1.85" fill="#999" stroke="none" stroke-width="0.5" fill-opacity="0.42"/>
<circle cx="565.62" cy="845.77" r="1.85" fill="#999" stroke="none" stroke-width="0.5" fill-opacity="0.42"/>
<circle cx="555.65" cy="840.50" r="1.85" fill="#999" stroke="none" stroke-width="0.5" fill-opacity="0.42"/>
<circle cx="561.07" cy="844.08" r="1.85" fill="#999" stroke="none" stroke-width="0.5" fill-opacity="0.42"/>
<circle cx="562.90" cy="841.81" r="1.85" fill="#999" stroke="none" stroke-width="0.5" fill-opacity="0.42"/>
<circle cx="575.81" cy="832.73" r="1.85" fill="#999" stroke="none" stroke-width="0.5" fill-opacity="0.42"/>
<circle cx="543.66" cy="842.81" r="1.85" fill="#999" stroke="none" stroke-width="0.5" fill-opacity="0.42"/>
<circle cx="551.48" cy="850.89" r="1.85" fill="#999" stroke="none" stroke-width="0.5" fill-opacity="0.42"/>
<circle cx="560.71" cy="834.30" r="1.85" fill="#999" stroke="none" stroke-width="0.5" fill-opacity="0.42"/>
<circle cx="601.45" cy="840.83" r="1.85" fill="#999" stroke="none" stroke-width="0.5" fill-opacity="0.42"/>
<circle cx="579.38" cy="848.98" r="1.85" fill="#999" stroke="none" stroke-width="0.5" fill-opacity="0.42"/>
<circle cx="564.44" cy="833.37" r="1.85" fill="#999" stroke="none" stroke-width="0.5" fill-opacity="0.42"/>
<circle cx="575.97" cy="844.64" r="1.85" fill="#999" stroke="none" stroke-width="0.5" fill-opacity="0.42"/>
<circle cx="594.80" cy="833.46" r="1.85" fill="#999" stroke="none" stroke-width="0.5" fill-opacity="0.42"/>
<circle cx="562.73" cy="853.21" r="1.85" fill="#999" stroke="none" stroke-width="0.5" fill-opacity="0.42"/>
<circle cx="560.87" cy="863.82" r="1.85" fill="#999" stroke="none" stroke-width="0.5" fill-opacity="0.42"/>
<circle cx="582.97" cy="861.20" r="1.85" fill="#999" stroke="none" stroke-width="0.5" fill-opacity="0.42"/>
<circle cx="572.92" cy="841.03" r="1.85" fill="#999" stroke="none" stroke-width="0.5" fill-opacity="0.42"/>
<circle cx="575.40" cy="849.66" r="1.85" fill="#999" stroke="none" stroke-width="0.5" fill-opacity="0.42"/>
<circle cx="558.88" cy="844.09" r="1.85" fill="#999" stroke="none" stroke-width="0.5" fill-opacity="0.42"/>
<circle cx="592.94" cy="843.92" r="1.85" fill="#999" stroke="none" stroke-width="0.5" fill-opacity="0.42"/>
<circle cx="589.93" cy="856.93" r="1.85" fill="#999" stroke="none" stroke-width="0.5" fill-opacity="0.42"/>
<circle cx="573.92" cy="831.13" r="1.85" fill="#999" stroke="none" stroke-width="0.5" fill-opacity="0.42"/>
<circle cx="575.58" cy="852.50" r="1.85" fill="#999" stroke="none" stroke-width="0.5" fill-opacity="0.42"/>
<circle cx="537.62" cy="842.56" r="1.85" fill="#999" stroke="none" stroke-width="0.5" fill-opacity="0.42"/>
<circle cx="574.93" cy="855.68" r="1.85" fill="#999" stroke="none" stroke-width="0.5" fill-opacity="0.42"/>
<circle cx="563.28" cy="844.69" r="1.85" fill="#999" stroke="none" stroke-width="0.5" fill-opacity="0.42"/>
<circle cx="572.07" cy="836.95" r="1.85" fill="#999" stroke="none" stroke-width="0.5" fill-opacity="0.42"/>
<circle cx="575.55" cy="845.49" r="1.85" fill="#999" stroke="none" stroke-width="0.5" fill-opacity="0.42"/>
<circle cx="561.22" cy="849.62" r="1.85" fill="#999" stroke="none" stroke-width="0.5" fill-opacity="0.42"/>
<circle cx="542.33" cy="843.32" r="1.85" fill="#999" stroke="none" stroke-width="0.5" fill-opacity="0.42"/>
<circle cx="571.15" cy="847.39" r="1.85" fill="#999" stroke="none" stroke-width="0.5" fill-opacity="0.42"/>
<circle cx="555.62" cy="838.30" r="1.85" fill="#999" stroke="none" stroke-width="0.5" fill-opacity="0.42"/>
<circle cx="561.38" cy="823.80" r="1.85" fill="#999" stroke="none" stroke-width="0.5" fill-opacity="0.42"/>
<circle cx="557.54" cy="851.10" r="1.85" fill="#999" stroke="none" stroke-width="0.5" fill-opacity="0.42"/>
<circle cx="561.22" cy="849.29" r="1.85" fill="#999" stroke="none" stroke-width="0.5" fill-opacity="0.42"/>
<circle cx="533.67" cy="844.33" r="1.85" fill="#999" stroke="none" stroke-width="0.5" fill-opacity="0.42"/>
<circle cx="583.04" cy="843.62" r="1.85" fill="#999" stroke="none" stroke-width="0.5" fill-opacity="0.42"/>
<circle cx="569.55" cy="852.33" r="1.85" fill="#999" stroke="none" stroke-width="0.5" fill-opacity="0.42"/>
<circle cx="581.56" cy="838.89" r="1.85" fill="#999" stroke="none" stroke-width="0.5" fill-opacity="0.42"/>
<circle cx="593.72" cy="836.64" r="1.85" fill="#999" stroke="none" stroke-width="0.5" fill-opacity="0.42"/>
<circle cx="566.32" cy="841.30" r="1.85" fill="#999" stroke="none" stroke-width="0.5" fill-opacity="0.42"/>
<circle cx="540.77" cy="853.70" r="1.85" fill="#999" stroke="none" stroke-width="0.5" fill-opacity="0.42"/>
<circle cx="553.49" cy="830.52" r="1.85" fill="#999" stroke="none" stroke-width="0.5" fill-opacity="0.42"/>
<circle cx="549.10" cy="853.73" r="1.85" fill="#999" stroke="none" stroke-width="0.5" fill-opacity="0.42"/>
<circle cx="558.97" cy="837.25" r="1.85" fill="#999" stroke="none" stroke-width="0.5" fill-opacity="0.42"/>
<circle cx="567.12" cy="833.09" r="1.85" fill="#999" stroke="none" stroke-width="0.5" fill-opacity="0.42"/>
<circle cx="537.97" cy="854.34" r="1.85" fill="#999" stroke="none" stroke-width="0.5" fill-opacity="0.42"/>
<circle cx="570.79" cy="842.13" r="1.85" fill="#999" stroke="none" stroke-width="0.5" fill-opacity="0.42"/>
<circle cx="544.86" cy="831.30" r="1.85" fill="#999" stroke="none" stroke-width="0.5" fill-opacity="0.42"/>
<circle cx="570.16" cy="839.77" r="1.85" fill="#999" stroke="none" stroke-width="0.5" fill-opacity="0.42"/>
<circle cx="564.47" cy="851.38" r="1.85" fill="#999" stroke="none" stroke-width="0.5" fill-opacity="0.42"/>
<circle cx="561.61" cy="853.73" r="1.85" fill="#999" stroke="none" stroke-width="0.5" fill-opacity="0.42"/>
<circle cx="564.98" cy="839.16" r="1.85" fill="#999" stroke="none" stroke-width="0.5" fill-opacity="0.42"/>
<circle cx="558.44" cy="846.66" r="1.85" fill="#999" stroke="none" stroke-width="0.5" fill-opacity="0.42"/>
<circle cx="557.43" cy="849.43" r="1.85" fill="#999" stroke="none" stroke-width="0.5" fill-opacity="0.42"/>
<circle cx="542.44" cy="837.20" r="1.85" fill="#999" stroke="none" stroke-width="0.5" fill-opacity="0.42"/>
<circle cx="565.59" cy="846.20" r="1.85" fill="#999" stroke="none" stroke-width="0.5" fill-opacity="0.42"/>
<circle cx="591.84" cy="842.71" r="1.85" fill="#999" stroke="none" stroke-width="0.5" fill-opacity="0.42"/>
<circle cx="593.73" cy="838.18" r="1.85" fill="#999" stroke="none" stroke-width="0.5" fill-opacity="0.42"/>
<circle cx="584.51" cy="838.57" r="1.85" fill="#999" stroke="none" stroke-width="0.5" fill-opacity="0.42"/>
<circle cx="575.88" cy="843.60" r="1.85" fill="#999" stroke="none" stroke-width="0.5" fill-opacity="0.42"/>
<circle cx="556.53" cy="843.27" r="1.85" fill="#999" stroke="none" stroke-width="0.5" fill-opacity="0.42"/>
<circle cx="586.20" cy="837.91" r="1.85" fill="#999" stroke="none" stroke-width="0.5" fill-opacity="0.42"/>
<circle cx="565.21" cy="839.17" r="1.85" fill="#999" stroke="none" stroke-width="0.5" fill-opacity="0.42"/>
<circle cx="565.04" cy="853.02" r="1.85" fill="#999" stroke="none" stroke-width="0.5" fill-opacity="0.42"/>
<circle cx="561.92" cy="844.92" r="1.85" fill="#999" stroke="none" stroke-width="0.5" fill-opacity="0.42"/>
<circle cx="567.29" cy="850.97" r="1.85" fill="#999" stroke="none" stroke-width="0.5" fill-opacity="0.42"/>
<circle cx="559.91" cy="853.82" r="1.85" fill="#999" stroke="none" stroke-width="0.5" fill-opacity="0.42"/>
<circle cx="564.83" cy="848.30" r="1.85" fill="#999" stroke="none" stroke-width="0.5" fill-opacity="0.42"/>
<circle cx="550.82" cy="863.44" r="1.85" fill="#999" stroke="none" stroke-width="0.5" fill-opacity="0.42"/>
<circle cx="560.77" cy="835.57" r="1.85" fill="#999" stroke="none" stroke-width="0.5" fill-opacity="0.42"/>
<circle cx="597.93" cy="850.28" r="1.85" fill="#999" stroke="none" stroke-width="0.5" fill-opacity="0.42"/>
<circle cx="565.03" cy="840.14" r="1.85" fill="#999" stroke="none" stroke-width="0.5" fill-opacity="0.42"/>
<circle cx="562.66" cy="859.70" r="1.85" fill="#999" stroke="none" stroke-width="0.5" fill-opacity="0.42"/>
<circle cx="573.45" cy="858.30" r="1.85" fill="#999" stroke="none" stroke-width="0.5" fill-opacity="0.42"/>
<circle cx="575.91" cy="825.41" r="1.85" fill="#999" stroke="none" stroke-width="0.5" fill-opacity="0.42"/>
<circle cx="550.41" cy="834.28" r="1.85" fill="#999" stroke="none" stroke-width="0.5" fill-opacity="0.42"/>
<circle cx="563.10" cy="848.98" r="1.85" fill="#999" stroke="none" stroke-width="0.5" fill-opacity="0.42"/>
<circle cx="578.86" cy="850.11" r="1.85" fill="#999" stroke="none" stroke-width="0.5" fill-opacity="0.42"/>
<circle cx="569.78" cy="849.63" r="1.85" fill="#999" stroke="none" stroke-width="0.5" fill-opacity="0.42"/>
<circle cx="567.71" cy="842.36" r="1.85" fill="#999" stroke="none" stroke-width="0.5" fill-opacity="0.42"/>
<circle cx="587.76" cy="847.10" r="1.85" fill="#999" stroke="none" stroke-width="0.5" fill-opacity="0.42"/>
<circle cx="556.51" cy="848.88" r="1.85" fill="#999" stroke="none" stroke-width="0.5" fill-opacity="0.42"/>
<circle cx="567.16" cy="842.30" r="1.85" fill="#999" stroke="none" stroke-width="0.5" fill-opacity="0.42"/>
<circle cx="558.72" cy="852.25" r="1.85" fill="#999" stroke="none" stroke-width="0.5" fill-opacity="0.42"/>
<circle cx="586.86" cy="822.66" r="1.85" fill="#999" stroke="none" stroke-width="0.5" fill-opacity="0.42"/>
<circle cx="538.67" cy="848.70" r="1.85" fill="#999" stroke="none" stroke-width="0.5" fill-opacity="0.42"/>
<circle cx="556.62" cy="833.69" r="1.85" fill="#999" stroke="none" stroke-width="0.5" fill-opacity="0.42"/>
<circle cx="558.59" cy="851.63" r="1.85" fill="#999" stroke="none" stroke-width="0.5" fill-opacity="0.42"/>
<circle cx="575.29" cy="840.94" r="1.85" fill="#999" stroke="none" stroke-width="0.5" fill-opacity="0.42"/>
<circle cx="574.49" cy="835.00" r="1.85" fill="#999" stroke="none" stroke-width="0.5" fill-opacity="0.42"/>
<circle cx="585.53" cy="846.37" r="1.85" fill="#999" stroke="none" stroke-width="0.5" fill-opacity="0.42"/>
<circle cx="543.96" cy="834.80" r="1.85" fill="#999" stroke="none" stroke-width="0.5" fill-opacity="0.42"/>
<circle cx="576.51" cy="834.79" r="1.85" fill="#999" stroke="none" stroke-width="0.5" fill-opacity="0.42"/>
<circle cx="561.89" cy="828.89" r="1.85" fill="#999" stroke="none" stroke-width="0.5" fill-opacity="0.42"/>
<circle cx="556.68" cy="842.76" r="1.85" fill="#999" stroke="none" stroke-width="0.5" fill-opacity="0.42"/>
<circle cx="573.55" cy="847.47" r="1.85" fill="#999" stroke="none" stroke-width="0.5" fill-opacity="0.42"/>
<circle cx="553.12" cy="852.21" r="1.85" fill="#999" stroke="none" stroke-width="0.5" fill-opacity="0.42"/>
<circle cx="536.92" cy="841.72" r="1.85" fill="#999" stroke="none" stroke-width="0.5" fill-opacity="0.42"/>
<circle cx="560.82" cy="852.43" r="1.85" fill="#999" stroke="none" stroke-width="0.5" fill-opacity="0.42"/>
<circle cx="545.03" cy="843.16" r="1.85" fill="#999" stroke="none" stroke-width="0.5" fill-opacity="0.42"/>
<circle cx="556.92" cy="842.16" r="1.85" fill="#999" stroke="none" stroke-width="0.5" fill-opacity="0.42"/>
<circle cx="571.20" cy="848.16" r="1.85" fill="#999" stroke="none" stroke-width="0.5" fill-opacity="0.42"/>
<circle cx="570.37" cy="852.53" r="1.85" fill="#999" stroke="none" stroke-width="0.5" fill-opacity="0.42"/>
<circle cx="588.22" cy="839.93" r="1.85" fill="#999" stroke="none" stroke-width="0.5" fill-opacity="0.42"/>
<circle cx="563.20" cy="840.81" r="1.85" fill="#999" stroke="none" stroke-width="0.5" fill-opacity="0.42"/>
<circle cx="544.53" cy="841.55" r="1.85" fill="#999" stroke="none" stroke-width="0.5" fill-opacity="0.42"/>
<circle cx="555.41" cy="843.74" r="1.85" fill="#999" stroke="none" stroke-width="0.5" fill-opacity="0.42"/>
<circle cx="553.13" cy="834.90" r="1.85" fill="#999" stroke="none" stroke-width="0.5" fill-opacity="0.42"/>
<circle cx="548.95" cy="852.25" r="1.85" fill="#999" stroke="none" stroke-width="0.5" fill-opacity="0.42"/>
<circle cx="572.10" cy="839.40" r="1.85" fill="#999" stroke="none" stroke-width="0.5" fill-opacity="0.42"/>
<circle cx="556.97" cy="847.16" r="1.85" fill="#999" stroke="none" stroke-width="0.5" fill-opacity="0.42"/>
<circle cx="538.32" cy="835.57" r="1.85" fill="#999" stroke="none" stroke-width="0.5" fill-opacity="0.42"/>
<circle cx="575.76" cy="846.23" r="1.85" fill="#999" stroke="none" stroke-width="0.5" fill-opacity="0.42"/>
<circle cx="564.44" cy="846.52" r="1.85" fill="#999" stroke="none" stroke-width="0.5" fill-opacity="0.42"/>
<circle cx="571.00" cy="839.21" r="1.85" fill="#999" stroke="none" stroke-width="0.5" fill-opacity="0.42"/>
<circle cx="567.48" cy="861.19" r="1.85" fill="#999" stroke="none" stroke-width="0.5" fill-opacity="0.42"/>
<circle cx="574.84" cy="846.34" r="1.85" fill="#999" stroke="none" stroke-width="0.5" fill-opacity="0.42"/>
<circle cx="566.53" cy="858.99" r="1.85" fill="#999" stroke="none" stroke-width="0.5" fill-opacity="0.42"/>
<circle cx="583.31" cy="851.63" r="1.85" fill="#999" stroke="none" stroke-width="0.5" fill-opacity="0.42"/>
<circle cx="571.95" cy="837.04" r="1.85" fill="#999" stroke="none" stroke-width="0.5" fill-opacity="0.42"/>
<circle cx="571.49" cy="839.56" r="1.85" fill="#999" stroke="none" stroke-width="0.5" fill-opacity="0.42"/>
<circle cx="571.74" cy="846.92" r="1.85" fill="#999" stroke="none" stroke-width="0.5" fill-opacity="0.42"/>
<circle cx="545.61" cy="843.55" r="1.85" fill="#999" stroke="none" stroke-width="0.5" fill-opacity="0.42"/>
<circle cx="563.70" cy="843.45" r="1.85" fill="#999" stroke="none" stroke-width="0.5" fill-opacity="0.42"/>
<circle cx="562.37" cy="840.42" r="1.85" fill="#999" stroke="none" stroke-width="0.5" fill-opacity="0.42"/>
<circle cx="568.91" cy="826.72" r="1.85" fill="#999" stroke="none" stroke-width="0.5" fill-opacity="0.42"/>
<circle cx="546.98" cy="840.97" r="1.85" fill="#999" stroke="none" stroke-width="0.5" fill-opacity="0.42"/>
<circle cx="588.88" cy="823.04" r="1.85" fill="#999" stroke="none" stroke-width="0.5" fill-opacity="0.42"/>
<circle cx="567.46" cy="846.35" r="1.85" fill="#999" stroke="none" stroke-width="0.5" fill-opacity="0.42"/>
<circle cx="549.04" cy="836.47" r="1.85" fill="#999" stroke="none" stroke-width="0.5" fill-opacity="0.42"/>
<circle cx="542.08" cy="836.56" r="1.85" fill="#999" stroke="none" stroke-width="0.5" fill-opacity="0.42"/>
<circle cx="562.06" cy="841.03" r="1.85" fill="#999" stroke="none" stroke-width="0.5" fill-opacity="0.42"/>
<circle cx="564.74" cy="845.45" r="1.85" fill="#999" stroke="none" stroke-width="0.5" fill-opacity="0.42"/>
<circle cx="555.94" cy="830.11" r="1.85" fill="#999" stroke="none" stroke-width="0.5" fill-opacity="0.42"/>
<circle cx="567.29" cy="827.26" r="1.85" fill="#999" stroke="none" stroke-width="0.5" fill-opacity="0.42"/>
<circle cx="557.02" cy="833.41" r="1.85" fill="#999" stroke="none" stroke-width="0.5" fill-opacity="0.42"/>
<circle cx="573.72" cy="824.62" r="1.85" fill="#999" stroke="none" stroke-width="0.5" fill-opacity="0.42"/>
<circle cx="555.86" cy="834.30" r="1.85" fill="#999" stroke="none" stroke-width="0.5" fill-opacity="0.42"/>
<circle cx="565.46" cy="857.32" r="1.85" fill="#999" stroke="none" stroke-width="0.5" fill-opacity="0.42"/>
<circle cx="579.70" cy="833.49" r="1.85" fill="#999" stroke="none" stroke-width="0.5" fill-opacity="0.42"/>
<circle cx="602.00" cy="848.86" r="1.85" fill="#999" stroke="none" stroke-width="0.5" fill-opacity="0.42"/>
<circle cx="551.89" cy="830.66" r="1.85" fill="#999" stroke="none" stroke-width="0.5" fill-opacity="0.42"/>
<circle cx="559.50" cy="845.69" r="1.85" fill="#999" stroke="none" stroke-width="0.5" fill-opacity="0.42"/>
<circle cx="554.24" cy="840.12" r="1.85" fill="#999" stroke="none" stroke-width="0.5" fill-opacity="0.42"/>
<circle cx="576.98" cy="842.46" r="1.85" fill="#999" stroke="none" stroke-width="0.5" fill-opacity="0.42"/>
<circle cx="549.93" cy="848.12" r="1.85" fill="#999" stroke="none" stroke-width="0.5" fill-opacity="0.42"/>
<circle cx="559.22" cy="858.81" r="1.85" fill="#999" stroke="none" stroke-width="0.5" fill-opacity="0.42"/>
<circle cx="565.59" cy="844.75" r="1.85" fill="#999" stroke="none" stroke-width="0.5" fill-opacity="0.42"/>
<circle cx="552.30" cy="844.12" r="1.85" fill="#999" stroke="none" stroke-width="0.5" fill-opacity="0.42"/>
<circle cx="552.60" cy="834.24" r="1.85" fill="#999" stroke="none" stroke-width="0.5" fill-opacity="0.42"/>
<circle cx="559.34" cy="848.25" r="1.85" fill="#999" stroke="none" stroke-width="0.5" fill-opacity="0.42"/>
<circle cx="536.59" cy="840.79" r="1.85" fill="#999" stroke="none" stroke-width="0.5" fill-opacity="0.42"/>
<circle cx="545.76" cy="850.49" r="1.85" fill="#999" stroke="none" stroke-width="0.5" fill-opacity="0.42"/>
<circle cx="560.22" cy="842.61" r="1.85" fill="#999" stroke="none" stroke-width="0.5" fill-opacity="0.42"/>
<circle cx="568.08" cy="858.67" r="1.85" fill="#999" stroke="none" stroke-width="0.5" fill-opacity="0.42"/>
<circle cx="563.40" cy="825.15" r="1.85" fill="#999" stroke="none" stroke-width="0.5" fill-opacity="0.42"/>
<circle cx="541.16" cy="840.33" r="1.85" fill="#999" stroke="none" stroke-width="0.5" fill-opacity="0.42"/>
<circle cx="559.51" cy="850.93" r="1.85" fill="#999" stroke="none" stroke-width="0.5" fill-opacity="0.42"/>
<circle cx="577.18" cy="839.84" r="1.85" fill="#999" stroke="none" stroke-width="0.5" fill-opacity="0.42"/>
<circle cx="573.78" cy="835.87" r="1.85" fill="#999" stroke="none" stroke-width="0.5" fill-opacity="0.42"/>
<circle cx="564.90" cy="840.61" r="1.85" fill="#999" stroke="none" stroke-width="0.5" fill-opacity="0.42"/>
<circle cx="553.58" cy="830.58" r="1.85" fill="#999" stroke="none" stroke-width="0.5" fill-opacity="0.42"/>
<circle cx="574.84" cy="844.07" r="1.85" fill="#999" stroke="none" stroke-width="0.5" fill-opacity="0.42"/>
<circle cx="557.89" cy="864.96" r="1.85" fill="#999" stroke="none" stroke-width="0.5" fill-opacity="0.42"/>
<circle cx="549.63" cy="853.31" r="1.85" fill="#999" stroke="none" stroke-width="0.5" fill-opacity="0.42"/>
<circle cx="554.77" cy="833.02" r="1.85" fill="#999" stroke="none" stroke-width="0.5" fill-opacity="0.42"/>
<circle cx="586.28" cy="835.14" r="1.85" fill="#999" stroke="none" stroke-width="0.5" fill-opacity="0.42"/>
<circle cx="569.08" cy="839.36" r="1.85" fill="#999" stroke="none" stroke-width="0.5" fill-opacity="0.42"/>
<circle cx="582.23" cy="852.04" r="1.85" fill="#999" stroke="none" stroke-width="0.5" fill-opacity="0.42"/>
<circle cx="559.29" cy="835.61" r="1.85" fill="#999" stroke="none" stroke-width="0.5" fill-opacity="0.42"/>
<circle cx="579.13" cy="836.79" r="1.85" fill="#999" stroke="none" stroke-width="0.5" fill-opacity="0.42"/>
<circle cx="557.58" cy="850.96" r="1.85" fill="#999" stroke="none" stroke-width="0.5" fill-opacity="0.42"/>
<circle cx="587.67" cy="858.17" r="1.85" fill="#999" stroke="none" stroke-width="0.5" fill-opacity="0.5"/>
<circle cx="548.04" cy="863.04" r="1.85" fill="#999" stroke="none" stroke-width="0.5" fill-opacity="0.5"/>
<circle cx="524.23" cy="836.57" r="1.85" fill="#999" stroke="none" stroke-width="0.5" fill-opacity="0.5"/>
<circle cx="510.41" cy="863.56" r="1.85" fill="#999" stroke="none" stroke-width="0.5" fill-opacity="0.5"/>
<circle cx="537.63" cy="868.30" r="1.85" fill="#999" stroke="none" stroke-width="0.5" fill-opacity="0.5"/>
<circle cx="488.62" cy="867.60" r="1.85" fill="#999" stroke="none" stroke-width="0.5" fill-opacity="0.5"/>
<circle cx="583.99" cy="872.41" r="1.85" fill="#999" stroke="none" stroke-width="0.5" fill-opacity="0.5"/>
<circle cx="539.84" cy="843.23" r="1.85" fill="#999" stroke="none" stroke-width="0.5" fill-opacity="0.5"/>
<circle cx="575.40" cy="842.69" r="1.85" fill="#999" stroke="none" stroke-width="0.5" fill-opacity="0.5"/>
<circle cx="619.79" cy="861.68" r="1.85" fill="#999" stroke="none" stroke-width="0.5" fill-opacity="0.5"/>
<circle cx="597.54" cy="820.04" r="1.85" fill="#999" stroke="none" stroke-width="0.5" fill-opacity="0.5"/>
<circle cx="523.16" cy="849.98" r="1.85" fill="#999" stroke="none" stroke-width="0.5" fill-opacity="0.5"/>
<circle cx="587.82" cy="835.92" r="1.85" fill="#999" stroke="none" stroke-width="0.5" fill-opacity="0.5"/>
<circle cx="597.05" cy="838.99" r="1.85" fill="#999" stroke="none" stroke-width="0.5" fill-opacity="0.5"/>
<circle cx="536.12" cy="812.91" r="1.85" fill="#999" stroke="none" stroke-width="0.5" fill-opacity="0.5"/>
<circle cx="529.49" cy="829.08" r="1.85" fill="#999" stroke="none" stroke-width="0.5" fill-opacity="0.5"/>
<circle cx="556.49" cy="845.61" r="1.85" fill="#999" stroke="none" stroke-width="0.5" fill-opacity="0.5"/>
<circle cx="508.75" cy="862.88" r="1.85" fill="#999" stroke="none" stroke-width="0.5" fill-opacity="0.5"/>
<circle cx="607.06" cy="864.81" r="1.85" fill="#999" stroke="none" stroke-width="0.5" fill-opacity="0.5"/>
<circle cx="483.03" cy="844.47" r="1.85" fill="#999" stroke="none" stroke-width="0.5" fill-opacity="0.5"/>
<circle cx="524.58" cy="842.40" r="1.85" fill="#999" stroke="none" stroke-width="0.5" fill-opacity="0.5"/>
<circle cx="551.37" cy="830.22" r="1.85" fill="#999" stroke="none" stroke-width="0.5" fill-opacity="0.5"/>
<circle cx="552.73" cy="853.64" r="1.85" fill="#999" stroke="none" stroke-width="0.5" fill-opacity="0.5"/>
<circle cx="565.32" cy="841.30" r="1.85" fill="#999" stroke="none" stroke-width="0.5" fill-opacity="0.5"/>
<circle cx="568.69" cy="857.51" r="1.85" fill="#999" stroke="none" stroke-width="0.5" fill-opacity="0.5"/>
<circle cx="553.16" cy="879.28" r="1.85" fill="#999" stroke="none" stroke-width="0.5" fill-opacity="0.5"/>
<circle cx="596.38" cy="845.38" r="1.85" fill="#999" stroke="none" stroke-width="0.5" fill-opacity="0.5"/>
<circle cx="491.54" cy="817.55" r="1.85" fill="#999" stroke="none" stroke-width="0.5" fill-opacity="0.5"/>
<circle cx="559.99" cy="829.64" r="1.85" fill="#999" stroke="none" stroke-width="0.5" fill-opacity="0.5"/>
<circle cx="537.13" cy="818.30" r="1.85" fill="#999" stroke="none" stroke-width="0.5" fill-opacity="0.5"/>
<circle cx="564.24" cy="823.25" r="1.85" fill="#999" stroke="none" stroke-width="0.5" fill-opacity="0.5"/>
<circle cx="567.06" cy="870.80" r="1.85" fill="#999" stroke="none" stroke-width="0.5" fill-opacity="0.5"/>
<circle cx="530.82" cy="850.31" r="1.85" fill="#999" stroke="none" stroke-width="0.5" fill-opacity="0.5"/>
<circle cx="539.49" cy="817.12" r="1.85" fill="#999" stroke="none" stroke-width="0.5" fill-opacity="0.5"/>
<circle cx="585.36" cy="858.42" r="1.85" fill="#999" stroke="none" stroke-width="0.5" fill-opacity="0.5"/>
<circle cx="571.17" cy="869.95" r="1.85" fill="#999" stroke="none" stroke-width="0.5" fill-opacity="0.5"/>
<circle cx="538.23" cy="839.16" r="1.85" fill="#999" stroke="none" stroke-width="0.5" fill-opacity="0.5"/>
<circle cx="625.28" cy="833.16" r="1.85" fill="#999" stroke="none" stroke-width="0.5" fill-opacity="0.5"/>
<circle cx="633.89" cy="839.59" r="1.85" fill="#999" stroke="none" stroke-width="0.5" fill-opacity="0.5"/>
<circle cx="513.20" cy="851.41" r="1.85" fill="#999" stroke="none" stroke-width="0.5" fill-opacity="0.5"/>
<circle cx="569.66" cy="858.16" r="1.85" fill="#999" stroke="none" stroke-width="0.5" fill-opacity="0.5"/>
<circle cx="640.29" cy="868.46" r="1.85" fill="#999" stroke="none" stroke-width="0.5" fill-opacity="0.5"/>
<circle cx="585.08" cy="869.04" r="1.85" fill="#999" stroke="none" stroke-width="0.5" fill-opacity="0.5"/>
<circle cx="567.07" cy="868.52" r="1.85" fill="#999" stroke="none" stroke-width="0.5" fill-opacity="0.5"/>
<circle cx="553.34" cy="871.88" r="1.85" fill="#999" stroke="none" stroke-width="0.5" fill-opacity="0.5"/>
<circle cx="542.68" cy="858.57" r="1.85" fill="#999" stroke="none" stroke-width="0.5" fill-opacity="0.5"/>
<circle cx="553.20" cy="816.91" r="1.85" fill="#999" stroke="none" stroke-width="0.5" fill-opacity="0.5"/>
<circle cx="542.38" cy="843.51" r="1.85" fill="#999" stroke="none" stroke-width="0.5" fill-opacity="0.5"/>
<circle cx="583.84" cy="851.96" r="1.85" fill="#999" stroke="none" stroke-width="0.5" fill-opacity="0.5"/>
<circle cx="547.26" cy="838.72" r="1.85" fill="#999" stroke="none" stroke-width="0.5" fill-opacity="0.5"/>
<circle cx="545.88" cy="863.31" r="1.85" fill="#999" stroke="none" stroke-width="0.5" fill-opacity="0.5"/>
<circle cx="521.53" cy="839.16" r="1.85" fill="#999" stroke="none" stroke-width="0.5" fill-opacity="0.5"/>
<circle cx="558.41" cy="828.41" r="1.85" fill="#999" stroke="none" stroke-width="0.5" fill-opacity="0.5"/>
<circle cx="531.39" cy="873.44" r="1.85" fill="#999" stroke="none" stroke-width="0.5" fill-opacity="0.5"/>
<circle cx="554.22" cy="858.65" r="1.85" fill="#999" stroke="none" stroke-width="0.5" fill-opacity="0.5"/>
<circle cx="593.34" cy="850.17" r="1.85" fill="#999" stroke="none" stroke-width="0.5" fill-opacity="0.5"/>
<circle cx="571.71" cy="863.61" r="1.85" fill="#999" stroke="none" stroke-width="0.5" fill-opacity="0.5"/>
<circle cx="576.15" cy="866.19" r="1.85" fill="#999" stroke="none" stroke-width="0.5" fill-opacity="0.5"/>
<circle cx="571.39" cy="852.48" r="1.85" fill="#999" stroke="none" stroke-width="0.5" fill-opacity="0.5"/>
<circle cx="561.89" cy="799.30" r="1.85" fill="#999" stroke="none" stroke-width="0.5" fill-opacity="0.5"/>
<circle cx="555.93" cy="833.16" r="1.85" fill="#999" stroke="none" stroke-width="0.5" fill-opacity="0.5"/>
<circle cx="550.15" cy="837.32" r="1.85" fill="#999" stroke="none" stroke-width="0.5" fill-opacity="0.5"/>
<circle cx="584.29" cy="827.30" r="1.85" fill="#999" stroke="none" stroke-width="0.5" fill-opacity="0.5"/>
<circle cx="525.30" cy="849.77" r="1.85" fill="#999" stroke="none" stroke-width="0.5" fill-opacity="0.5"/>
<circle cx="602.90" cy="868.65" r="1.85" fill="#999" stroke="none" stroke-width="0.5" fill-opacity="0.5"/>
<circle cx="561.09" cy="836.79" r="1.85" fill="#999" stroke="none" stroke-width="0.5" fill-opacity="0.5"/>
<circle cx="536.04" cy="824.44" r="1.85" fill="#999" stroke="none" stroke-width="0.5" fill-opacity="0.5"/>
<circle cx="544.35" cy="884.53" r="1.85" fill="#999" stroke="none" stroke-width="0.5" fill-opacity="0.5"/>
<circle cx="538.34" cy="837.42" r="1.85" fill="#999" stroke="none" stroke-width="0.5" fill-opacity="0.5"/>
<circle cx="565.13" cy="822.57" r="1.85" fill="#999" stroke="none" stroke-width="0.5" fill-opacity="0.5"/>
<circle cx="537.03" cy="850.52" r="1.85" fill="#999" stroke="none" stroke-width="0.5" fill-opacity="0.5"/>
<circle cx="596.55" cy="854.09" r="1.85" fill="#999" stroke="none" stroke-width="0.5" fill-opacity="0.5"/>
<circle cx="534.99" cy="832.60" r="1.85" fill="#999" stroke="none" stroke-width="0.5" fill-opacity="0.5"/>
<circle cx="487.28" cy="861.02" r="1.85" fill="#999" stroke="none" stroke-width="0.5" fill-opacity="0.5"/>
<circle cx="536.61" cy="836.74" r="1.85" fill="#999" stroke="none" stroke-width="0.5" fill-opacity="0.5"/>
<circle cx="495.73" cy="828.46" r="1.85" fill="#999" stroke="none" stroke-width="0.5" fill-opacity="0.5"/>
<circle cx="558.72" cy="849.39" r="1.85" fill="#999" stroke="none" stroke-width="0.5" fill-opacity="0.5"/>
<circle cx="593.89" cy="860.64" r="1.85" fill="#999" stroke="none" stroke-width="0.5" fill-opacity="0.5"/>
<circle cx="580.73" cy="833.96" r="1.85" fill="#999" stroke="none" stroke-width="0.5" fill-opacity="0.5"/>
<circle cx="517.20" cy="852.28" r="1.85" fill="#999" stroke="none" stroke-width="0.5" fill-opacity="0.5"/>
<circle cx="535.61" cy="844.22" r="1.85" fill="#999" stroke="none" stroke-width="0.5" fill-opacity="0.5"/>
<circle cx="616.92" cy="899.66" r="1.85" fill="#999" stroke="none" stroke-width="0.5" fill-opacity="0.5"/>
<circle cx="570.19" cy="832.54" r="1.85" fill="#999" stroke="none" stroke-width="0.5" fill-opacity="0.5"/>
<circle cx="560.13" cy="872.30" r="1.85" fill="#999" stroke="none" stroke-width="0.5" fill-opacity="0.5"/>
<circle cx="593.79" cy="845.01" r="1.85" fill="#999" stroke="none" stroke-width="0.5" fill-opacity="0.5"/>
<circle cx="638.49" cy="843.59" r="1.85" fill="#999" stroke="none" stroke-width="0.5" fill-opacity="0.5"/>
<circle cx="601.49" cy="859.71" r="1.85" fill="#999" stroke="none" stroke-width="0.5" fill-opacity="0.5"/>
<circle cx="564.46" cy="862.99" r="1.85" fill="#999" stroke="none" stroke-width="0.5" fill-opacity="0.5"/>
<circle cx="571.35" cy="870.07" r="1.85" fill="#999" stroke="none" stroke-width="0.5" fill-opacity="0.5"/>
<circle cx="579.75" cy="852.24" r="1.85" fill="#999" stroke="none" stroke-width="0.5" fill-opacity="0.5"/>
<circle cx="540.39" cy="834.59" r="1.85" fill="#999" stroke="none" stroke-width="0.5" fill-opacity="0.5"/>
<circle cx="526.12" cy="835.78" r="1.85" fill="#999" stroke="none" stroke-width="0.5" fill-opacity="0.5"/>
<circle cx="561.68" cy="855.68" r="1.85" fill="#999" stroke="none" stroke-width="0.5" fill-opacity="0.5"/>
<circle cx="529.69" cy="857.04" r="1.85" fill="#999" stroke="none" stroke-width="0.5" fill-opacity="0.5"/>
<circle cx="558.03" cy="872.56" r="1.85" fill="#999" stroke="none" stroke-width="0.5" fill-opacity="0.5"/>
<circle cx="563.08" cy="853.95" r="1.85" fill="#999" stroke="none" stroke-width="0.5" fill-opacity="0.5"/>
<circle cx="634.91" cy="866.14" r="1.85" fill="#999" stroke="none" stroke-width="0.5" fill-opacity="0.5"/>
<circle cx="532.77" cy="874.82" r="1.85" fill="#999" stroke="none" stroke-width="0.5" fill-opacity="0.5"/>
<circle cx="556.10" cy="849.13" r="1.85" fill="#999" stroke="none" stroke-width="0.5" fill-opacity="0.5"/>
<circle cx="554.74" cy="817.77" r="1.85" fill="#999" stroke="none" stroke-width="0.5" fill-opacity="0.5"/>
<circle cx="573.99" cy="823.59" r="1.85" fill="#999" stroke="none" stroke-width="0.5" fill-opacity="0.5"/>
<circle cx="593.50" cy="818.68" r="1.85" fill="#999" stroke="none" stroke-width="0.5" fill-opacity="0.5"/>
<circle cx="544.30" cy="876.24" r="1.85" fill="#999" stroke="none" stroke-width="0.5" fill-opacity="0.5"/>
<circle cx="533.72" cy="829.90" r="1.85" fill="#999" stroke="none" stroke-width="0.5" fill-opacity="0.5"/>
<circle cx="507.50" cy="869.40" r="1.85" fill="#999" stroke="none" stroke-width="0.5" fill-opacity="0.5"/>
<circle cx="530.36" cy="857.13" r="1.85" fill="#999" stroke="none" stroke-width="0.5" fill-opacity="0.5"/>
<circle cx="577.17" cy="878.59" r="1.85" fill="#999" stroke="none" stroke-width="0.5" fill-opacity="0.5"/>
<circle cx="561.46" cy="865.06" r="1.85" fill="#999" stroke="none" stroke-width="0.5" fill-opacity="0.5"/>
<circle cx="527.51" cy="844.05" r="1.85" fill="#999" stroke="none" stroke-width="0.5" fill-opacity="0.5"/>
<circle cx="548.07" cy="842.20" r="1.85" fill="#999" stroke="none" stroke-width="0.5" fill-opacity="0.5"/>
<circle cx="561.01" cy="847.62" r="1.85" fill="#999" stroke="none" stroke-width="0.5" fill-opacity="0.5"/>
<circle cx="576.12" cy="849.33" r="1.85" fill="#999" stroke="none" stroke-width="0.5" fill-opacity="0.5"/>
<circle cx="541.01" cy="835.92" r="1.85" fill="#999" stroke="none" stroke-width="0.5" fill-opacity="0.5"/>
<circle cx="551.99" cy="845.38" r="1.85" fill="#999" stroke="none" stroke-width="0.5" fill-opacity="0.5"/>
<circle cx="501.81" cy="876.58" r="1.85" fill="#999" stroke="none" stroke-width="0.5" fill-opacity="0.5"/>
<circle cx="523.16" cy="813.66" r="1.85" fill="#999" stroke="none" stroke-width="0.5" fill-opacity="0.5"/>
<circle cx="611.77" cy="850.91" r="1.85" fill="#999" stroke="none" stroke-width="0.5" fill-opacity="0.5"/>
<circle cx="489.98" cy="828.77" r="1.85" fill="#999" stroke="none" stroke-width="0.5" fill-opacity="0.5"/>
<circle cx="549.19" cy="849.55" r="1.85" fill="#999" stroke="none" stroke-width="0.5" fill-opacity="0.5"/>
<circle cx="567.01" cy="861.96" r="1.85" fill="#999" stroke="none" stroke-width="0.5" fill-opacity="0.5"/>
<circle cx="548.02" cy="844.91" r="1.85" fill="#999" stroke="none" stroke-width="0.5" fill-opacity="0.5"/>
<circle cx="534.14" cy="860.69" r="1.85" fill="#999" stroke="none" stroke-width="0.5" fill-opacity="0.5"/>
<circle cx="558.05" cy="815.79" r="1.85" fill="#999" stroke="none" stroke-width="0.5" fill-opacity="0.5"/>
<circle cx="559.84" cy="867.03" r="1.85" fill="#999" stroke="none" stroke-width="0.5" fill-opacity="0.5"/>
<circle cx="557.37" cy="834.54" r="1.85" fill="#999" stroke="none" stroke-width="0.5" fill-opacity="0.5"/>
<circle cx="499.91" cy="857.83" r="1.85" fill="#999" stroke="none" stroke-width="0.5" fill-opacity="0.5"/>
<circle cx="555.28" cy="849.47" r="1.85" fill="#999" stroke="none" stroke-width="0.5" fill-opacity="0.5"/>
<circle cx="532.64" cy="796.87" r="1.85" fill="#999" stroke="none" stroke-width="0.5" fill-opacity="0.5"/>
<circle cx="542.47" cy="831.63" r="1.85" fill="#999" stroke="none" stroke-width="0.5" fill-opacity="0.5"/>
<circle cx="567.26" cy="850.19" r="1.85" fill="#999" stroke="none" stroke-width="0.5" fill-opacity="0.5"/>
<circle cx="611.10" cy="780.60" r="1.85" fill="#999" stroke="none" stroke-width="0.5" fill-opacity="0.5"/>
<circle cx="451.40" cy="830.10" r="1.85" fill="#999" stroke="none" stroke-width="0.5" fill-opacity="0.5"/>
<circle cx="453.20" cy="833.70" r="1.85" fill="#999" stroke="none" stroke-width="0.5" fill-opacity="0.5"/>
<circle cx="450.60" cy="842.70" r="1.85" fill="#999" stroke="none" stroke-width="0.5" fill-opacity="0.5"/>
<circle cx="477.20" cy="814.30" r="1.85" fill="#999" stroke="none" stroke-width="0.5" fill-opacity="0.5"/>
<circle cx="483.70" cy="830.10" r="1.85" fill="#999" stroke="none" stroke-width="0.5" fill-opacity="0.5"/>
<circle cx="503.40" cy="858.10" r="1.85" fill="#999" stroke="none" stroke-width="0.5" fill-opacity="0.5"/>
<circle cx="513.10" cy="883.30" r="1.85" fill="#999" stroke="none" stroke-width="0.5" fill-opacity="0.5"/>
<circle cx="618.30" cy="900.10" r="1.85" fill="#999" stroke="none" stroke-width="0.5" fill-opacity="0.5"/>
<circle cx="651.70" cy="851.00" r="1.85" fill="#999" stroke="none" stroke-width="0.5" fill-opacity="0.5"/>
<circle cx="641.00" cy="840.20" r="1.85" fill="#999" stroke="none" stroke-width="0.5" fill-opacity="0.5"/>
<circle cx="629.10" cy="840.20" r="1.85" fill="#999" stroke="none" stroke-width="0.5" fill-opacity="0.5"/>
<circle cx="605.80" cy="862.40" r="1.85" fill="#999" stroke="none" stroke-width="0.5" fill-opacity="0.5"/>
<circle cx="595.00" cy="873.20" r="1.85" fill="#999" stroke="none" stroke-width="0.5" fill-opacity="0.5"/>
<circle cx="616.50" cy="833.70" r="1.85" fill="#999" stroke="none" stroke-width="0.5" fill-opacity="0.5"/>
<circle cx="470.00" cy="845.00" r="1.85" fill="#999" stroke="none" stroke-width="0.5" fill-opacity="0.5"/>
<circle cx="465.00" cy="842.00" r="1.85" fill="#999" stroke="none" stroke-width="0.5" fill-opacity="0.5"/>
<circle cx="490.00" cy="820.00" r="1.85" fill="#999" stroke="none" stroke-width="0.5" fill-opacity="0.5"/>
<circle cx="500.00" cy="835.00" r="1.85" fill="#999" stroke="none" stroke-width="0.5" fill-opacity="0.5"/>
<circle cx="600.00" cy="805.00" r="1.85" fill="#999" stroke="none" stroke-width="0.5" fill-opacity="0.5"/>
<circle cx="590.00" cy="790.00" r="1.85" fill="#999" stroke="none" stroke-width="0.5" fill-opacity="0.5"/>
<circle cx="540.00" cy="885.00" r="1.85" fill="#999" stroke="none" stroke-width="0.5" fill-opacity="0.5"/>
<circle cx="530.00" cy="895.00" r="1.85" fill="#999" stroke="none" stroke-width="0.5" fill-opacity="0.5"/>
<circle cx="575.00" cy="898.00" r="1.85" fill="#999" stroke="none" stroke-width="0.5" fill-opacity="0.5"/>
<circle cx="532.00" cy="834.00" r="1.85" fill="#999" stroke="none" stroke-width="0.5" fill-opacity="0.5"/>
<line x1="545.00" y1="795.90" x2="537.80" y2="813.90" stroke="#555" stroke-width="0.45"/>
<line x1="526.20" y1="805.00" x2="532.40" y2="818.70" stroke="#555" stroke-width="0.45"/>
<line x1="550.00" y1="810.20" x2="538.70" y2="832.10" stroke="#555" stroke-width="0.45"/>
<line x1="528.50" y1="818.80" x2="532.90" y2="823.80" stroke="#555" stroke-width="0.45"/>
<line x1="528.90" y1="832.70" x2="538.70" y2="832.10" stroke="#555" stroke-width="0.45"/>
<line x1="528.90" y1="848.50" x2="531.50" y2="840.30" stroke="#555" stroke-width="0.45"/>
<line x1="540.00" y1="843.80" x2="539.10" y2="840.30" stroke="#555" stroke-width="0.45"/>
<line x1="585.00" y1="824.50" x2="591.40" y2="828.30" stroke="#555" stroke-width="0.45"/>
<line x1="626.80" y1="812.00" x2="625.70" y2="819.20" stroke="#555" stroke-width="0.45"/>
<line x1="585.50" y1="836.00" x2="579.20" y2="839.30" stroke="#555" stroke-width="0.45"/>
<circle cx="538.70" cy="832.10" r="1.90" fill="#2c1a66" stroke="none" stroke-width="0.5"/>
<circle cx="539.10" cy="840.30" r="1.90" fill="#6baed6" stroke="none" stroke-width="0.5"/>
<circle cx="625.70" cy="819.20" r="1.90" fill="#4292c6" stroke="none" stroke-width="0.5"/>
<circle cx="591.40" cy="828.30" r="1.90" fill="#5fa0d0" stroke="none" stroke-width="0.5"/>
<circle cx="579.20" cy="839.30" r="1.90" fill="#a6cee3" stroke="none" stroke-width="0.5"/>
<circle cx="531.70" cy="839.90" r="1.90" fill="#7a7a7a" stroke="none" stroke-width="0.5"/>
<circle cx="532.40" cy="818.70" r="1.90" fill="#8f8f8f" stroke="none" stroke-width="0.5"/>
<circle cx="532.90" cy="823.80" r="1.90" fill="#9a9a9a" stroke="none" stroke-width="0.5"/>
<circle cx="537.80" cy="813.90" r="1.90" fill="#6e6e6e" stroke="none" stroke-width="0.5"/>
<rect x="531.60" y="787.80" width="39.20" height="8.10" fill="#fff" stroke="#6a6a6a" stroke-width="0.6" rx="1.8"/>
<text x="551.20" y="794.12" font-size="6.3" text-anchor="middle" fill="#000">PC ae C34:1</text>
<rect x="487.00" y="801.00" width="39.20" height="8.20" fill="#fff" stroke="#6a6a6a" stroke-width="0.6" rx="1.8"/>
<text x="506.60" y="807.37" font-size="6.3" text-anchor="middle" fill="#000">PC aa C34:1</text>
<rect x="533.60" y="801.50" width="47.00" height="8.70" fill="#fff" stroke="#6a6a6a" stroke-width="0.6" rx="1.8"/>
<text x="557.10" y="808.12" font-size="6.3" text-anchor="middle" fill="#000">SM (OH) C22:2</text>
<rect x="489.00" y="814.70" width="39.50" height="8.20" fill="#fff" stroke="#6a6a6a" stroke-width="0.6" rx="1.8"/>
<text x="508.75" y="821.07" font-size="6.3" text-anchor="middle" fill="#000">PC aa C36:1</text>
<rect x="489.70" y="828.60" width="39.20" height="8.20" fill="#fff" stroke="#6a6a6a" stroke-width="0.6" rx="1.8"/>
<text x="509.30" y="834.97" font-size="6.3" text-anchor="middle" fill="#000">PC ae C42:3</text>
<rect x="489.70" y="844.40" width="39.20" height="8.20" fill="#fff" stroke="#6a6a6a" stroke-width="0.6" rx="1.8"/>
<text x="509.30" y="850.77" font-size="6.3" text-anchor="middle" fill="#000">PC ae C38:4</text>
<rect x="533.60" y="843.80" width="46.00" height="8.10" fill="#fff" stroke="#6a6a6a" stroke-width="0.6" rx="1.8"/>
<text x="556.60" y="850.12" font-size="6.3" text-anchor="middle" fill="#000">DG(17:0_18:1)</text>
<rect x="570.30" y="816.00" width="51.80" height="8.50" fill="#fff" stroke="#6a6a6a" stroke-width="0.6" rx="1.8"/>
<text x="596.20" y="822.52" font-size="6.3" text-anchor="middle" fill="#000">DG−O(14:0_18:2)</text>
<rect x="626.80" y="808.20" width="44.40" height="8.20" fill="#fff" stroke="#6a6a6a" stroke-width="0.6" rx="1.8"/>
<text x="649.00" y="814.57" font-size="6.3" text-anchor="middle" fill="#000">TG(20:4_33:2)</text>
<rect x="585.50" y="832.30" width="16.90" height="8.00" fill="#fff" stroke="#6a6a6a" stroke-width="0.6" rx="1.8"/>
<text x="593.95" y="838.57" font-size="6.3" text-anchor="middle" fill="#000">EPA</text>
<line x1="437.40" y1="725.70" x2="682.90" y2="725.70" stroke="#333" stroke-width="0.9"/>
<line x1="437.40" y1="725.70" x2="437.40" y2="959.50" stroke="#333" stroke-width="0.9"/>
<line x1="437.40" y1="959.50" x2="682.90" y2="959.50" stroke="#333" stroke-width="0.9"/>
<line x1="682.90" y1="725.70" x2="682.90" y2="959.50" stroke="#9a9a9a" stroke-width="0.9"/>
<line x1="435.20" y1="757.40" x2="437.40" y2="757.40" stroke="#333" stroke-width="0.6"/>
<text x="434.40" y="759.42" font-size="5.6" text-anchor="end" fill="#4d4d4d">2</text>
<line x1="435.20" y1="800.00" x2="437.40" y2="800.00" stroke="#333" stroke-width="0.6"/>
<text x="434.40" y="802.02" font-size="5.6" text-anchor="end" fill="#4d4d4d">1</text>
<line x1="435.20" y1="842.60" x2="437.40" y2="842.60" stroke="#333" stroke-width="0.6"/>
<text x="434.40" y="844.62" font-size="5.6" text-anchor="end" fill="#4d4d4d">0</text>
<line x1="435.20" y1="885.20" x2="437.40" y2="885.20" stroke="#333" stroke-width="0.6"/>
<text x="434.40" y="887.22" font-size="5.6" text-anchor="end" fill="#4d4d4d">−1</text>
<line x1="435.20" y1="927.80" x2="437.40" y2="927.80" stroke="#333" stroke-width="0.6"/>
<text x="434.40" y="929.82" font-size="5.6" text-anchor="end" fill="#4d4d4d">−2</text>
<line x1="469.70" y1="959.50" x2="469.70" y2="961.70" stroke="#333" stroke-width="0.6"/>
<text x="469.70" y="966.53" font-size="5.6" text-anchor="middle" fill="#4d4d4d">−2</text>
<line x1="514.90" y1="959.50" x2="514.90" y2="961.70" stroke="#333" stroke-width="0.6"/>
<text x="514.90" y="966.53" font-size="5.6" text-anchor="middle" fill="#4d4d4d">−1</text>
<line x1="560.10" y1="959.50" x2="560.10" y2="961.70" stroke="#333" stroke-width="0.6"/>
<text x="560.10" y="966.53" font-size="5.6" text-anchor="middle" fill="#4d4d4d">0</text>
<line x1="605.30" y1="959.50" x2="605.30" y2="961.70" stroke="#333" stroke-width="0.6"/>
<text x="605.30" y="966.53" font-size="5.6" text-anchor="middle" fill="#4d4d4d">1</text>
<line x1="650.50" y1="959.50" x2="650.50" y2="961.70" stroke="#333" stroke-width="0.6"/>
<text x="650.50" y="966.53" font-size="5.6" text-anchor="middle" fill="#4d4d4d">2</text>
<text x="561.20" y="974.20" font-size="6.72" text-anchor="middle" fill="#1a1a1a">Microbiome Effect Estimate (SPF / GF)</text>
<text transform="translate(426.30,842.60) rotate(-90)" font-size="6.83" text-anchor="middle" fill="#1a1a1a">Genotype Effect Estimate (ASO / WT)</text>
</svg>
</body></html>
